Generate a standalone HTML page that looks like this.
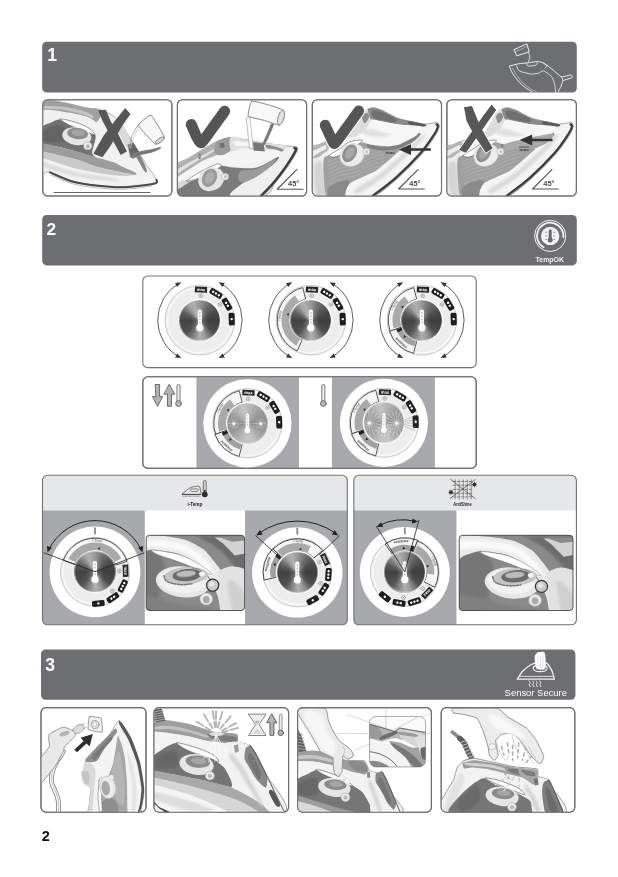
<!DOCTYPE html>
<html lang="en">
<head>
<meta charset="utf-8">
<title>Quick guide 2</title>
<style>
html,body{margin:0;padding:0;background:#fff;}
body{width:618px;height:877px;overflow:hidden;position:relative;font-family:"Liberation Sans",sans-serif;}
svg{position:absolute;left:0;top:0;display:block;filter:blur(0.35px);}
text{font-family:"Liberation Sans",sans-serif;}
.knob{width:100%;height:100%;border-radius:50%;}
</style>
</head>
<body>
<svg width="618" height="877" viewBox="0 0 618 877">
<!-- p_00_defs -->
<defs>
<linearGradient id="gBody" x1="0" y1="0" x2="0" y2="1"><stop offset="0" stop-color="#f4f4f4"/><stop offset="1" stop-color="#d0d0d0"/></linearGradient>
<radialGradient id="gKnobSh" cx="0.5" cy="0.5" r="0.5"><stop offset="0.85" stop-color="#000" stop-opacity="0"/><stop offset="1" stop-color="#000" stop-opacity="0.25"/></radialGradient>
<filter id="b1" x="-20%" y="-20%" width="140%" height="140%"><feGaussianBlur stdDeviation="1"/></filter>
<filter id="b2" x="-20%" y="-20%" width="140%" height="140%"><feGaussianBlur stdDeviation="2"/></filter>
<filter id="b4" x="-30%" y="-30%" width="160%" height="160%"><feGaussianBlur stdDeviation="4"/></filter>
<filter id="b8" x="-30%" y="-30%" width="160%" height="160%"><feGaussianBlur stdDeviation="8"/></filter>
<marker id="ah" viewBox="0 0 10 10" refX="8" refY="5" markerWidth="5" markerHeight="5" orient="auto-start-reverse"><path d="M0,0L10,5L0,10Z" fill="#333"/></marker>
</defs>
<!-- p_10_frame -->
<rect x="42.2" y="41.8" width="534.6" height="50.8" rx="4.5" fill="#6d6e71"/>
<rect x="42.2" y="215" width="534.6" height="50.4" rx="4.5" fill="#6d6e71"/>
<rect x="41" y="649.4" width="534.4" height="50.4" rx="4.5" fill="#6d6e71"/>
<text x="47.2" y="60.7" font-size="17.6" font-weight="bold" fill="#fff">1</text>
<text x="46.6" y="234.8" font-size="17.4" font-weight="bold" fill="#fff">2</text>
<text x="45.2" y="670.5" font-size="17.6" font-weight="bold" fill="#fff">3</text>
<text x="41.8" y="840.9" font-size="14.5" font-weight="bold" fill="#111">2</text>
<!-- p_15_icons -->
<clipPath id="cpH1"><rect x="42.2" y="41.8" width="534.6" height="50.8" rx="4.5"/></clipPath>
<g clip-path="url(#cpH1)"><g transform="translate(490,36) scale(0.16181)" ><path d="M150.0,84.0L228.0,48.0L242.0,98.0L168.0,122.0Z" fill="none" stroke="#f2f2f2" stroke-width="6" stroke-linejoin="round" stroke-linecap="round"/><path d="M160.0,96.0L232.0,64.0" fill="none" stroke="#f2f2f2" stroke-width="4" stroke-linejoin="round" stroke-linecap="round" opacity="0.7"/><path d="M238.0,100.0C239.3,105.0 246.3,119.7 246.0,130.0C245.7,140.3 237.7,156.7 236.0,162.0" fill="none" stroke="#f2f2f2" stroke-width="5" stroke-linejoin="round" stroke-linecap="round"/><path d="M120.0,186.0C125.5,184.6 163.8,174.0 175.0,172.0C186.2,170.0 220.5,167.4 232.0,166.0C243.5,164.6 280.2,158.0 290.0,158.0C299.8,158.0 320.0,160.8 330.0,166.0C340.0,171.2 378.8,201.4 390.0,210.0C401.2,218.6 431.0,249.0 442.0,252.0C453.0,255.0 493.6,239.4 500.0,240.0C506.4,240.6 510.8,254.4 506.0,258.0C501.2,261.6 458.6,270.8 452.0,276.0C445.4,281.2 443.2,303.0 440.0,310.0C436.8,317.0 422.0,342.4 420.0,346.0" fill="none" stroke="#f2f2f2" stroke-width="6" stroke-linejoin="round" stroke-linecap="round"/><path d="M120.0,186.0C123.3,193.7 130.0,215.7 140.0,232.0C150.0,248.3 166.7,269.3 180.0,284.0C193.3,298.7 206.3,309.7 220.0,320.0C233.7,330.3 255.0,341.7 262.0,346.0" fill="none" stroke="#f2f2f2" stroke-width="6" stroke-linejoin="round" stroke-linecap="round"/><path d="M140.0,200.0C145.0,208.3 158.3,234.0 170.0,250.0C181.7,266.0 196.7,283.3 210.0,296.0C223.3,308.7 236.7,317.7 250.0,326.0C263.3,334.3 283.3,342.7 290.0,346.0" fill="none" stroke="#f2f2f2" stroke-width="4" stroke-linejoin="round" stroke-linecap="round" opacity="0.75"/><path d="M165.0,182.0C166.5,185.3 171.5,209.7 180.0,215.0C188.5,220.3 238.0,233.5 250.0,235.0C262.0,236.5 292.0,232.0 300.0,230.0C308.0,228.0 322.0,213.0 330.0,215.0C338.0,217.0 373.0,241.5 380.0,250.0C387.0,258.5 397.5,290.4 400.0,300.0C402.5,309.6 404.5,341.4 405.0,346.0" fill="none" stroke="#f2f2f2" stroke-width="5" stroke-linejoin="round" stroke-linecap="round"/><path d="M225.0,168.0C226.0,169.8 229.0,184.8 235.0,186.0C241.0,187.2 279.3,182.6 285.0,180.0C290.7,177.4 291.3,162.0 292.0,160.0" fill="none" stroke="#f2f2f2" stroke-width="5" stroke-linejoin="round" stroke-linecap="round"/><path d="M330.0,170.0C333.3,172.0 348.3,177.0 350.0,182.0C351.7,187.0 341.7,197.0 340.0,200.0" fill="none" stroke="#f2f2f2" stroke-width="4" stroke-linejoin="round" stroke-linecap="round"/><path d="M442.0,252.0L452.0,276.0" fill="none" stroke="#f2f2f2" stroke-width="5" stroke-linejoin="round" stroke-linecap="round"/></g></g>
<circle cx="550.2" cy="235.9" r="15.6" fill="none" stroke="#f2f2f2" stroke-width="1"/>
<path d="M543.60,247.33A13.20,13.20 0 1 1 563.35,237.05" fill="none" stroke="#f2f2f2" stroke-width="1.8" stroke-linecap="round"/>
<circle cx="550.2" cy="235.9" r="9.2" fill="#f2f2f2"/>
<rect x="548.7" y="229.3" width="3" height="10" rx="1.5" fill="#6a6a6a"/>
<circle cx="550.2" cy="239.9" r="2.5" fill="#6a6a6a"/>
<path d="M545.2,232.3h2M545.2,235.9h2M545.2,239.5h2M553.2,232.3h2M553.2,235.9h2M553.2,239.5h2" stroke="#8a8a8a" stroke-width="0.8" fill="none"/>
<text x="549.8" y="261.5" font-size="6.9" font-weight="bold" fill="#f2f2f2" text-anchor="middle" textLength="28.6" lengthAdjust="spacingAndGlyphs">TempOK</text>
<g transform="translate(490,644) scale(0.16181)" ><path d="M170.0,216.0C173.0,211.4 192.0,178.6 200.0,170.0C208.0,161.4 240.0,135.8 250.0,130.0C260.0,124.2 290.0,113.2 300.0,112.0C310.0,110.8 342.0,113.2 350.0,118.0C358.0,122.8 375.6,151.8 380.0,160.0C384.4,168.2 392.4,194.4 394.0,200.0C395.6,205.6 395.8,214.4 396.0,216.0" fill="none" stroke="#f2f2f2" stroke-width="8" stroke-linejoin="round" stroke-linecap="round"/><path d="M168.0,217.0L398.0,217.0" fill="none" stroke="#f2f2f2" stroke-width="8" stroke-linejoin="round" stroke-linecap="round"/><path d="M182.0,200.0L392.0,200.0" fill="none" stroke="#f2f2f2" stroke-width="5" stroke-linejoin="round" stroke-linecap="round"/><ellipse cx="310" cy="150" rx="44" ry="21" fill="#6d6e71" stroke="#f2f2f2" stroke-width="7" stroke-linejoin="round" stroke-linecap="round"/><path d="M276.0,78.0C276.4,71.2 281.6,64.8 284.0,62.0C286.4,59.2 295.2,51.4 300.0,50.0C304.8,48.6 327.8,46.0 332.0,48.0C336.2,50.0 340.8,60.8 342.0,70.0C343.2,79.2 345.0,131.2 344.0,140.0C343.0,148.8 337.4,156.6 332.0,158.0C326.6,159.4 295.2,156.8 290.0,154.0C284.8,151.2 281.4,137.6 280.0,130.0C278.6,122.4 275.6,84.8 276.0,78.0Z" fill="#fff"/><path d="M296.0,80.0L296.0,140.0" fill="none" stroke="#bbb" stroke-width="3" stroke-linejoin="round" stroke-linecap="round"/><path d="M312.0,80.0L312.0,145.0" fill="none" stroke="#bbb" stroke-width="3" stroke-linejoin="round" stroke-linecap="round"/><path d="M327.0,80.0L327.0,140.0" fill="none" stroke="#bbb" stroke-width="3" stroke-linejoin="round" stroke-linecap="round"/><path d="M240.0,228.0C241.3,230.0 247.7,236.0 248.0,240.0C248.3,244.0 241.7,248.0 242.0,252.0C242.3,256.0 248.7,262.0 250.0,264.0" fill="none" stroke="#f2f2f2" stroke-width="6" stroke-linejoin="round" stroke-linecap="round"/><path d="M262.0,228.0C263.3,230.0 269.7,236.0 270.0,240.0C270.3,244.0 263.7,248.0 264.0,252.0C264.3,256.0 270.7,262.0 272.0,264.0" fill="none" stroke="#f2f2f2" stroke-width="6" stroke-linejoin="round" stroke-linecap="round"/><path d="M284.0,228.0C285.3,230.0 291.7,236.0 292.0,240.0C292.3,244.0 285.7,248.0 286.0,252.0C286.3,256.0 292.7,262.0 294.0,264.0" fill="none" stroke="#f2f2f2" stroke-width="6" stroke-linejoin="round" stroke-linecap="round"/><path d="M306.0,228.0C307.3,230.0 313.7,236.0 314.0,240.0C314.3,244.0 307.7,248.0 308.0,252.0C308.3,256.0 314.7,262.0 316.0,264.0" fill="none" stroke="#f2f2f2" stroke-width="6" stroke-linejoin="round" stroke-linecap="round"/></g>
<!-- p_20_sec1 -->
<clipPath id="cp10"><rect x="42.8" y="99.7" width="129.10000000000002" height="96.3" rx="5"/></clipPath>
<rect x="42.8" y="99.7" width="129.10000000000002" height="96.3" rx="5" fill="#fff" stroke="#707173" stroke-width="1.1"/>
<clipPath id="cp11"><rect x="177.4" y="99.7" width="129.20000000000002" height="96.3" rx="5"/></clipPath>
<rect x="177.4" y="99.7" width="129.20000000000002" height="96.3" rx="5" fill="#fff" stroke="#707173" stroke-width="1.1"/>
<clipPath id="cp12"><rect x="312.3" y="99.7" width="129.2" height="96.3" rx="5"/></clipPath>
<rect x="312.3" y="99.7" width="129.2" height="96.3" rx="5" fill="#fff" stroke="#707173" stroke-width="1.1"/>
<clipPath id="cp13"><rect x="446.9" y="99.7" width="129.5" height="96.3" rx="5"/></clipPath>
<rect x="446.9" y="99.7" width="129.5" height="96.3" rx="5" fill="#fff" stroke="#707173" stroke-width="1.1"/>
<!-- p_21_p11 -->
<g clip-path="url(#cp10)"><g transform="translate(42,98) scale(0.11403)" ><path d="M0.0,60.0C10.0,-38.3 26.7,23.0 60.0,20.0C93.3,17.0 143.3,30.7 200.0,42.0C256.7,53.3 350.0,78.3 400.0,88.0C450.0,97.7 460.0,86.3 500.0,100.0C540.0,113.7 596.7,131.7 640.0,170.0C683.3,208.3 716.7,265.0 760.0,330.0C803.3,395.0 859.3,495.8 900.0,560.0C940.7,624.2 989.0,683.3 1004.0,715.0C1019.0,746.7 1024.0,740.8 990.0,750.0C956.0,759.2 862.7,765.8 800.0,770.0C737.3,774.2 697.3,780.8 614.0,775.0C530.7,769.2 390.7,755.8 300.0,735.0C209.3,714.2 120.0,670.8 70.0,650.0C20.0,629.2 11.7,708.3 0.0,610.0C-11.7,511.7 -10.0,158.3 0.0,60.0Z" fill="#f1f1f1" stroke="#9a9a9a" stroke-width="7" stroke-linejoin="round" stroke-linecap="round"/><path d="M0.0,30.0C10.0,13.7 26.7,18.0 60.0,20.0C93.3,22.0 143.3,30.7 200.0,42.0C256.7,53.3 351.7,78.3 400.0,88.0C448.3,97.7 470.0,91.3 490.0,100.0C510.0,108.7 523.3,120.8 520.0,140.0C516.7,159.2 493.3,210.0 470.0,215.0C446.7,220.0 425.0,184.2 380.0,170.0C335.0,155.8 263.3,138.7 200.0,130.0C136.7,121.3 33.3,134.7 0.0,118.0C-33.3,101.3 -10.0,46.3 0.0,30.0Z" fill="#a0a0a0"/><path d="M30.0,70.0C58.3,67.5 141.7,71.7 200.0,80.0C258.3,88.3 338.3,106.7 380.0,120.0C421.7,133.3 440.0,150.8 450.0,160.0C460.0,169.2 455.0,177.5 440.0,175.0C425.0,172.5 400.0,156.7 360.0,145.0C320.0,133.3 255.0,113.3 200.0,105.0C145.0,96.7 58.3,100.8 30.0,95.0C1.7,89.2 1.7,72.5 30.0,70.0Z" fill="#c4c4c4" filter="url(#b4)"/><path d="M0.0,112.0C33.3,90.7 136.7,114.0 200.0,122.0C263.3,130.0 335.0,145.3 380.0,160.0C425.0,174.7 446.7,186.7 470.0,210.0C493.3,233.3 518.3,278.3 520.0,300.0C521.7,321.7 516.7,350.0 480.0,340.0C443.3,330.0 355.0,265.8 300.0,240.0C245.0,214.2 200.0,183.3 150.0,185.0C100.0,186.7 25.0,262.2 0.0,250.0C-25.0,237.8 -33.3,133.3 0.0,112.0Z" fill="#f0f0f0"/><path d="M0.0,262.0C13.3,231.2 53.3,227.0 80.0,215.0C106.7,203.0 130.0,186.7 160.0,190.0C190.0,193.3 220.0,218.3 260.0,235.0C300.0,251.7 365.0,274.2 400.0,290.0C435.0,305.8 463.3,298.3 470.0,330.0C476.7,361.7 440.0,448.3 440.0,480.0C440.0,511.7 493.3,521.7 470.0,520.0C446.7,518.3 353.3,485.0 300.0,470.0C246.7,455.0 200.0,441.7 150.0,430.0C100.0,418.3 25.0,428.0 0.0,400.0C-25.0,372.0 -13.3,292.8 0.0,262.0Z" fill="#727272"/><path d="M0.0,300.0C20.0,276.7 86.7,246.7 120.0,240.0C153.3,233.3 186.7,236.7 200.0,260.0C213.3,283.3 233.3,360.0 200.0,380.0C166.7,400.0 33.3,393.3 0.0,380.0C-33.3,366.7 -20.0,323.3 0.0,300.0Z" fill="#5f5f5f" opacity="0.7" filter="url(#b8)"/><path d="M160.0,185.0C161.7,179.5 201.7,188.3 230.0,195.0C258.3,201.7 298.3,212.5 330.0,225.0C361.7,237.5 398.0,253.8 420.0,270.0C442.0,286.2 465.3,317.0 462.0,322.0C458.7,327.0 427.0,310.0 400.0,300.0C373.0,290.0 330.0,274.0 300.0,262.0C270.0,250.0 243.3,240.8 220.0,228.0C196.7,215.2 158.3,190.5 160.0,185.0Z" fill="#fdfdfd" stroke="#555" stroke-width="5" stroke-linejoin="round" stroke-linecap="round"/><ellipse cx="305" cy="335" rx="128" ry="78" transform="rotate(8 305 335)" fill="#e6e6e6"/><ellipse cx="312" cy="312" rx="92" ry="50" transform="rotate(6 312 312)" fill="#8c8c8c"/><ellipse cx="318" cy="305" rx="60" ry="30" transform="rotate(6 318 305)" fill="#a2a2a2" filter="url(#b4)"/><ellipse cx="402" cy="420" rx="36" ry="34" fill="#ececec" stroke="#aaa" stroke-width="5" stroke-linejoin="round" stroke-linecap="round"/><ellipse cx="402" cy="424" rx="18" ry="18" fill="#b9b9b9"/><path d="M0.0,400.0C25.0,393.3 100.0,418.3 150.0,430.0C200.0,441.7 246.7,455.0 300.0,470.0C353.3,485.0 417.7,505.0 470.0,520.0C522.3,535.0 575.7,546.7 614.0,560.0C652.3,573.3 665.7,584.2 700.0,600.0C734.3,615.8 803.3,643.0 820.0,655.0C836.7,667.0 830.0,674.5 800.0,672.0C770.0,669.5 695.0,652.0 640.0,640.0C585.0,628.0 526.7,616.7 470.0,600.0C413.3,583.3 378.3,561.7 300.0,540.0C221.7,518.3 50.0,493.3 0.0,470.0C-50.0,446.7 -25.0,406.7 0.0,400.0Z" fill="#9c9c9c"/><path d="M0.0,470.0C50.0,471.7 221.7,518.3 300.0,540.0C378.3,561.7 413.3,583.3 470.0,600.0C526.7,616.7 585.0,628.0 640.0,640.0C695.0,652.0 800.0,665.3 800.0,672.0C800.0,678.7 723.3,688.7 640.0,680.0C556.7,671.3 406.7,645.0 300.0,620.0C193.3,595.0 50.0,555.0 0.0,530.0C-50.0,505.0 -50.0,468.3 0.0,470.0Z" fill="#c9c9c9"/><path d="M0.0,530.0C50.0,531.7 193.3,595.0 300.0,620.0C406.7,645.0 540.0,668.3 640.0,680.0C740.0,691.7 840.0,683.3 900.0,690.0C960.0,696.7 1016.7,708.0 1000.0,720.0C983.3,732.0 864.3,753.7 800.0,762.0C735.7,770.3 697.3,775.7 614.0,770.0C530.7,764.3 390.7,748.8 300.0,728.0C209.3,707.2 120.0,664.7 70.0,645.0C20.0,625.3 11.7,629.2 0.0,610.0C-11.7,590.8 -50.0,528.3 0.0,530.0Z" fill="#f3f3f3"/><path d="M0.0,560.0C50.0,568.3 193.3,625.8 300.0,650.0C406.7,674.2 583.3,691.7 640.0,705.0C696.7,718.3 696.7,732.5 640.0,730.0C583.3,727.5 406.7,711.7 300.0,690.0C193.3,668.3 50.0,621.7 0.0,600.0C-50.0,578.3 -50.0,551.7 0.0,560.0Z" fill="#dcdcdc" filter="url(#b8)"/><path d="M70.0,652.0C108.3,667.0 209.3,720.7 300.0,742.0C390.7,763.3 530.7,774.3 614.0,780.0C697.3,785.7 737.3,781.0 800.0,776.0C862.7,771.0 956.0,759.7 990.0,750.0C1024.0,740.3 1001.7,723.3 1004.0,718.0" fill="none" stroke="#4a4a4a" stroke-width="18" stroke-linejoin="round" stroke-linecap="round"/><path d="M80.0,676.0C116.7,690.0 211.0,739.7 300.0,760.0C389.0,780.3 530.7,792.3 614.0,798.0C697.3,803.7 742.3,798.3 800.0,794.0C857.7,789.7 933.3,775.7 960.0,772.0" fill="none" stroke="#9a9a9a" stroke-width="6" stroke-linejoin="round" stroke-linecap="round"/><path d="M770.0,350.0C783.0,361.7 809.2,413.3 830.0,450.0C850.8,486.7 880.0,538.3 895.0,570.0C910.0,601.7 919.2,627.5 920.0,640.0C920.8,652.5 911.7,658.3 900.0,645.0C888.3,631.7 867.5,590.8 850.0,560.0C832.5,529.2 811.3,490.0 795.0,460.0C778.7,430.0 756.2,398.3 752.0,380.0C747.8,361.7 757.0,338.3 770.0,350.0Z" fill="#868686"/><path d="M640.0,240.0C641.7,221.7 680.0,215.0 700.0,230.0C720.0,245.0 743.3,296.7 760.0,330.0C776.7,363.3 801.7,411.7 800.0,430.0C798.3,448.3 768.3,455.0 750.0,440.0C731.7,425.0 708.3,373.3 690.0,340.0C671.7,306.7 638.3,258.3 640.0,240.0Z" fill="#d9d9d9"/><path d="M750.0,410.0L800.0,390.0L850.0,470.0L800.0,530.0L770.0,500.0Z" fill="#666"/><path d="M770.0,500.0C778.3,490.0 818.3,478.3 850.0,470.0C881.7,461.7 928.3,456.7 960.0,450.0C991.7,443.3 1028.3,430.0 1040.0,430.0C1051.7,430.0 1043.3,441.7 1030.0,450.0C1016.7,458.3 988.3,471.7 960.0,480.0C931.7,488.3 886.7,491.7 860.0,500.0C833.3,508.3 815.0,530.0 800.0,530.0C785.0,530.0 761.7,510.0 770.0,500.0Z" fill="#787878"/><path d="M843.0,240.0C841.0,227.2 943.5,145.0 955.0,150.0C966.5,155.0 1070.0,327.2 1072.0,340.0C1074.0,352.8 1006.5,410.0 995.0,405.0C983.5,400.0 845.0,252.8 843.0,240.0Z" fill="#f7f7f7" stroke="#7c7c7c" stroke-width="8" stroke-linejoin="round" stroke-linecap="round"/><ellipse cx="1034" cy="372" rx="46" ry="18" transform="rotate(-35 1034 372)" fill="#d4d4d4" stroke="#808080" stroke-width="7" stroke-linejoin="round" stroke-linecap="round"/><path d="M835.0,245.0L790.0,330.0L760.0,440.0" fill="none" stroke="#aaa" stroke-width="8" stroke-linejoin="round" stroke-linecap="round"/><path d="M850.0,250.0L810.0,330.0L775.0,440.0" fill="none" stroke="#ccc" stroke-width="7" stroke-linejoin="round" stroke-linecap="round"/><path d="M492.0,108.0L560.0,104.0L600.0,200.0L660.0,300.0L745.0,470.0L690.0,500.0L600.0,330.0L530.0,200.0Z" fill="#575757"/><path d="M730.0,88.0L776.0,140.0L700.0,250.0L600.0,420.0L530.0,520.0L450.0,490.0L540.0,330.0L640.0,200.0Z" fill="#575757"/><path d="M105.0,829.0L948.0,829.0" fill="none" stroke="#666" stroke-width="9" stroke-linejoin="round" stroke-linecap="round"/></g></g><rect x="42.8" y="99.7" width="129.1" height="96.3" rx="5" fill="none" stroke="#707173" stroke-width="1.1"/>
<!-- p_22_p12 -->
<g clip-path="url(#cp11)"><g transform="translate(177,98) scale(0.11403)" ><path d="M-20.0,600.0C-6.0,561.5 72.0,546.9 100.0,530.0C128.0,513.1 190.8,472.3 220.0,455.0C249.2,437.7 320.8,394.8 350.0,382.0C379.2,369.2 439.2,346.6 470.0,345.0C500.8,343.4 575.5,361.6 614.0,368.0C652.5,374.4 759.6,393.9 800.0,400.0C840.4,406.1 932.0,416.7 960.0,420.0C988.0,423.3 1028.8,424.3 1040.0,428.0C1051.2,431.7 1065.3,430.8 1056.0,452.0C1046.7,473.2 982.9,576.4 960.0,610.0C937.1,643.6 885.7,710.8 860.0,740.0C834.3,769.2 842.7,846.0 740.0,860.0C637.3,874.0 68.7,890.3 -20.0,860.0C-108.7,829.7 -34.0,638.5 -20.0,600.0Z" fill="#f0f0f0" stroke="#8c8c8c" stroke-width="7" stroke-linejoin="round" stroke-linecap="round"/><path d="M-20.0,600.0C0.0,569.7 60.0,554.2 100.0,530.0C140.0,505.8 178.3,479.7 220.0,455.0C261.7,430.3 320.0,391.2 350.0,382.0C380.0,372.8 395.0,383.7 400.0,400.0C405.0,416.3 406.7,455.8 380.0,480.0C353.3,504.2 286.7,519.7 240.0,545.0C193.3,570.3 143.3,604.2 100.0,632.0C56.7,659.8 0.0,717.3 -20.0,712.0C-40.0,706.7 -40.0,630.3 -20.0,600.0Z" fill="#b0b0b0"/><path d="M-20.0,645.0C0.0,627.0 56.7,595.0 100.0,570.0C143.3,545.0 200.0,516.7 240.0,495.0C280.0,473.3 325.0,445.5 340.0,440.0C355.0,434.5 346.7,449.0 330.0,462.0C313.3,475.0 278.3,495.0 240.0,518.0C201.7,541.0 143.3,573.3 100.0,600.0C56.7,626.7 0.0,670.5 -20.0,678.0C-40.0,685.5 -40.0,663.0 -20.0,645.0Z" fill="#e2e2e2" filter="url(#b4)"/><path d="M350.0,382.0C373.3,359.5 445.0,348.7 470.0,345.0C495.0,341.3 500.0,340.8 500.0,360.0C500.0,379.2 486.7,436.7 470.0,460.0C453.3,483.3 423.3,496.7 400.0,500.0C376.7,503.3 338.3,499.7 330.0,480.0C321.7,460.3 326.7,404.5 350.0,382.0Z" fill="#9b9b9b"/><path d="M370.0,400.0L410.0,392.0L420.0,430.0L385.0,440.0Z" fill="#6e6e6e" filter="url(#b2)"/><path d="M185.0,490.0L205.0,480.0L210.0,530.0L190.0,540.0Z" fill="#8a8a8a" filter="url(#b2)"/><path d="M470.0,345.0C492.3,328.0 559.0,358.8 614.0,368.0C669.0,377.2 742.3,391.3 800.0,400.0C857.7,408.7 943.3,408.3 960.0,420.0C976.7,431.7 943.3,465.0 900.0,470.0C856.7,475.0 756.7,455.0 700.0,450.0C643.3,445.0 596.7,436.7 560.0,440.0C523.3,443.3 495.0,485.8 480.0,470.0C465.0,454.2 447.7,362.0 470.0,345.0Z" fill="#dedede"/><path d="M500.0,380.0C515.7,375.0 564.0,383.3 614.0,390.0C664.0,396.7 769.0,411.7 800.0,420.0C831.0,428.3 831.0,440.0 800.0,440.0C769.0,440.0 660.7,423.3 614.0,420.0C567.3,416.7 539.0,426.7 520.0,420.0C501.0,413.3 484.3,385.0 500.0,380.0Z" fill="#f6f6f6" filter="url(#b4)"/><path d="M-20.0,712.0C0.0,689.0 56.7,659.8 100.0,632.0C143.3,604.2 190.0,566.2 240.0,545.0C290.0,523.8 360.0,517.5 400.0,505.0C440.0,492.5 430.0,479.2 480.0,470.0C530.0,460.8 630.0,450.0 700.0,450.0C770.0,450.0 871.7,458.3 900.0,470.0C928.3,481.7 903.3,505.0 870.0,520.0C836.7,535.0 761.7,546.7 700.0,560.0C638.3,573.3 558.3,595.8 500.0,600.0C441.7,604.2 400.0,576.7 350.0,585.0C300.0,593.3 261.7,619.2 200.0,650.0C138.3,680.8 16.7,759.7 -20.0,770.0C-56.7,780.3 -40.0,735.0 -20.0,712.0Z" fill="#f4f4f4"/><path d="M-20.0,800.0C-3.3,780.8 43.3,761.7 80.0,745.0C116.7,728.3 155.0,724.2 200.0,700.0C245.0,675.8 300.0,615.0 350.0,600.0C400.0,585.0 441.7,608.3 500.0,610.0C558.3,611.7 636.7,625.0 700.0,610.0C763.3,595.0 851.7,528.3 880.0,520.0C908.3,511.7 900.0,531.7 870.0,560.0C840.0,588.3 751.7,656.7 700.0,690.0C648.3,723.3 598.3,731.7 560.0,760.0C521.7,788.3 566.7,843.3 470.0,860.0C373.3,876.7 61.7,870.0 -20.0,860.0C-101.7,850.0 -36.7,819.2 -20.0,800.0Z" fill="#7b7b7b"/><path d="M560.0,640.0C586.7,623.3 650.0,636.7 700.0,620.0C750.0,603.3 840.0,543.3 860.0,540.0C880.0,536.7 846.7,575.0 820.0,600.0C793.3,625.0 736.7,666.7 700.0,690.0C663.3,713.3 626.7,735.0 600.0,740.0C573.3,745.0 546.7,736.7 540.0,720.0C533.3,703.3 533.3,656.7 560.0,640.0Z" fill="#9a9a9a"/><path d="M470.0,860.0C440.0,843.3 521.7,788.3 560.0,760.0C598.3,731.7 653.3,718.3 700.0,690.0C746.7,661.7 806.7,618.3 840.0,590.0C873.3,561.7 883.3,540.0 900.0,520.0C916.7,500.0 923.3,480.0 940.0,470.0C956.7,460.0 996.7,436.7 1000.0,460.0C1003.3,483.3 983.3,563.3 960.0,610.0C936.7,656.7 896.7,698.3 860.0,740.0C823.3,781.7 805.0,840.0 740.0,860.0C675.0,880.0 500.0,876.7 470.0,860.0Z" fill="#efefef"/><path d="M-20.0,760.0C-6.7,745.0 40.0,723.3 60.0,720.0C80.0,716.7 113.3,725.0 100.0,740.0C86.7,755.0 0.0,806.7 -20.0,810.0C-40.0,813.3 -33.3,775.0 -20.0,760.0Z" fill="#d8d8d8"/><path d="M85.0,728.0C85.0,719.7 155.8,674.7 200.0,650.0C244.2,625.3 319.2,588.7 350.0,580.0C380.8,571.3 393.3,586.3 385.0,598.0C376.7,609.7 330.8,633.0 300.0,650.0C269.2,667.0 235.8,687.0 200.0,700.0C164.2,713.0 85.0,736.3 85.0,728.0Z" fill="#fdfdfd" stroke="#555" stroke-width="5" stroke-linejoin="round" stroke-linecap="round"/><ellipse cx="300" cy="712" rx="118" ry="100" transform="rotate(-30 300 712)" fill="#e4e4e4"/><ellipse cx="285" cy="700" rx="62" ry="84" transform="rotate(28 285 700)" fill="#9a9a9a"/><ellipse cx="285" cy="700" rx="36" ry="56" transform="rotate(28 285 700)" fill="#adadad" filter="url(#b4)"/><ellipse cx="422" cy="690" rx="32" ry="30" fill="#ececec" stroke="#aaa" stroke-width="5" stroke-linejoin="round" stroke-linecap="round"/><ellipse cx="425" cy="690" rx="14" ry="14" fill="#c0c0c0"/><path d="M1040.0,432.0C1042.0,436.7 1065.3,430.0 1052.0,460.0C1038.7,490.0 992.0,565.0 960.0,612.0C928.0,659.0 895.0,700.7 860.0,742.0C825.0,783.3 768.3,840.3 750.0,860.0" fill="none" stroke="#9a9a9a" stroke-width="12" stroke-linejoin="round" stroke-linecap="round"/><path d="M1030.0,440.0C1031.7,443.7 1053.3,434.0 1040.0,462.0C1026.7,490.0 981.7,562.0 950.0,608.0C918.3,654.0 885.8,696.0 850.0,738.0C814.2,780.0 754.2,839.7 735.0,860.0" fill="none" stroke="#3c3c3c" stroke-width="21" stroke-linejoin="round" stroke-linecap="round"/><path d="M665.0,385.0L760.0,400.0L770.0,470.0L670.0,460.0Z" fill="#777"/><path d="M780.0,410.0C791.7,407.5 835.0,418.3 860.0,425.0C885.0,431.7 920.0,442.5 930.0,450.0C940.0,457.5 931.7,470.0 920.0,470.0C908.3,470.0 881.7,455.0 860.0,450.0C838.3,445.0 803.3,446.7 790.0,440.0C776.7,433.3 768.3,412.5 780.0,410.0Z" fill="#8c8c8c" filter="url(#b2)"/><path d="M825.0,225.0C835.0,212.0 852.5,214.5 850.0,232.0C847.5,249.5 823.3,300.3 810.0,330.0C796.7,359.7 779.7,398.3 770.0,410.0C760.3,421.7 748.7,416.7 752.0,400.0C755.3,383.3 777.8,339.2 790.0,310.0C802.2,280.8 815.0,238.0 825.0,225.0Z" fill="#7a7a7a"/><path d="M610.0,170.0L640.0,165.0L668.0,440.0L640.0,445.0Z" fill="#fafafa" stroke="#b4b4b4" stroke-width="7" stroke-linejoin="round" stroke-linecap="round"/><path d="M655.0,28.0C666.7,21.3 781.3,54.5 800.0,60.0C818.7,65.5 928.3,98.1 935.0,110.0C941.7,121.9 911.7,232.3 900.0,238.0C888.3,243.7 778.3,200.2 760.0,195.0C741.7,189.8 632.0,171.1 625.0,160.0C618.0,148.9 643.3,34.7 655.0,28.0Z" fill="#f8f8f8" stroke="#808080" stroke-width="8" stroke-linejoin="round" stroke-linecap="round"/><ellipse cx="912" cy="172" rx="26" ry="66" transform="rotate(16 912 172)" fill="#e0e0e0" stroke="#808080" stroke-width="7" stroke-linejoin="round" stroke-linecap="round"/><path d="M625.0,160.0L760.0,195.0L880.0,232.0" fill="none" stroke="#b0b0b0" stroke-width="7" stroke-linejoin="round" stroke-linecap="round"/><path d="M125.0,232.0C129.5,242.3 161.0,319.0 170.0,335.0C179.0,351.0 201.0,399.0 215.0,392.0C229.0,385.0 289.7,292.6 310.0,265.0C330.3,237.4 407.2,130.9 418.0,116.0" fill="none" stroke="#555" stroke-width="96" stroke-linejoin="round" stroke-linecap="round"/><path d="M1052.0,626.0L879.0,800.0L1105.0,800.0" fill="none" stroke="#555" stroke-width="10" stroke-linejoin="round" stroke-linecap="round"/><text x="1023" y="776" font-size="58" font-weight="bold" fill="#484848" text-anchor="middle" textLength="98" lengthAdjust="spacingAndGlyphs">45°</text></g></g><rect x="177.4" y="99.7" width="129.2" height="96.3" rx="5" fill="none" stroke="#707173" stroke-width="1.1"/>
<!-- p_23_p13 -->
<g clip-path="url(#cp12)"><g transform="translate(312,98) scale(0.11403)" ><path d="M-20.0,450.0C-12.0,404.0 45.0,417.0 60.0,410.0C75.0,403.0 103.0,388.0 130.0,380.0C157.0,372.0 299.0,354.0 330.0,330.0C361.0,306.0 424.0,163.0 440.0,140.0C456.0,117.0 480.0,105.5 490.0,100.0C500.0,94.5 527.6,84.2 540.0,85.0C552.4,85.8 592.0,98.5 614.0,108.0C636.0,117.5 723.4,168.0 760.0,180.0C796.6,192.0 946.2,224.5 980.0,228.0C1013.8,231.5 1084.8,213.3 1098.0,215.0C1111.2,216.7 1113.8,234.5 1112.0,245.0C1110.2,255.5 1095.2,296.0 1080.0,320.0C1064.8,344.0 994.0,446.5 960.0,485.0C926.0,523.5 782.0,668.0 740.0,705.0C698.0,742.0 616.0,838.5 540.0,855.0C464.0,871.5 36.0,910.5 -20.0,870.0C-76.0,829.5 -28.0,496.0 -20.0,450.0Z" fill="#f2f2f2" stroke="#909090" stroke-width="7" stroke-linejoin="round" stroke-linecap="round"/><path d="M-20.0,450.0C-6.7,423.3 35.0,421.7 60.0,410.0C85.0,398.3 115.0,376.7 130.0,380.0C145.0,383.3 151.7,413.3 150.0,430.0C148.3,446.7 135.0,465.0 120.0,480.0C105.0,495.0 83.3,505.0 60.0,520.0C36.7,535.0 -6.7,581.7 -20.0,570.0C-33.3,558.3 -33.3,476.7 -20.0,450.0Z" fill="#b4b4b4"/><path d="M-20.0,480.0C-6.7,465.0 36.7,450.8 60.0,440.0C83.3,429.2 110.0,413.3 120.0,415.0C130.0,416.7 130.0,439.2 120.0,450.0C110.0,460.8 83.3,466.7 60.0,480.0C36.7,493.3 -6.7,530.0 -20.0,530.0C-33.3,530.0 -33.3,495.0 -20.0,480.0Z" fill="#ededed" filter="url(#b4)"/><path d="M-20.0,570.0C-6.7,513.3 36.7,535.3 60.0,520.0C83.3,504.7 111.7,464.7 120.0,478.0C128.3,491.3 108.3,536.3 110.0,600.0C111.7,663.7 151.7,816.7 130.0,860.0C108.3,903.3 5.0,908.3 -20.0,860.0C-45.0,811.7 -33.3,626.7 -20.0,570.0Z" fill="#ececec"/><path d="M20.0,600.0C26.7,551.7 66.7,543.3 80.0,560.0C93.3,576.7 93.3,651.7 100.0,700.0C106.7,748.3 130.0,825.0 120.0,850.0C110.0,875.0 56.7,891.7 40.0,850.0C23.3,808.3 13.3,648.3 20.0,600.0Z" fill="#d4d4d4" filter="url(#b8)"/><path d="M110.0,520.0C125.0,502.8 218.0,490.8 250.0,478.0C282.0,465.2 399.0,399.8 430.0,392.0C461.0,384.2 533.0,395.2 560.0,400.0C587.0,404.8 678.0,435.0 700.0,440.0C722.0,445.0 780.0,438.0 780.0,450.0C780.0,462.0 722.0,541.0 700.0,560.0C678.0,579.0 597.0,620.8 560.0,640.0C523.0,659.2 356.0,729.0 330.0,752.0C304.0,775.0 320.0,858.2 300.0,870.0C280.0,881.8 150.0,892.0 130.0,870.0C110.0,848.0 102.0,685.0 100.0,650.0C98.0,615.0 95.0,537.2 110.0,520.0Z" fill="#a0a0a0"/><path d="M150.0,780.0C173.3,755.0 270.0,724.7 300.0,720.0C330.0,715.3 330.0,727.0 330.0,752.0C330.0,777.0 328.3,850.3 300.0,870.0C271.7,889.7 185.0,885.0 160.0,870.0C135.0,855.0 126.7,805.0 150.0,780.0Z" fill="#8a8a8a" filter="url(#b4)"/><path d="M140.0,560.0C158.3,553.3 210.0,531.7 250.0,520.0C290.0,508.3 335.0,505.0 380.0,490.0C425.0,475.0 476.7,446.7 520.0,430.0C563.3,413.3 620.0,396.7 640.0,390.0" fill="none" stroke="#bcbcbc" stroke-width="5" stroke-linejoin="round" stroke-linecap="round" opacity="0.8"/><path d="M144.0,592.0C161.7,585.3 210.7,563.7 250.0,552.0C289.3,540.3 335.0,537.0 380.0,522.0C425.0,507.0 476.7,478.7 520.0,462.0C563.3,445.3 620.0,428.7 640.0,422.0" fill="none" stroke="#bcbcbc" stroke-width="5" stroke-linejoin="round" stroke-linecap="round" opacity="0.8"/><path d="M148.0,624.0C165.0,617.3 211.3,595.7 250.0,584.0C288.7,572.3 335.0,569.0 380.0,554.0C425.0,539.0 476.7,510.7 520.0,494.0C563.3,477.3 620.0,460.7 640.0,454.0" fill="none" stroke="#bcbcbc" stroke-width="5" stroke-linejoin="round" stroke-linecap="round" opacity="0.8"/><path d="M152.0,656.0C168.3,649.3 212.0,627.7 250.0,616.0C288.0,604.3 335.0,601.0 380.0,586.0C425.0,571.0 476.7,542.7 520.0,526.0C563.3,509.3 620.0,492.7 640.0,486.0" fill="none" stroke="#bcbcbc" stroke-width="5" stroke-linejoin="round" stroke-linecap="round" opacity="0.8"/><path d="M156.0,688.0C171.7,681.3 212.7,659.7 250.0,648.0C287.3,636.3 335.0,633.0 380.0,618.0C425.0,603.0 476.7,574.7 520.0,558.0C563.3,541.3 620.0,524.7 640.0,518.0" fill="none" stroke="#bcbcbc" stroke-width="5" stroke-linejoin="round" stroke-linecap="round" opacity="0.8"/><path d="M160.0,720.0C175.0,713.3 213.3,691.7 250.0,680.0C286.7,668.3 335.0,665.0 380.0,650.0C425.0,635.0 476.7,606.7 520.0,590.0C563.3,573.3 620.0,556.7 640.0,550.0" fill="none" stroke="#bcbcbc" stroke-width="5" stroke-linejoin="round" stroke-linecap="round" opacity="0.8"/><path d="M164.0,752.0C178.3,745.3 214.0,723.7 250.0,712.0C286.0,700.3 335.0,697.0 380.0,682.0C425.0,667.0 476.7,638.7 520.0,622.0C563.3,605.3 620.0,588.7 640.0,582.0" fill="none" stroke="#bcbcbc" stroke-width="5" stroke-linejoin="round" stroke-linecap="round" opacity="0.8"/><path d="M300.0,870.0C279.0,859.7 304.0,775.0 330.0,752.0C356.0,729.0 517.0,668.2 560.0,640.0C603.0,611.8 720.0,504.5 760.0,470.0C800.0,435.5 928.0,318.8 960.0,295.0C992.0,271.2 1066.0,236.5 1080.0,232.0C1094.0,227.5 1112.0,225.2 1100.0,250.0C1088.0,274.8 996.0,435.0 960.0,480.0C924.0,525.0 782.0,662.5 740.0,700.0C698.0,737.5 584.0,838.0 540.0,855.0C496.0,872.0 321.0,880.3 300.0,870.0Z" fill="#f4f4f4"/><path d="M380.0,800.0C410.0,771.7 530.0,713.3 600.0,660.0C670.0,606.7 740.0,535.0 800.0,480.0C860.0,425.0 930.0,351.7 960.0,330.0C990.0,308.3 1003.3,318.3 980.0,350.0C956.7,381.7 880.0,461.7 820.0,520.0C760.0,578.3 686.7,648.3 620.0,700.0C553.3,751.7 460.0,813.3 420.0,830.0C380.0,846.7 350.0,828.3 380.0,800.0Z" fill="#dadada" filter="url(#b8)"/><path d="M330.0,330.0C336.7,298.3 413.3,178.3 440.0,140.0C466.7,101.7 473.3,103.3 490.0,100.0C506.7,96.7 535.0,103.3 540.0,120.0C545.0,136.7 531.7,171.7 520.0,200.0C508.3,228.3 490.0,268.3 470.0,290.0C450.0,311.7 423.3,323.3 400.0,330.0C376.7,336.7 323.3,361.7 330.0,330.0Z" fill="#dcdcdc"/><path d="M440.0,160.0C443.3,145.0 470.0,128.3 480.0,130.0C490.0,131.7 503.3,155.0 500.0,170.0C496.7,185.0 470.0,221.7 460.0,220.0C450.0,218.3 436.7,175.0 440.0,160.0Z" fill="#8e8e8e" filter="url(#b4)"/><path d="M490.0,100.0C492.0,89.5 527.6,84.2 540.0,85.0C552.4,85.8 592.0,98.5 614.0,108.0C636.0,117.5 723.4,168.0 760.0,180.0C796.6,192.0 960.0,221.0 980.0,228.0C1000.0,235.0 982.0,249.6 960.0,250.0C938.0,250.4 794.6,236.5 760.0,232.0C725.4,227.5 638.0,209.2 614.0,205.0C590.0,200.8 532.4,200.5 520.0,190.0C507.6,179.5 488.0,110.5 490.0,100.0Z" fill="#8a8a8a"/><path d="M530.0,110.0C542.3,102.5 579.0,112.5 614.0,125.0C649.0,137.5 722.3,170.0 740.0,185.0C757.7,200.0 741.0,213.3 720.0,215.0C699.0,216.7 644.0,202.5 614.0,195.0C584.0,187.5 554.0,184.2 540.0,170.0C526.0,155.8 517.7,117.5 530.0,110.0Z" fill="#6f6f6f" filter="url(#b4)"/><path d="M850.0,205.0C866.7,203.8 935.0,220.5 960.0,225.0C985.0,229.5 996.7,227.8 1000.0,232.0C1003.3,236.2 1003.3,250.0 980.0,250.0C956.7,250.0 881.7,239.5 860.0,232.0C838.3,224.5 833.3,206.2 850.0,205.0Z" fill="#5a5a5a" filter="url(#b2)"/><path d="M400.0,330.0C399.0,319.0 458.0,304.0 470.0,290.0C482.0,276.0 505.6,198.5 520.0,190.0C534.4,181.5 590.0,200.8 614.0,205.0C638.0,209.2 725.4,227.5 760.0,232.0C794.6,236.5 946.0,240.2 960.0,250.0C974.0,259.8 920.0,315.0 900.0,330.0C880.0,345.0 788.6,391.0 760.0,400.0C731.4,409.0 642.0,420.0 614.0,420.0C586.0,420.0 501.4,409.0 480.0,400.0C458.6,391.0 401.0,341.0 400.0,330.0Z" fill="#f6f6f6"/><path d="M430.0,300.0C433.3,290.0 489.3,270.0 520.0,270.0C550.7,270.0 584.0,291.7 614.0,300.0C644.0,308.3 700.0,313.3 700.0,320.0C700.0,326.7 647.3,338.3 614.0,340.0C580.7,341.7 530.7,336.7 500.0,330.0C469.3,323.3 426.7,310.0 430.0,300.0Z" fill="#e0e0e0" filter="url(#b8)"/><path d="M480.0,405.0C491.4,404.2 586.0,427.5 614.0,428.0C642.0,428.5 731.4,418.8 760.0,410.0C788.6,401.2 882.0,350.5 900.0,340.0C918.0,329.5 935.0,306.5 940.0,305.0C945.0,303.5 956.0,316.5 950.0,325.0C944.0,333.5 899.0,378.0 880.0,390.0C861.0,402.0 786.6,437.8 760.0,445.0C733.4,452.2 640.0,462.9 614.0,462.0C588.0,461.1 513.4,441.7 500.0,436.0C486.6,430.3 468.6,405.8 480.0,405.0Z" fill="#808080"/><path d="M150.0,505.0C156.7,492.5 220.0,460.0 250.0,440.0C280.0,420.0 298.3,396.7 330.0,385.0C361.7,373.3 428.3,365.8 440.0,370.0C451.7,374.2 423.3,393.3 400.0,410.0C376.7,426.7 331.7,452.5 300.0,470.0C268.3,487.5 235.0,509.2 210.0,515.0C185.0,520.8 143.3,517.5 150.0,505.0Z" fill="#fdfdfd" stroke="#555" stroke-width="5" stroke-linejoin="round" stroke-linecap="round"/><ellipse cx="352" cy="500" rx="112" ry="96" transform="rotate(-30 352 500)" fill="#ececec" stroke="#c8c8c8" stroke-width="5" stroke-linejoin="round" stroke-linecap="round"/><ellipse cx="330" cy="485" rx="58" ry="84" transform="rotate(32 330 485)" fill="#8f8f8f"/><ellipse cx="332" cy="482" rx="34" ry="58" transform="rotate(32 332 482)" fill="#a8a8a8" filter="url(#b4)"/><ellipse cx="478" cy="470" rx="32" ry="30" fill="#efefef" stroke="#aaa" stroke-width="5" stroke-linejoin="round" stroke-linecap="round"/><ellipse cx="480" cy="472" rx="14" ry="13" fill="#c4c4c4"/><path d="M1100.0,225.0C1102.7,229.2 1118.7,233.8 1116.0,250.0C1113.3,266.2 1109.3,282.3 1084.0,322.0C1058.7,361.7 1020.7,423.7 964.0,488.0C907.3,552.3 813.3,646.0 744.0,708.0C674.7,770.0 580.7,834.7 548.0,860.0" fill="none" stroke="#9a9a9a" stroke-width="10" stroke-linejoin="round" stroke-linecap="round"/><path d="M1092.0,232.0C1094.0,235.3 1107.3,237.7 1104.0,252.0C1100.7,266.3 1097.0,280.0 1072.0,318.0C1047.0,356.0 1010.3,416.3 954.0,480.0C897.7,543.7 804.7,636.7 734.0,700.0C663.3,763.3 564.0,833.3 530.0,860.0" fill="none" stroke="#3c3c3c" stroke-width="19" stroke-linejoin="round" stroke-linecap="round"/><path d="M115.0,238.0C119.5,247.7 151.5,319.0 160.0,335.0C168.5,351.0 186.0,405.0 200.0,398.0C214.0,391.0 279.0,293.6 300.0,265.0C321.0,236.4 399.0,127.3 410.0,112.0" fill="none" stroke="#fff" stroke-width="112" stroke-linejoin="round" stroke-linecap="round"/><path d="M115.0,238.0C119.5,247.7 151.5,319.0 160.0,335.0C168.5,351.0 186.0,405.0 200.0,398.0C214.0,391.0 279.0,293.6 300.0,265.0C321.0,236.4 399.0,127.3 410.0,112.0" fill="none" stroke="#555" stroke-width="94" stroke-linejoin="round" stroke-linecap="round"/><path d="M760.0,452.0L868.0,405.0L868.0,441.0L1042.0,441.0L1042.0,463.0L868.0,463.0L868.0,500.0Z" fill="#333"/><text x="686" y="491" font-size="38" font-weight="bold" fill="#3c3c3c" text-anchor="middle" textLength="84" lengthAdjust="spacingAndGlyphs">max</text><path d="M929.0,628.0L759.0,798.0L985.0,798.0" fill="none" stroke="#555" stroke-width="10" stroke-linejoin="round" stroke-linecap="round"/><text x="903" y="776" font-size="58" font-weight="bold" fill="#484848" text-anchor="middle" textLength="98" lengthAdjust="spacingAndGlyphs">45°</text></g></g><rect x="312.3" y="99.7" width="129.2" height="96.3" rx="5" fill="none" stroke="#707173" stroke-width="1.1"/>
<g clip-path="url(#cp13)"><g transform="translate(446,98) scale(0.11403)" ><path d="M-20.0,450.0C-12.0,404.0 45.0,417.0 60.0,410.0C75.0,403.0 103.0,388.0 130.0,380.0C157.0,372.0 299.0,354.0 330.0,330.0C361.0,306.0 424.0,163.0 440.0,140.0C456.0,117.0 480.0,105.5 490.0,100.0C500.0,94.5 527.6,84.2 540.0,85.0C552.4,85.8 592.0,98.5 614.0,108.0C636.0,117.5 723.4,168.0 760.0,180.0C796.6,192.0 946.2,224.5 980.0,228.0C1013.8,231.5 1084.8,213.3 1098.0,215.0C1111.2,216.7 1113.8,234.5 1112.0,245.0C1110.2,255.5 1095.2,296.0 1080.0,320.0C1064.8,344.0 994.0,446.5 960.0,485.0C926.0,523.5 782.0,668.0 740.0,705.0C698.0,742.0 616.0,838.5 540.0,855.0C464.0,871.5 36.0,910.5 -20.0,870.0C-76.0,829.5 -28.0,496.0 -20.0,450.0Z" fill="#f2f2f2" stroke="#909090" stroke-width="7" stroke-linejoin="round" stroke-linecap="round"/><path d="M-20.0,450.0C-6.7,423.3 35.0,421.7 60.0,410.0C85.0,398.3 115.0,376.7 130.0,380.0C145.0,383.3 151.7,413.3 150.0,430.0C148.3,446.7 135.0,465.0 120.0,480.0C105.0,495.0 83.3,505.0 60.0,520.0C36.7,535.0 -6.7,581.7 -20.0,570.0C-33.3,558.3 -33.3,476.7 -20.0,450.0Z" fill="#b4b4b4"/><path d="M-20.0,480.0C-6.7,465.0 36.7,450.8 60.0,440.0C83.3,429.2 110.0,413.3 120.0,415.0C130.0,416.7 130.0,439.2 120.0,450.0C110.0,460.8 83.3,466.7 60.0,480.0C36.7,493.3 -6.7,530.0 -20.0,530.0C-33.3,530.0 -33.3,495.0 -20.0,480.0Z" fill="#ededed" filter="url(#b4)"/><path d="M-20.0,570.0C-6.7,513.3 36.7,535.3 60.0,520.0C83.3,504.7 111.7,464.7 120.0,478.0C128.3,491.3 108.3,536.3 110.0,600.0C111.7,663.7 151.7,816.7 130.0,860.0C108.3,903.3 5.0,908.3 -20.0,860.0C-45.0,811.7 -33.3,626.7 -20.0,570.0Z" fill="#ececec"/><path d="M20.0,600.0C26.7,551.7 66.7,543.3 80.0,560.0C93.3,576.7 93.3,651.7 100.0,700.0C106.7,748.3 130.0,825.0 120.0,850.0C110.0,875.0 56.7,891.7 40.0,850.0C23.3,808.3 13.3,648.3 20.0,600.0Z" fill="#d4d4d4" filter="url(#b8)"/><path d="M110.0,520.0C125.0,502.8 218.0,490.8 250.0,478.0C282.0,465.2 399.0,399.8 430.0,392.0C461.0,384.2 533.0,395.2 560.0,400.0C587.0,404.8 678.0,435.0 700.0,440.0C722.0,445.0 780.0,438.0 780.0,450.0C780.0,462.0 722.0,541.0 700.0,560.0C678.0,579.0 597.0,620.8 560.0,640.0C523.0,659.2 356.0,729.0 330.0,752.0C304.0,775.0 320.0,858.2 300.0,870.0C280.0,881.8 150.0,892.0 130.0,870.0C110.0,848.0 102.0,685.0 100.0,650.0C98.0,615.0 95.0,537.2 110.0,520.0Z" fill="#a0a0a0"/><path d="M150.0,780.0C173.3,755.0 270.0,724.7 300.0,720.0C330.0,715.3 330.0,727.0 330.0,752.0C330.0,777.0 328.3,850.3 300.0,870.0C271.7,889.7 185.0,885.0 160.0,870.0C135.0,855.0 126.7,805.0 150.0,780.0Z" fill="#8a8a8a" filter="url(#b4)"/><path d="M140.0,560.0C158.3,553.3 210.0,531.7 250.0,520.0C290.0,508.3 335.0,505.0 380.0,490.0C425.0,475.0 476.7,446.7 520.0,430.0C563.3,413.3 620.0,396.7 640.0,390.0" fill="none" stroke="#bcbcbc" stroke-width="5" stroke-linejoin="round" stroke-linecap="round" opacity="0.8"/><path d="M144.0,592.0C161.7,585.3 210.7,563.7 250.0,552.0C289.3,540.3 335.0,537.0 380.0,522.0C425.0,507.0 476.7,478.7 520.0,462.0C563.3,445.3 620.0,428.7 640.0,422.0" fill="none" stroke="#bcbcbc" stroke-width="5" stroke-linejoin="round" stroke-linecap="round" opacity="0.8"/><path d="M148.0,624.0C165.0,617.3 211.3,595.7 250.0,584.0C288.7,572.3 335.0,569.0 380.0,554.0C425.0,539.0 476.7,510.7 520.0,494.0C563.3,477.3 620.0,460.7 640.0,454.0" fill="none" stroke="#bcbcbc" stroke-width="5" stroke-linejoin="round" stroke-linecap="round" opacity="0.8"/><path d="M152.0,656.0C168.3,649.3 212.0,627.7 250.0,616.0C288.0,604.3 335.0,601.0 380.0,586.0C425.0,571.0 476.7,542.7 520.0,526.0C563.3,509.3 620.0,492.7 640.0,486.0" fill="none" stroke="#bcbcbc" stroke-width="5" stroke-linejoin="round" stroke-linecap="round" opacity="0.8"/><path d="M156.0,688.0C171.7,681.3 212.7,659.7 250.0,648.0C287.3,636.3 335.0,633.0 380.0,618.0C425.0,603.0 476.7,574.7 520.0,558.0C563.3,541.3 620.0,524.7 640.0,518.0" fill="none" stroke="#bcbcbc" stroke-width="5" stroke-linejoin="round" stroke-linecap="round" opacity="0.8"/><path d="M160.0,720.0C175.0,713.3 213.3,691.7 250.0,680.0C286.7,668.3 335.0,665.0 380.0,650.0C425.0,635.0 476.7,606.7 520.0,590.0C563.3,573.3 620.0,556.7 640.0,550.0" fill="none" stroke="#bcbcbc" stroke-width="5" stroke-linejoin="round" stroke-linecap="round" opacity="0.8"/><path d="M164.0,752.0C178.3,745.3 214.0,723.7 250.0,712.0C286.0,700.3 335.0,697.0 380.0,682.0C425.0,667.0 476.7,638.7 520.0,622.0C563.3,605.3 620.0,588.7 640.0,582.0" fill="none" stroke="#bcbcbc" stroke-width="5" stroke-linejoin="round" stroke-linecap="round" opacity="0.8"/><path d="M300.0,870.0C279.0,859.7 304.0,775.0 330.0,752.0C356.0,729.0 517.0,668.2 560.0,640.0C603.0,611.8 720.0,504.5 760.0,470.0C800.0,435.5 928.0,318.8 960.0,295.0C992.0,271.2 1066.0,236.5 1080.0,232.0C1094.0,227.5 1112.0,225.2 1100.0,250.0C1088.0,274.8 996.0,435.0 960.0,480.0C924.0,525.0 782.0,662.5 740.0,700.0C698.0,737.5 584.0,838.0 540.0,855.0C496.0,872.0 321.0,880.3 300.0,870.0Z" fill="#f4f4f4"/><path d="M380.0,800.0C410.0,771.7 530.0,713.3 600.0,660.0C670.0,606.7 740.0,535.0 800.0,480.0C860.0,425.0 930.0,351.7 960.0,330.0C990.0,308.3 1003.3,318.3 980.0,350.0C956.7,381.7 880.0,461.7 820.0,520.0C760.0,578.3 686.7,648.3 620.0,700.0C553.3,751.7 460.0,813.3 420.0,830.0C380.0,846.7 350.0,828.3 380.0,800.0Z" fill="#dadada" filter="url(#b8)"/><path d="M330.0,330.0C336.7,298.3 413.3,178.3 440.0,140.0C466.7,101.7 473.3,103.3 490.0,100.0C506.7,96.7 535.0,103.3 540.0,120.0C545.0,136.7 531.7,171.7 520.0,200.0C508.3,228.3 490.0,268.3 470.0,290.0C450.0,311.7 423.3,323.3 400.0,330.0C376.7,336.7 323.3,361.7 330.0,330.0Z" fill="#dcdcdc"/><path d="M440.0,160.0C443.3,145.0 470.0,128.3 480.0,130.0C490.0,131.7 503.3,155.0 500.0,170.0C496.7,185.0 470.0,221.7 460.0,220.0C450.0,218.3 436.7,175.0 440.0,160.0Z" fill="#8e8e8e" filter="url(#b4)"/><path d="M490.0,100.0C492.0,89.5 527.6,84.2 540.0,85.0C552.4,85.8 592.0,98.5 614.0,108.0C636.0,117.5 723.4,168.0 760.0,180.0C796.6,192.0 960.0,221.0 980.0,228.0C1000.0,235.0 982.0,249.6 960.0,250.0C938.0,250.4 794.6,236.5 760.0,232.0C725.4,227.5 638.0,209.2 614.0,205.0C590.0,200.8 532.4,200.5 520.0,190.0C507.6,179.5 488.0,110.5 490.0,100.0Z" fill="#8a8a8a"/><path d="M530.0,110.0C542.3,102.5 579.0,112.5 614.0,125.0C649.0,137.5 722.3,170.0 740.0,185.0C757.7,200.0 741.0,213.3 720.0,215.0C699.0,216.7 644.0,202.5 614.0,195.0C584.0,187.5 554.0,184.2 540.0,170.0C526.0,155.8 517.7,117.5 530.0,110.0Z" fill="#6f6f6f" filter="url(#b4)"/><path d="M850.0,205.0C866.7,203.8 935.0,220.5 960.0,225.0C985.0,229.5 996.7,227.8 1000.0,232.0C1003.3,236.2 1003.3,250.0 980.0,250.0C956.7,250.0 881.7,239.5 860.0,232.0C838.3,224.5 833.3,206.2 850.0,205.0Z" fill="#5a5a5a" filter="url(#b2)"/><path d="M400.0,330.0C399.0,319.0 458.0,304.0 470.0,290.0C482.0,276.0 505.6,198.5 520.0,190.0C534.4,181.5 590.0,200.8 614.0,205.0C638.0,209.2 725.4,227.5 760.0,232.0C794.6,236.5 946.0,240.2 960.0,250.0C974.0,259.8 920.0,315.0 900.0,330.0C880.0,345.0 788.6,391.0 760.0,400.0C731.4,409.0 642.0,420.0 614.0,420.0C586.0,420.0 501.4,409.0 480.0,400.0C458.6,391.0 401.0,341.0 400.0,330.0Z" fill="#f6f6f6"/><path d="M430.0,300.0C433.3,290.0 489.3,270.0 520.0,270.0C550.7,270.0 584.0,291.7 614.0,300.0C644.0,308.3 700.0,313.3 700.0,320.0C700.0,326.7 647.3,338.3 614.0,340.0C580.7,341.7 530.7,336.7 500.0,330.0C469.3,323.3 426.7,310.0 430.0,300.0Z" fill="#e0e0e0" filter="url(#b8)"/><path d="M480.0,405.0C491.4,404.2 586.0,427.5 614.0,428.0C642.0,428.5 731.4,418.8 760.0,410.0C788.6,401.2 882.0,350.5 900.0,340.0C918.0,329.5 935.0,306.5 940.0,305.0C945.0,303.5 956.0,316.5 950.0,325.0C944.0,333.5 899.0,378.0 880.0,390.0C861.0,402.0 786.6,437.8 760.0,445.0C733.4,452.2 640.0,462.9 614.0,462.0C588.0,461.1 513.4,441.7 500.0,436.0C486.6,430.3 468.6,405.8 480.0,405.0Z" fill="#808080"/><path d="M150.0,505.0C156.7,492.5 220.0,460.0 250.0,440.0C280.0,420.0 298.3,396.7 330.0,385.0C361.7,373.3 428.3,365.8 440.0,370.0C451.7,374.2 423.3,393.3 400.0,410.0C376.7,426.7 331.7,452.5 300.0,470.0C268.3,487.5 235.0,509.2 210.0,515.0C185.0,520.8 143.3,517.5 150.0,505.0Z" fill="#fdfdfd" stroke="#555" stroke-width="5" stroke-linejoin="round" stroke-linecap="round"/><ellipse cx="352" cy="500" rx="112" ry="96" transform="rotate(-30 352 500)" fill="#ececec" stroke="#c8c8c8" stroke-width="5" stroke-linejoin="round" stroke-linecap="round"/><ellipse cx="330" cy="485" rx="58" ry="84" transform="rotate(32 330 485)" fill="#8f8f8f"/><ellipse cx="332" cy="482" rx="34" ry="58" transform="rotate(32 332 482)" fill="#a8a8a8" filter="url(#b4)"/><ellipse cx="478" cy="470" rx="32" ry="30" fill="#efefef" stroke="#aaa" stroke-width="5" stroke-linejoin="round" stroke-linecap="round"/><ellipse cx="480" cy="472" rx="14" ry="13" fill="#c4c4c4"/><path d="M1100.0,225.0C1102.7,229.2 1118.7,233.8 1116.0,250.0C1113.3,266.2 1109.3,282.3 1084.0,322.0C1058.7,361.7 1020.7,423.7 964.0,488.0C907.3,552.3 813.3,646.0 744.0,708.0C674.7,770.0 580.7,834.7 548.0,860.0" fill="none" stroke="#9a9a9a" stroke-width="10" stroke-linejoin="round" stroke-linecap="round"/><path d="M1092.0,232.0C1094.0,235.3 1107.3,237.7 1104.0,252.0C1100.7,266.3 1097.0,280.0 1072.0,318.0C1047.0,356.0 1010.3,416.3 954.0,480.0C897.7,543.7 804.7,636.7 734.0,700.0C663.3,763.3 564.0,833.3 530.0,860.0" fill="none" stroke="#3c3c3c" stroke-width="19" stroke-linejoin="round" stroke-linecap="round"/><path d="M505.0,410.0C514.0,403.5 578.5,386.0 600.0,380.0C621.5,374.0 694.0,355.5 720.0,350.0C746.0,344.5 838.5,328.8 860.0,325.0C881.5,321.2 926.5,311.5 935.0,312.0C943.5,312.5 950.5,321.7 945.0,330.0C939.5,338.3 898.5,383.0 880.0,395.0C861.5,407.0 786.6,443.0 760.0,450.0C733.4,457.0 639.0,465.5 614.0,465.0C589.0,464.5 520.9,450.5 510.0,445.0C499.1,439.5 496.0,416.5 505.0,410.0Z" fill="#a4a4a4"/><path d="M520.0,400.0C540.0,395.3 596.7,380.3 640.0,372.0C683.3,363.7 736.7,357.8 780.0,350.0C823.3,342.2 880.0,329.2 900.0,325.0" fill="none" stroke="#c0c0c0" stroke-width="5" stroke-linejoin="round" stroke-linecap="round" opacity="0.8"/><path d="M520.0,418.0C540.0,413.3 596.7,398.3 640.0,390.0C683.3,381.7 736.7,375.8 780.0,368.0C823.3,360.2 880.0,347.2 900.0,343.0" fill="none" stroke="#c0c0c0" stroke-width="5" stroke-linejoin="round" stroke-linecap="round" opacity="0.8"/><path d="M520.0,436.0C540.0,431.3 596.7,416.3 640.0,408.0C683.3,399.7 736.7,393.8 780.0,386.0C823.3,378.2 880.0,365.2 900.0,361.0" fill="none" stroke="#c0c0c0" stroke-width="5" stroke-linejoin="round" stroke-linecap="round" opacity="0.8"/><path d="M520.0,454.0C540.0,449.3 596.7,434.3 640.0,426.0C683.3,417.7 736.7,411.8 780.0,404.0C823.3,396.2 880.0,383.2 900.0,379.0" fill="none" stroke="#c0c0c0" stroke-width="5" stroke-linejoin="round" stroke-linecap="round" opacity="0.8"/><path d="M158.0,82.0L228.0,70.0L300.0,250.0L410.0,440.0L350.0,480.0L250.0,330.0L180.0,200.0Z" fill="#fff" stroke="#fff" stroke-width="14" stroke-linejoin="round" stroke-linecap="round"/><path d="M400.0,58.0L440.0,105.0L330.0,260.0L175.0,480.0L115.0,455.0L250.0,260.0Z" fill="#fff" stroke="#fff" stroke-width="14" stroke-linejoin="round" stroke-linecap="round"/><path d="M158.0,82.0L228.0,70.0L300.0,250.0L410.0,440.0L350.0,480.0L250.0,330.0L180.0,200.0Z" fill="#575757"/><path d="M400.0,58.0L440.0,105.0L330.0,260.0L175.0,480.0L115.0,455.0L250.0,260.0Z" fill="#575757"/><path d="M646.0,368.0L756.0,320.0L756.0,357.0L934.0,357.0L934.0,379.0L756.0,379.0L756.0,416.0Z" fill="#333"/><path d="M640.0,425.0L730.0,425.0L730.0,435.0L640.0,435.0Z" fill="#555"/><text x="686" y="463" font-size="38" font-weight="bold" fill="#3c3c3c" text-anchor="middle" textLength="84" lengthAdjust="spacingAndGlyphs">max</text><path d="M929.0,628.0L759.0,798.0L985.0,798.0" fill="none" stroke="#555" stroke-width="10" stroke-linejoin="round" stroke-linecap="round"/><text x="903" y="776" font-size="58" font-weight="bold" fill="#484848" text-anchor="middle" textLength="98" lengthAdjust="spacingAndGlyphs">45°</text></g></g><rect x="446.9" y="99.7" width="129.5" height="96.3" rx="5" fill="none" stroke="#707173" stroke-width="1.1"/>
<!-- p_30_sec2 -->
<rect x="142.8" y="276" width="333.4" height="91.60000000000002" rx="5" fill="#fff" stroke="#707173" stroke-width="1.1"/>
<g><circle cx="199.9" cy="320.2" r="34.8" fill="#ededed" stroke="#c4c4c4" stroke-width="0.9"/><circle cx="199.9" cy="320.2" r="32.599999999999994" fill="none" stroke="#f8f8f8" stroke-width="1.6"/><g transform="rotate(0 199.9 320.2)"><g transform="translate(200.97,289.62) rotate(2.0)"><rect x="-6.1" y="-2.8" width="12.2" height="5.6" fill="#262626"/><text x="0" y="1.5" font-size="4.4" font-weight="bold" fill="#fff" text-anchor="middle" textLength="8.4" lengthAdjust="spacingAndGlyphs">max</text></g><g transform="translate(215.97,293.46) rotate(31.0)"><rect x="-6.6" y="-3" width="13.2" height="6" rx="1.6" fill="#1e1e1e"/><circle cx="-3.30" cy="0" r="1.2" fill="#fff"/><circle cx="0.00" cy="0" r="1.2" fill="#fff"/><circle cx="3.30" cy="0" r="1.2" fill="#fff"/></g><g transform="translate(226.96,304.26) rotate(59.5)"><rect x="-6.5" y="-3" width="13.0" height="6" rx="1.6" fill="#1e1e1e"/><circle cx="-1.65" cy="0" r="1.2" fill="#fff"/><circle cx="1.65" cy="0" r="1.2" fill="#fff"/></g><g transform="translate(231.68,319.09) rotate(88.0)"><rect x="-6.3" y="-3" width="12.6" height="6" rx="1.6" fill="#1e1e1e"/><circle cx="0.00" cy="0" r="1.2" fill="#fff"/></g><circle cx="200.75" cy="295.81" r="1.9" fill="#f4f4f4" stroke="#777" stroke-width="0.5"/><path d="M199.55,295.81h2.4M200.75,294.61v2.4" stroke="#777" stroke-width="0.4"/><circle cx="220.07" cy="304.44" r="1.9" fill="#f4f4f4" stroke="#777" stroke-width="0.5"/><path d="M218.87,304.44h2.4M220.07,303.24v2.4" stroke="#777" stroke-width="0.4"/></g><circle cx="199.9" cy="320.2" r="21.700000000000003" fill="#f7f7f7"/><foreignObject x="179.30" y="299.60" width="41.20" height="41.20"><div class="knob" style="background:conic-gradient(from 0deg, #989898 0deg, #6c6c6c 28deg, #4c4c4c 60deg, #3e3e3e 90deg, #4e4e4e 130deg, #989898 160deg,#b0b0b0 178deg, #848484 200deg, #525252 225deg, #424242 268deg, #5c5c5c 295deg, #a4a4a4 325deg, #b0b0b0 340deg, #989898 360deg)"></div></foreignObject><circle cx="199.9" cy="320.2" r="20.40" fill="none" stroke="#fff" stroke-opacity="0.45" stroke-width="0.9"/><ellipse cx="199.9" cy="321.2" rx="5.5" ry="11" fill="#fff" opacity="0.2" filter="url(#b2)"/></g>
<g transform="translate(199.9,320.2) scale(1.0)"><rect x="-2" y="-10.8" width="4" height="18" rx="2" fill="#fff"/><circle cx="0" cy="7.6" r="3.6" fill="#fff"/><path d="M0,-8v12" stroke="#999" stroke-width="1" stroke-dasharray="1.6 1.6" fill="none"/></g>
<path d="M178.80,356.75A42.20,42.20 0 0 1 178.80,283.65" fill="none" stroke="#333" stroke-width="0.8"/>
<g transform="translate(180.74,357.80) rotate(-333.0)"><path d="M0.6,0L-5.2,-2.3L-5.2,2.3Z" fill="#333"/></g>
<g transform="translate(180.74,282.60) rotate(-27.0)"><path d="M0.6,0L-5.2,-2.3L-5.2,2.3Z" fill="#333"/></g>
<path d="M221.00,283.65A42.20,42.20 0 0 1 221.00,356.75" fill="none" stroke="#333" stroke-width="0.8"/>
<g transform="translate(219.06,282.60) rotate(-153.0)"><path d="M0.6,0L-5.2,-2.3L-5.2,2.3Z" fill="#333"/></g>
<g transform="translate(219.06,357.80) rotate(153.0)"><path d="M0.6,0L-5.2,-2.3L-5.2,2.3Z" fill="#333"/></g>
<g><circle cx="310.9" cy="320.2" r="34.8" fill="#ededed" stroke="#c4c4c4" stroke-width="0.9"/><circle cx="310.9" cy="320.2" r="32.599999999999994" fill="none" stroke="#f8f8f8" stroke-width="1.6"/><g transform="rotate(0 310.9 320.2)"><path d="M297.23,350.90A33.60,33.60 0 0 1 302.77,287.60L305.63,299.05A21.80,21.80 0 0 0 302.03,340.12Z" fill="#f6f6f6" stroke="#3a3a3a" stroke-width="0.85" stroke-linejoin="round"/><path d="M296.20,345.66A29.40,29.40 0 0 1 294.89,295.54L299.14,302.08A21.60,21.60 0 0 0 300.10,338.91Z" fill="#a9a9a9"/><g transform="translate(280.00,315.86) rotate(-82.0)"><text x="0" y="1" font-size="3.4" fill="#444" text-anchor="middle">i-Temp</text></g><g transform="translate(287.81,314.44) rotate(-76.0)"><path d="M-1.5,1L0,-1.4L1.5,1Z" fill="#333"/></g><g transform="translate(311.97,289.62) rotate(2.0)"><rect x="-6.1" y="-2.8" width="12.2" height="5.6" fill="#262626"/><text x="0" y="1.5" font-size="4.4" font-weight="bold" fill="#fff" text-anchor="middle" textLength="8.4" lengthAdjust="spacingAndGlyphs">max</text></g><g transform="translate(326.97,293.46) rotate(31.0)"><rect x="-6.6" y="-3" width="13.2" height="6" rx="1.6" fill="#1e1e1e"/><circle cx="-3.30" cy="0" r="1.2" fill="#fff"/><circle cx="0.00" cy="0" r="1.2" fill="#fff"/><circle cx="3.30" cy="0" r="1.2" fill="#fff"/></g><g transform="translate(337.96,304.26) rotate(59.5)"><rect x="-6.5" y="-3" width="13.0" height="6" rx="1.6" fill="#1e1e1e"/><circle cx="-1.65" cy="0" r="1.2" fill="#fff"/><circle cx="1.65" cy="0" r="1.2" fill="#fff"/></g><g transform="translate(342.68,319.09) rotate(88.0)"><rect x="-6.3" y="-3" width="12.6" height="6" rx="1.6" fill="#1e1e1e"/><circle cx="0.00" cy="0" r="1.2" fill="#fff"/></g><circle cx="311.75" cy="295.81" r="1.9" fill="#f4f4f4" stroke="#777" stroke-width="0.5"/><path d="M310.55,295.81h2.4M311.75,294.61v2.4" stroke="#777" stroke-width="0.4"/><circle cx="331.07" cy="304.44" r="1.9" fill="#f4f4f4" stroke="#777" stroke-width="0.5"/><path d="M329.87,304.44h2.4M331.07,303.24v2.4" stroke="#777" stroke-width="0.4"/></g><circle cx="310.9" cy="320.2" r="21.700000000000003" fill="#f7f7f7"/><foreignObject x="290.30" y="299.60" width="41.20" height="41.20"><div class="knob" style="background:conic-gradient(from 0deg, #989898 0deg, #6c6c6c 28deg, #4c4c4c 60deg, #3e3e3e 90deg, #4e4e4e 130deg, #989898 160deg,#b0b0b0 178deg, #848484 200deg, #525252 225deg, #424242 268deg, #5c5c5c 295deg, #a4a4a4 325deg, #b0b0b0 340deg, #989898 360deg)"></div></foreignObject><circle cx="310.9" cy="320.2" r="20.40" fill="none" stroke="#fff" stroke-opacity="0.45" stroke-width="0.9"/><ellipse cx="310.9" cy="321.2" rx="5.5" ry="11" fill="#fff" opacity="0.2" filter="url(#b2)"/></g>
<g transform="translate(310.9,320.2) scale(1.0)"><rect x="-2" y="-10.8" width="4" height="18" rx="2" fill="#fff"/><circle cx="0" cy="7.6" r="3.6" fill="#fff"/><path d="M0,-8v12" stroke="#999" stroke-width="1" stroke-dasharray="1.6 1.6" fill="none"/></g>
<path d="M289.80,356.75A42.20,42.20 0 0 1 289.80,283.65" fill="none" stroke="#333" stroke-width="0.8"/>
<g transform="translate(291.74,357.80) rotate(-333.0)"><path d="M0.6,0L-5.2,-2.3L-5.2,2.3Z" fill="#333"/></g>
<g transform="translate(291.74,282.60) rotate(-27.0)"><path d="M0.6,0L-5.2,-2.3L-5.2,2.3Z" fill="#333"/></g>
<path d="M332.00,283.65A42.20,42.20 0 0 1 332.00,356.75" fill="none" stroke="#333" stroke-width="0.8"/>
<g transform="translate(330.06,282.60) rotate(-153.0)"><path d="M0.6,0L-5.2,-2.3L-5.2,2.3Z" fill="#333"/></g>
<g transform="translate(330.06,357.80) rotate(153.0)"><path d="M0.6,0L-5.2,-2.3L-5.2,2.3Z" fill="#333"/></g>
<g><circle cx="421.9" cy="320.2" r="34.8" fill="#ededed" stroke="#c4c4c4" stroke-width="0.9"/><circle cx="421.9" cy="320.2" r="32.599999999999994" fill="none" stroke="#f8f8f8" stroke-width="1.6"/><g transform="rotate(0 421.9 320.2)"><path d="M390.13,331.14A33.60,33.60 0 0 1 413.77,287.60L416.63,299.05A21.80,21.80 0 0 0 401.29,327.30Z" fill="#f6f6f6" stroke="#3a3a3a" stroke-width="0.85" stroke-linejoin="round"/><path d="M393.64,328.30A29.40,29.40 0 0 1 404.62,296.41L409.20,302.73A21.60,21.60 0 0 0 401.14,326.15Z" fill="#a9a9a9"/><g transform="translate(394.48,305.31) rotate(-61.5)"><text x="0" y="1" font-size="3.4" fill="#444" text-anchor="middle">i-Temp</text></g><g transform="translate(402.29,306.72) rotate(-55.5)"><path d="M-1.5,1L0,-1.4L1.5,1Z" fill="#333"/></g><path d="M413.63,353.38A34.20,34.20 0 0 1 389.56,331.33L401.29,327.30A21.80,21.80 0 0 0 416.63,341.35Z" fill="#f4f4f4" stroke="#333" stroke-width="0.8" stroke-linejoin="round"/><path d="M414.40,346.35A27.20,27.20 0 0 1 396.51,329.95L401.73,327.94A21.60,21.60 0 0 0 415.95,340.96Z" fill="#a0a0a0"/><path d="M397.66,332.55A27.20,27.20 0 0 1 396.34,329.50L401.60,327.59A21.60,21.60 0 0 0 402.65,330.01Z" fill="#222"/><g transform="translate(401.23,342.76) rotate(42.5)"><text x="0" y="1.1" font-size="3.2" font-weight="bold" fill="#333" text-anchor="middle">AntiShine</text></g><g transform="translate(404.49,336.72) rotate(-133.5)"><path d="M-1.5,1L0,-1.4L1.5,1Z" fill="#222"/></g><g transform="translate(422.97,289.62) rotate(2.0)"><rect x="-6.1" y="-2.8" width="12.2" height="5.6" fill="#262626"/><text x="0" y="1.5" font-size="4.4" font-weight="bold" fill="#fff" text-anchor="middle" textLength="8.4" lengthAdjust="spacingAndGlyphs">max</text></g><g transform="translate(437.97,293.46) rotate(31.0)"><rect x="-6.6" y="-3" width="13.2" height="6" rx="1.6" fill="#1e1e1e"/><circle cx="-3.30" cy="0" r="1.2" fill="#fff"/><circle cx="0.00" cy="0" r="1.2" fill="#fff"/><circle cx="3.30" cy="0" r="1.2" fill="#fff"/></g><g transform="translate(448.96,304.26) rotate(59.5)"><rect x="-6.5" y="-3" width="13.0" height="6" rx="1.6" fill="#1e1e1e"/><circle cx="-1.65" cy="0" r="1.2" fill="#fff"/><circle cx="1.65" cy="0" r="1.2" fill="#fff"/></g><g transform="translate(453.68,319.09) rotate(88.0)"><rect x="-6.3" y="-3" width="12.6" height="6" rx="1.6" fill="#1e1e1e"/><circle cx="0.00" cy="0" r="1.2" fill="#fff"/></g><circle cx="422.75" cy="295.81" r="1.9" fill="#f4f4f4" stroke="#777" stroke-width="0.5"/><path d="M421.55,295.81h2.4M422.75,294.61v2.4" stroke="#777" stroke-width="0.4"/><circle cx="442.07" cy="304.44" r="1.9" fill="#f4f4f4" stroke="#777" stroke-width="0.5"/><path d="M440.87,304.44h2.4M442.07,303.24v2.4" stroke="#777" stroke-width="0.4"/></g><circle cx="421.9" cy="320.2" r="21.700000000000003" fill="#f7f7f7"/><foreignObject x="401.30" y="299.60" width="41.20" height="41.20"><div class="knob" style="background:conic-gradient(from 0deg, #989898 0deg, #6c6c6c 28deg, #4c4c4c 60deg, #3e3e3e 90deg, #4e4e4e 130deg, #989898 160deg,#b0b0b0 178deg, #848484 200deg, #525252 225deg, #424242 268deg, #5c5c5c 295deg, #a4a4a4 325deg, #b0b0b0 340deg, #989898 360deg)"></div></foreignObject><circle cx="421.9" cy="320.2" r="20.40" fill="none" stroke="#fff" stroke-opacity="0.45" stroke-width="0.9"/><ellipse cx="421.9" cy="321.2" rx="5.5" ry="11" fill="#fff" opacity="0.2" filter="url(#b2)"/></g>
<g transform="translate(421.9,320.2) scale(1.0)"><rect x="-2" y="-10.8" width="4" height="18" rx="2" fill="#fff"/><circle cx="0" cy="7.6" r="3.6" fill="#fff"/><path d="M0,-8v12" stroke="#999" stroke-width="1" stroke-dasharray="1.6 1.6" fill="none"/></g>
<path d="M400.80,356.75A42.20,42.20 0 0 1 400.80,283.65" fill="none" stroke="#333" stroke-width="0.8"/>
<g transform="translate(402.74,357.80) rotate(-333.0)"><path d="M0.6,0L-5.2,-2.3L-5.2,2.3Z" fill="#333"/></g>
<g transform="translate(402.74,282.60) rotate(-27.0)"><path d="M0.6,0L-5.2,-2.3L-5.2,2.3Z" fill="#333"/></g>
<path d="M443.00,283.65A42.20,42.20 0 0 1 443.00,356.75" fill="none" stroke="#333" stroke-width="0.8"/>
<g transform="translate(441.06,282.60) rotate(-153.0)"><path d="M0.6,0L-5.2,-2.3L-5.2,2.3Z" fill="#333"/></g>
<g transform="translate(441.06,357.80) rotate(153.0)"><path d="M0.6,0L-5.2,-2.3L-5.2,2.3Z" fill="#333"/></g>
<clipPath id="cpR2"><rect x="142.8" y="376.8" width="333.4" height="91.6" rx="5"/></clipPath>
<rect x="142.8" y="376.8" width="333.4" height="91.59999999999997" rx="5" fill="#fff" stroke="#707173" stroke-width="1.1"/>
<g clip-path="url(#cpR2)"><rect x="196.4" y="376.8" width="102.6" height="91.6" fill="#a7a9ac"/><rect x="332" y="376.8" width="102.9" height="91.6" fill="#a7a9ac"/></g>
<rect x="142.8" y="376.8" width="333.4" height="91.6" rx="5" fill="none" stroke="#707173" stroke-width="1.1"/>
<circle cx="247.4" cy="423.3" r="44.1" fill="#fff"/>
<g><circle cx="247.4" cy="423.3" r="34.6" fill="#ededed" stroke="#c4c4c4" stroke-width="0.9"/><circle cx="247.4" cy="423.3" r="32.4" fill="none" stroke="#f8f8f8" stroke-width="1.6"/><g transform="rotate(0 247.4 423.3)"><path d="M215.63,434.24A33.60,33.60 0 0 1 239.27,390.70L242.17,402.34A21.60,21.60 0 0 0 226.98,430.33Z" fill="#f6f6f6" stroke="#3a3a3a" stroke-width="0.85" stroke-linejoin="round"/><path d="M219.14,431.40A29.40,29.40 0 0 1 230.12,399.51L234.82,405.99A21.40,21.40 0 0 0 226.83,429.20Z" fill="#a9a9a9"/><g transform="translate(219.98,408.41) rotate(-61.5)"><text x="0" y="1" font-size="3.4" fill="#444" text-anchor="middle">i-Temp</text></g><g transform="translate(227.95,409.93) rotate(-55.5)"><path d="M-1.5,1L0,-1.4L1.5,1Z" fill="#333"/></g><path d="M239.13,456.48A34.20,34.20 0 0 1 215.06,434.43L226.98,430.33A21.60,21.60 0 0 0 242.17,444.26Z" fill="#f4f4f4" stroke="#333" stroke-width="0.8" stroke-linejoin="round"/><path d="M239.90,449.45A27.20,27.20 0 0 1 222.01,433.05L227.42,430.97A21.40,21.40 0 0 0 241.50,443.87Z" fill="#a0a0a0"/><path d="M223.16,435.65A27.20,27.20 0 0 1 221.84,432.60L227.29,430.62A21.40,21.40 0 0 0 228.33,433.02Z" fill="#222"/><g transform="translate(226.73,445.86) rotate(42.5)"><text x="0" y="1.1" font-size="3.2" font-weight="bold" fill="#333" text-anchor="middle">AntiShine</text></g><g transform="translate(230.14,439.68) rotate(-133.5)"><path d="M-1.5,1L0,-1.4L1.5,1Z" fill="#222"/></g><g transform="translate(248.47,392.72) rotate(2.0)"><rect x="-6.1" y="-2.8" width="12.2" height="5.6" fill="#262626"/><text x="0" y="1.5" font-size="4.4" font-weight="bold" fill="#fff" text-anchor="middle" textLength="8.4" lengthAdjust="spacingAndGlyphs">max</text></g><g transform="translate(263.47,396.56) rotate(31.0)"><rect x="-6.6" y="-3" width="13.2" height="6" rx="1.6" fill="#1e1e1e"/><circle cx="-3.30" cy="0" r="1.2" fill="#fff"/><circle cx="0.00" cy="0" r="1.2" fill="#fff"/><circle cx="3.30" cy="0" r="1.2" fill="#fff"/></g><g transform="translate(274.46,407.36) rotate(59.5)"><rect x="-6.5" y="-3" width="13.0" height="6" rx="1.6" fill="#1e1e1e"/><circle cx="-1.65" cy="0" r="1.2" fill="#fff"/><circle cx="1.65" cy="0" r="1.2" fill="#fff"/></g><g transform="translate(279.18,422.19) rotate(88.0)"><rect x="-6.3" y="-3" width="12.6" height="6" rx="1.6" fill="#1e1e1e"/><circle cx="0.00" cy="0" r="1.2" fill="#fff"/></g><circle cx="248.25" cy="398.91" r="1.9" fill="#f4f4f4" stroke="#777" stroke-width="0.5"/><path d="M247.05,398.91h2.4M248.25,397.71v2.4" stroke="#777" stroke-width="0.4"/><circle cx="267.57" cy="407.54" r="1.9" fill="#f4f4f4" stroke="#777" stroke-width="0.5"/><path d="M266.37,407.54h2.4M267.57,406.34v2.4" stroke="#777" stroke-width="0.4"/></g><circle cx="247.4" cy="423.3" r="21.5" fill="#f7f7f7"/><foreignObject x="227.00" y="402.90" width="40.80" height="40.80"><div class="knob" style="background:conic-gradient(from 0deg, #bcbcbc 0deg, #a0a0a0 40deg, #8e8e8e 80deg, #a0a0a0 125deg, #c4c4c4 165deg,#c0c0c0 195deg, #9a9a9a 240deg, #8e8e8e 280deg, #b6b6b6 325deg, #c6c6c6 345deg, #bcbcbc 360deg)"></div></foreignObject><circle cx="247.4" cy="423.3" r="20.20" fill="none" stroke="#fff" stroke-opacity="0.45" stroke-width="0.9"/></g>
<clipPath id="cpK0"><circle cx="247.4" cy="423.3" r="20.4"/></clipPath>
<g clip-path="url(#cpK0)"><path d="M228.4,423.6h38" stroke="#fff" stroke-width="0.6" stroke-dasharray="1.5 1.5" opacity="0.8"/><line x1="234.99" y1="423.76" x2="239.25" y2="424.31" stroke="#fff" stroke-width="0.45" opacity="0.6"/><line x1="234.75" y1="424.33" x2="238.17" y2="426.94" stroke="#fff" stroke-width="0.45" opacity="0.6"/><line x1="234.26" y1="424.71" x2="235.91" y2="428.68" stroke="#fff" stroke-width="0.45" opacity="0.6"/><line x1="233.64" y1="424.79" x2="233.09" y2="429.05" stroke="#fff" stroke-width="0.45" opacity="0.6"/><line x1="233.07" y1="424.55" x2="230.46" y2="427.97" stroke="#fff" stroke-width="0.45" opacity="0.6"/><line x1="232.69" y1="424.06" x2="228.72" y2="425.71" stroke="#fff" stroke-width="0.45" opacity="0.6"/><line x1="232.61" y1="423.44" x2="228.35" y2="422.89" stroke="#fff" stroke-width="0.45" opacity="0.6"/><line x1="232.85" y1="422.87" x2="229.43" y2="420.26" stroke="#fff" stroke-width="0.45" opacity="0.6"/><line x1="233.34" y1="422.49" x2="231.69" y2="418.52" stroke="#fff" stroke-width="0.45" opacity="0.6"/><line x1="233.96" y1="422.41" x2="234.51" y2="418.15" stroke="#fff" stroke-width="0.45" opacity="0.6"/><line x1="234.53" y1="422.65" x2="237.14" y2="419.23" stroke="#fff" stroke-width="0.45" opacity="0.6"/><line x1="234.91" y1="423.14" x2="238.88" y2="421.49" stroke="#fff" stroke-width="0.45" opacity="0.6"/><circle cx="233.8" cy="423.6" r="1.6" fill="#fff" opacity="0.9"/><line x1="261.79" y1="423.76" x2="266.05" y2="424.31" stroke="#fff" stroke-width="0.45" opacity="0.6"/><line x1="261.55" y1="424.33" x2="264.97" y2="426.94" stroke="#fff" stroke-width="0.45" opacity="0.6"/><line x1="261.06" y1="424.71" x2="262.71" y2="428.68" stroke="#fff" stroke-width="0.45" opacity="0.6"/><line x1="260.44" y1="424.79" x2="259.89" y2="429.05" stroke="#fff" stroke-width="0.45" opacity="0.6"/><line x1="259.87" y1="424.55" x2="257.26" y2="427.97" stroke="#fff" stroke-width="0.45" opacity="0.6"/><line x1="259.49" y1="424.06" x2="255.52" y2="425.71" stroke="#fff" stroke-width="0.45" opacity="0.6"/><line x1="259.41" y1="423.44" x2="255.15" y2="422.89" stroke="#fff" stroke-width="0.45" opacity="0.6"/><line x1="259.65" y1="422.87" x2="256.23" y2="420.26" stroke="#fff" stroke-width="0.45" opacity="0.6"/><line x1="260.14" y1="422.49" x2="258.49" y2="418.52" stroke="#fff" stroke-width="0.45" opacity="0.6"/><line x1="260.76" y1="422.41" x2="261.31" y2="418.15" stroke="#fff" stroke-width="0.45" opacity="0.6"/><line x1="261.33" y1="422.65" x2="263.94" y2="419.23" stroke="#fff" stroke-width="0.45" opacity="0.6"/><line x1="261.71" y1="423.14" x2="265.68" y2="421.49" stroke="#fff" stroke-width="0.45" opacity="0.6"/><circle cx="260.6" cy="423.6" r="1.6" fill="#fff" opacity="0.9"/></g>
<rect x="245.3" y="412.7" width="4.2" height="17.6" rx="2.1" fill="#fbfbfb" stroke="#9a9a9a" stroke-width="0.6"/><circle cx="247.4" cy="430.7" r="3.4" fill="#fbfbfb" stroke="#9a9a9a" stroke-width="0.6"/><rect x="245.9" y="426.3" width="3" height="3" fill="#fbfbfb"/><path d="M247.4,415.3v11" stroke="#bdbdbd" stroke-width="0.9" stroke-dasharray="1.4 1.6" fill="none"/>
<circle cx="383.9" cy="422.8" r="44.1" fill="#fff"/>
<g><circle cx="383.9" cy="422.8" r="34.6" fill="#ededed" stroke="#c4c4c4" stroke-width="0.9"/><circle cx="383.9" cy="422.8" r="32.4" fill="none" stroke="#f8f8f8" stroke-width="1.6"/><g transform="rotate(0 383.9 422.8)"><path d="M352.13,433.74A33.60,33.60 0 0 1 375.77,390.20L378.67,401.84A21.60,21.60 0 0 0 363.48,429.83Z" fill="#f6f6f6" stroke="#3a3a3a" stroke-width="0.85" stroke-linejoin="round"/><path d="M355.64,430.90A29.40,29.40 0 0 1 366.62,399.01L371.32,405.49A21.40,21.40 0 0 0 363.33,428.70Z" fill="#a9a9a9"/><g transform="translate(356.48,407.91) rotate(-61.5)"><text x="0" y="1" font-size="3.4" fill="#444" text-anchor="middle">i-Temp</text></g><g transform="translate(364.45,409.43) rotate(-55.5)"><path d="M-1.5,1L0,-1.4L1.5,1Z" fill="#333"/></g><path d="M375.63,455.98A34.20,34.20 0 0 1 351.56,433.93L363.48,429.83A21.60,21.60 0 0 0 378.67,443.76Z" fill="#f4f4f4" stroke="#333" stroke-width="0.8" stroke-linejoin="round"/><path d="M376.40,448.95A27.20,27.20 0 0 1 358.51,432.55L363.92,430.47A21.40,21.40 0 0 0 378.00,443.37Z" fill="#a0a0a0"/><path d="M359.66,435.15A27.20,27.20 0 0 1 358.34,432.10L363.79,430.12A21.40,21.40 0 0 0 364.83,432.52Z" fill="#222"/><g transform="translate(363.23,445.36) rotate(42.5)"><text x="0" y="1.1" font-size="3.2" font-weight="bold" fill="#333" text-anchor="middle">AntiShine</text></g><g transform="translate(366.64,439.18) rotate(-133.5)"><path d="M-1.5,1L0,-1.4L1.5,1Z" fill="#222"/></g><g transform="translate(384.97,392.22) rotate(2.0)"><rect x="-6.1" y="-2.8" width="12.2" height="5.6" fill="#262626"/><text x="0" y="1.5" font-size="4.4" font-weight="bold" fill="#fff" text-anchor="middle" textLength="8.4" lengthAdjust="spacingAndGlyphs">max</text></g><g transform="translate(399.97,396.06) rotate(31.0)"><rect x="-6.6" y="-3" width="13.2" height="6" rx="1.6" fill="#1e1e1e"/><circle cx="-3.30" cy="0" r="1.2" fill="#fff"/><circle cx="0.00" cy="0" r="1.2" fill="#fff"/><circle cx="3.30" cy="0" r="1.2" fill="#fff"/></g><g transform="translate(410.96,406.86) rotate(59.5)"><rect x="-6.5" y="-3" width="13.0" height="6" rx="1.6" fill="#1e1e1e"/><circle cx="-1.65" cy="0" r="1.2" fill="#fff"/><circle cx="1.65" cy="0" r="1.2" fill="#fff"/></g><g transform="translate(415.68,421.69) rotate(88.0)"><rect x="-6.3" y="-3" width="12.6" height="6" rx="1.6" fill="#1e1e1e"/><circle cx="0.00" cy="0" r="1.2" fill="#fff"/></g><circle cx="384.75" cy="398.41" r="1.9" fill="#f4f4f4" stroke="#777" stroke-width="0.5"/><path d="M383.55,398.41h2.4M384.75,397.21v2.4" stroke="#777" stroke-width="0.4"/><circle cx="404.07" cy="407.04" r="1.9" fill="#f4f4f4" stroke="#777" stroke-width="0.5"/><path d="M402.87,407.04h2.4M404.07,405.84v2.4" stroke="#777" stroke-width="0.4"/></g><circle cx="383.9" cy="422.8" r="21.5" fill="#f7f7f7"/><foreignObject x="363.50" y="402.40" width="40.80" height="40.80"><div class="knob" style="background:conic-gradient(from 0deg, #bcbcbc 0deg, #a0a0a0 40deg, #8e8e8e 80deg, #a0a0a0 125deg, #c4c4c4 165deg,#c0c0c0 195deg, #9a9a9a 240deg, #8e8e8e 280deg, #b6b6b6 325deg, #c6c6c6 345deg, #bcbcbc 360deg)"></div></foreignObject><circle cx="383.9" cy="422.8" r="20.20" fill="none" stroke="#fff" stroke-opacity="0.45" stroke-width="0.9"/></g>
<clipPath id="cpK1"><circle cx="383.9" cy="422.8" r="20.4"/></clipPath>
<g clip-path="url(#cpK1)"><line x1="370.49" y1="423.36" x2="382.19" y2="424.89" stroke="#fff" stroke-width="0.5" opacity="0.75"/><line x1="370.36" y1="423.75" x2="380.84" y2="429.19" stroke="#fff" stroke-width="0.5" opacity="0.75"/><line x1="370.11" y1="424.08" x2="378.09" y2="432.78" stroke="#fff" stroke-width="0.5" opacity="0.75"/><line x1="369.76" y1="424.31" x2="374.29" y2="435.21" stroke="#fff" stroke-width="0.5" opacity="0.75"/><line x1="369.35" y1="424.40" x2="369.88" y2="436.19" stroke="#fff" stroke-width="0.5" opacity="0.75"/><line x1="368.94" y1="424.34" x2="365.40" y2="435.60" stroke="#fff" stroke-width="0.5" opacity="0.75"/><line x1="368.57" y1="424.15" x2="361.40" y2="433.52" stroke="#fff" stroke-width="0.5" opacity="0.75"/><line x1="368.29" y1="423.85" x2="358.34" y2="430.19" stroke="#fff" stroke-width="0.5" opacity="0.75"/><line x1="368.13" y1="423.46" x2="356.61" y2="426.03" stroke="#fff" stroke-width="0.5" opacity="0.75"/><line x1="368.11" y1="423.04" x2="356.41" y2="421.51" stroke="#fff" stroke-width="0.5" opacity="0.75"/><line x1="368.24" y1="422.65" x2="357.76" y2="417.21" stroke="#fff" stroke-width="0.5" opacity="0.75"/><line x1="368.49" y1="422.32" x2="360.51" y2="413.62" stroke="#fff" stroke-width="0.5" opacity="0.75"/><line x1="368.84" y1="422.09" x2="364.31" y2="411.19" stroke="#fff" stroke-width="0.5" opacity="0.75"/><line x1="369.25" y1="422.00" x2="368.72" y2="410.21" stroke="#fff" stroke-width="0.5" opacity="0.75"/><line x1="369.66" y1="422.06" x2="373.20" y2="410.80" stroke="#fff" stroke-width="0.5" opacity="0.75"/><line x1="370.03" y1="422.25" x2="377.20" y2="412.88" stroke="#fff" stroke-width="0.5" opacity="0.75"/><line x1="370.31" y1="422.55" x2="380.26" y2="416.21" stroke="#fff" stroke-width="0.5" opacity="0.75"/><line x1="370.47" y1="422.94" x2="381.99" y2="420.37" stroke="#fff" stroke-width="0.5" opacity="0.75"/><circle cx="369.29999999999995" cy="423.2" r="1.6" fill="#fff" opacity="0.9"/><line x1="397.89" y1="423.36" x2="409.59" y2="424.89" stroke="#fff" stroke-width="0.5" opacity="0.75"/><line x1="397.76" y1="423.75" x2="408.24" y2="429.19" stroke="#fff" stroke-width="0.5" opacity="0.75"/><line x1="397.51" y1="424.08" x2="405.49" y2="432.78" stroke="#fff" stroke-width="0.5" opacity="0.75"/><line x1="397.16" y1="424.31" x2="401.69" y2="435.21" stroke="#fff" stroke-width="0.5" opacity="0.75"/><line x1="396.75" y1="424.40" x2="397.28" y2="436.19" stroke="#fff" stroke-width="0.5" opacity="0.75"/><line x1="396.34" y1="424.34" x2="392.80" y2="435.60" stroke="#fff" stroke-width="0.5" opacity="0.75"/><line x1="395.97" y1="424.15" x2="388.80" y2="433.52" stroke="#fff" stroke-width="0.5" opacity="0.75"/><line x1="395.69" y1="423.85" x2="385.74" y2="430.19" stroke="#fff" stroke-width="0.5" opacity="0.75"/><line x1="395.53" y1="423.46" x2="384.01" y2="426.03" stroke="#fff" stroke-width="0.5" opacity="0.75"/><line x1="395.51" y1="423.04" x2="383.81" y2="421.51" stroke="#fff" stroke-width="0.5" opacity="0.75"/><line x1="395.64" y1="422.65" x2="385.16" y2="417.21" stroke="#fff" stroke-width="0.5" opacity="0.75"/><line x1="395.89" y1="422.32" x2="387.91" y2="413.62" stroke="#fff" stroke-width="0.5" opacity="0.75"/><line x1="396.24" y1="422.09" x2="391.71" y2="411.19" stroke="#fff" stroke-width="0.5" opacity="0.75"/><line x1="396.65" y1="422.00" x2="396.12" y2="410.21" stroke="#fff" stroke-width="0.5" opacity="0.75"/><line x1="397.06" y1="422.06" x2="400.60" y2="410.80" stroke="#fff" stroke-width="0.5" opacity="0.75"/><line x1="397.43" y1="422.25" x2="404.60" y2="412.88" stroke="#fff" stroke-width="0.5" opacity="0.75"/><line x1="397.71" y1="422.55" x2="407.66" y2="416.21" stroke="#fff" stroke-width="0.5" opacity="0.75"/><line x1="397.87" y1="422.94" x2="409.39" y2="420.37" stroke="#fff" stroke-width="0.5" opacity="0.75"/><circle cx="396.7" cy="423.2" r="1.6" fill="#fff" opacity="0.9"/><line x1="385.09" y1="427.96" x2="392.82" y2="428.97" stroke="#fff" stroke-width="0.5" opacity="0.6"/><line x1="384.90" y1="428.46" x2="391.43" y2="432.72" stroke="#fff" stroke-width="0.5" opacity="0.6"/><line x1="384.52" y1="428.83" x2="388.55" y2="435.50" stroke="#fff" stroke-width="0.5" opacity="0.6"/><line x1="384.01" y1="428.99" x2="384.75" y2="436.76" stroke="#fff" stroke-width="0.5" opacity="0.6"/><line x1="383.48" y1="428.93" x2="380.78" y2="436.24" stroke="#fff" stroke-width="0.5" opacity="0.6"/><line x1="383.04" y1="428.63" x2="377.42" y2="434.05" stroke="#fff" stroke-width="0.5" opacity="0.6"/><line x1="382.76" y1="428.18" x2="375.35" y2="430.62" stroke="#fff" stroke-width="0.5" opacity="0.6"/><line x1="382.71" y1="427.64" x2="374.98" y2="426.63" stroke="#fff" stroke-width="0.5" opacity="0.6"/><line x1="382.90" y1="427.14" x2="376.37" y2="422.88" stroke="#fff" stroke-width="0.5" opacity="0.6"/><line x1="383.28" y1="426.77" x2="379.25" y2="420.10" stroke="#fff" stroke-width="0.5" opacity="0.6"/><line x1="383.79" y1="426.61" x2="383.05" y2="418.84" stroke="#fff" stroke-width="0.5" opacity="0.6"/><line x1="384.32" y1="426.67" x2="387.02" y2="419.36" stroke="#fff" stroke-width="0.5" opacity="0.6"/><line x1="384.76" y1="426.97" x2="390.38" y2="421.55" stroke="#fff" stroke-width="0.5" opacity="0.6"/><line x1="385.04" y1="427.42" x2="392.45" y2="424.98" stroke="#fff" stroke-width="0.5" opacity="0.6"/><circle cx="383.9" cy="427.8" r="1.6" fill="#fff" opacity="0.9"/></g>
<line x1="403.38" y1="420.76" x2="415.26" y2="415.47" stroke="#8a8a8a" stroke-width="0.45" opacity="0.8"/>
<line x1="403.77" y1="421.95" x2="416.48" y2="419.25" stroke="#8a8a8a" stroke-width="0.45" opacity="0.8"/>
<line x1="403.90" y1="423.20" x2="416.90" y2="423.20" stroke="#8a8a8a" stroke-width="0.45" opacity="0.8"/>
<line x1="403.77" y1="424.45" x2="416.48" y2="427.15" stroke="#8a8a8a" stroke-width="0.45" opacity="0.8"/>
<line x1="403.38" y1="425.64" x2="415.26" y2="430.93" stroke="#8a8a8a" stroke-width="0.45" opacity="0.8"/>
<rect x="381.79999999999995" y="412.2" width="4.2" height="17.6" rx="2.1" fill="#fbfbfb" stroke="#9a9a9a" stroke-width="0.6"/><circle cx="383.9" cy="430.2" r="3.4" fill="#fbfbfb" stroke="#9a9a9a" stroke-width="0.6"/><rect x="382.4" y="425.8" width="3" height="3" fill="#fbfbfb"/><path d="M383.9,414.8v11" stroke="#bdbdbd" stroke-width="0.9" stroke-dasharray="1.4 1.6" fill="none"/>
<!-- p_40_sec2b -->
<clipPath id="cpA"><rect x="42.5" y="475.3" width="304.8" height="149.49999999999994" rx="5"/></clipPath><g clip-path="url(#cpA)"><rect x="42.5" y="475.3" width="304.8" height="149.49999999999994" fill="#fff"/><rect x="42.5" y="475.3" width="304.8" height="35.099999999999966" fill="#e6e7e8"/><rect x="42.5" y="510.4" width="102.30000000000001" height="114.39999999999998" fill="#a7a9ac"/><rect x="245.0" y="510.4" width="102.30000000000001" height="114.39999999999998" fill="#a7a9ac"/></g>
<clipPath id="cpB"><rect x="353.8" y="475.3" width="222.59999999999997" height="149.49999999999994" rx="5"/></clipPath><g clip-path="url(#cpB)"><rect x="353.8" y="475.3" width="222.59999999999997" height="149.49999999999994" fill="#fff"/><rect x="353.8" y="475.3" width="222.59999999999997" height="35.099999999999966" fill="#e6e7e8"/><rect x="353.8" y="510.4" width="102.59999999999997" height="114.39999999999998" fill="#a7a9ac"/></g>
<circle cx="95.0" cy="571.8" r="45.4" fill="#fff"/>
<rect x="94.1" y="527.1999999999999" width="1.8" height="7.4" rx="0.9" fill="#8a8a8a"/>
<g><circle cx="95.0" cy="571.8" r="34.4" fill="#ededed" stroke="#c4c4c4" stroke-width="0.9"/><circle cx="95.0" cy="571.8" r="32.199999999999996" fill="none" stroke="#f8f8f8" stroke-width="1.6"/><g transform="rotate(86 95.0 571.8)"><path d="M81.33,602.50A33.60,33.60 0 0 1 86.87,539.20L89.73,550.65A21.80,21.80 0 0 0 86.13,591.72Z" fill="#f6f6f6" stroke="#3a3a3a" stroke-width="0.85" stroke-linejoin="round"/><path d="M80.30,597.26A29.40,29.40 0 0 1 83.51,544.74L86.56,551.92A21.60,21.60 0 0 0 84.20,590.51Z" fill="#a9a9a9"/><g transform="translate(64.10,567.46) rotate(-82.0)"><text x="0" y="1" font-size="3.4" fill="#444" text-anchor="middle">i-Temp</text></g><g transform="translate(71.91,566.04) rotate(-76.0)"><path d="M-1.5,1L0,-1.4L1.5,1Z" fill="#333"/></g><g transform="translate(96.07,541.22) rotate(2.0)"><rect x="-6.1" y="-2.8" width="12.2" height="5.6" fill="#262626"/><text x="0" y="1.5" font-size="4.4" font-weight="bold" fill="#fff" text-anchor="middle" textLength="8.4" lengthAdjust="spacingAndGlyphs">max</text></g><g transform="translate(111.07,545.06) rotate(31.0)"><rect x="-6.6" y="-3" width="13.2" height="6" rx="1.6" fill="#1e1e1e"/><circle cx="-3.30" cy="0" r="1.2" fill="#fff"/><circle cx="0.00" cy="0" r="1.2" fill="#fff"/><circle cx="3.30" cy="0" r="1.2" fill="#fff"/></g><g transform="translate(122.06,555.86) rotate(59.5)"><rect x="-6.5" y="-3" width="13.0" height="6" rx="1.6" fill="#1e1e1e"/><circle cx="-1.65" cy="0" r="1.2" fill="#fff"/><circle cx="1.65" cy="0" r="1.2" fill="#fff"/></g><g transform="translate(126.78,570.69) rotate(88.0)"><rect x="-6.3" y="-3" width="12.6" height="6" rx="1.6" fill="#1e1e1e"/><circle cx="0.00" cy="0" r="1.2" fill="#fff"/></g><circle cx="95.85" cy="547.41" r="1.9" fill="#f4f4f4" stroke="#777" stroke-width="0.5"/><path d="M94.65,547.41h2.4M95.85,546.21v2.4" stroke="#777" stroke-width="0.4"/><circle cx="115.17" cy="556.04" r="1.9" fill="#f4f4f4" stroke="#777" stroke-width="0.5"/><path d="M113.97,556.04h2.4M115.17,554.84v2.4" stroke="#777" stroke-width="0.4"/></g><circle cx="95.0" cy="571.8" r="21.700000000000003" fill="#f7f7f7"/><foreignObject x="74.40" y="551.20" width="41.20" height="41.20"><div class="knob" style="background:conic-gradient(from 0deg, #989898 0deg, #6c6c6c 28deg, #4c4c4c 60deg, #3e3e3e 90deg, #4e4e4e 130deg, #989898 160deg,#b0b0b0 178deg, #848484 200deg, #525252 225deg, #424242 268deg, #5c5c5c 295deg, #a4a4a4 325deg, #b0b0b0 340deg, #989898 360deg)"></div></foreignObject><circle cx="95.0" cy="571.8" r="20.40" fill="none" stroke="#fff" stroke-opacity="0.45" stroke-width="0.9"/><ellipse cx="95.0" cy="572.8" rx="5.5" ry="11" fill="#fff" opacity="0.2" filter="url(#b2)"/></g>
<g transform="translate(95.0,571.8) scale(1.0)"><rect x="-2" y="-10.8" width="4" height="18" rx="2" fill="#fff"/><circle cx="0" cy="7.6" r="3.6" fill="#fff"/><path d="M0,-8v12" stroke="#999" stroke-width="1" stroke-dasharray="1.6 1.6" fill="none"/></g>
<g clip-path="url(#cpA)">
<path d="M48.98,549.36A51.20,51.20 0 0 1 141.02,549.36" fill="none" stroke="#222" stroke-width="1"/>
<g transform="translate(47.53,552.62) rotate(-252.0)"><path d="M0,0L-6,-2.6L-6,2.6Z" fill="#222"/></g>
<g transform="translate(142.47,552.62) rotate(72.0)"><path d="M0,0L-6,-2.6L-6,2.6Z" fill="#222"/></g>
<path d="M43.64,552.70L95.0,571.8L144.26,552.79" fill="none" stroke="#222" stroke-width="0.8"/>
</g>
<circle cx="297.3" cy="572.4" r="45.2" fill="#fff"/>
<rect x="296.40000000000003" y="527.4" width="1.8" height="7.4" rx="0.9" fill="#8a8a8a"/>
<g><circle cx="297.3" cy="572.4" r="34.4" fill="#ededed" stroke="#c4c4c4" stroke-width="0.9"/><circle cx="297.3" cy="572.4" r="32.199999999999996" fill="none" stroke="#f8f8f8" stroke-width="1.6"/><g transform="rotate(63 297.3 572.4)"><path d="M265.53,583.34A33.60,33.60 0 0 1 289.17,539.80L292.03,551.25A21.80,21.80 0 0 0 276.69,579.50Z" fill="#f6f6f6" stroke="#3a3a3a" stroke-width="0.85" stroke-linejoin="round"/><path d="M269.04,580.50A29.40,29.40 0 0 1 280.02,548.61L284.60,554.93A21.60,21.60 0 0 0 276.54,578.35Z" fill="#a9a9a9"/><g transform="translate(269.88,557.51) rotate(-61.5)"><text x="0" y="1" font-size="3.4" fill="#444" text-anchor="middle">i-Temp</text></g><g transform="translate(277.69,558.92) rotate(-55.5)"><path d="M-1.5,1L0,-1.4L1.5,1Z" fill="#333"/></g><path d="M289.03,605.58A34.20,34.20 0 0 1 264.96,583.53L276.69,579.50A21.80,21.80 0 0 0 292.03,593.55Z" fill="#f4f4f4" stroke="#333" stroke-width="0.8" stroke-linejoin="round"/><path d="M289.80,598.55A27.20,27.20 0 0 1 271.91,582.15L277.13,580.14A21.60,21.60 0 0 0 291.35,593.16Z" fill="#a0a0a0"/><path d="M273.06,584.75A27.20,27.20 0 0 1 271.74,581.70L277.00,579.79A21.60,21.60 0 0 0 278.05,582.21Z" fill="#222"/><g transform="translate(276.63,594.96) rotate(42.5)"><text x="0" y="1.1" font-size="3.2" font-weight="bold" fill="#333" text-anchor="middle">AntiShine</text></g><g transform="translate(279.89,588.92) rotate(-133.5)"><path d="M-1.5,1L0,-1.4L1.5,1Z" fill="#222"/></g><g transform="translate(298.37,541.82) rotate(2.0)"><rect x="-6.1" y="-2.8" width="12.2" height="5.6" fill="#262626"/><text x="0" y="1.5" font-size="4.4" font-weight="bold" fill="#fff" text-anchor="middle" textLength="8.4" lengthAdjust="spacingAndGlyphs">max</text></g><g transform="translate(313.37,545.66) rotate(31.0)"><rect x="-6.6" y="-3" width="13.2" height="6" rx="1.6" fill="#1e1e1e"/><circle cx="-3.30" cy="0" r="1.2" fill="#fff"/><circle cx="0.00" cy="0" r="1.2" fill="#fff"/><circle cx="3.30" cy="0" r="1.2" fill="#fff"/></g><g transform="translate(324.36,556.46) rotate(59.5)"><rect x="-6.5" y="-3" width="13.0" height="6" rx="1.6" fill="#1e1e1e"/><circle cx="-1.65" cy="0" r="1.2" fill="#fff"/><circle cx="1.65" cy="0" r="1.2" fill="#fff"/></g><g transform="translate(329.08,571.29) rotate(88.0)"><rect x="-6.3" y="-3" width="12.6" height="6" rx="1.6" fill="#1e1e1e"/><circle cx="0.00" cy="0" r="1.2" fill="#fff"/></g><circle cx="298.15" cy="548.01" r="1.9" fill="#f4f4f4" stroke="#777" stroke-width="0.5"/><path d="M296.95,548.01h2.4M298.15,546.81v2.4" stroke="#777" stroke-width="0.4"/><circle cx="317.47" cy="556.64" r="1.9" fill="#f4f4f4" stroke="#777" stroke-width="0.5"/><path d="M316.27,556.64h2.4M317.47,555.44v2.4" stroke="#777" stroke-width="0.4"/></g><circle cx="297.3" cy="572.4" r="21.700000000000003" fill="#f7f7f7"/><foreignObject x="276.70" y="551.80" width="41.20" height="41.20"><div class="knob" style="background:conic-gradient(from 0deg, #989898 0deg, #6c6c6c 28deg, #4c4c4c 60deg, #3e3e3e 90deg, #4e4e4e 130deg, #989898 160deg,#b0b0b0 178deg, #848484 200deg, #525252 225deg, #424242 268deg, #5c5c5c 295deg, #a4a4a4 325deg, #b0b0b0 340deg, #989898 360deg)"></div></foreignObject><circle cx="297.3" cy="572.4" r="20.40" fill="none" stroke="#fff" stroke-opacity="0.45" stroke-width="0.9"/><ellipse cx="297.3" cy="573.4" rx="5.5" ry="11" fill="#fff" opacity="0.2" filter="url(#b2)"/></g>
<g transform="translate(297.3,572.4) scale(1.0)"><rect x="-2" y="-10.8" width="4" height="18" rx="2" fill="#fff"/><circle cx="0" cy="7.6" r="3.6" fill="#fff"/><path d="M0,-8v12" stroke="#999" stroke-width="1" stroke-dasharray="1.6 1.6" fill="none"/></g>
<path d="M258.6,533.6A66,66 0 0 1 336,533.6" fill="none" stroke="#222" stroke-width="1"/>
<g transform="translate(256.2,535.4) rotate(148)"><path d="M0,0L-6,-2.6L-6,2.6Z" fill="#222"/></g>
<g transform="translate(338.4,535.4) rotate(32)"><path d="M0,0L-6,-2.6L-6,2.6Z" fill="#222"/></g>
<path d="M255.5,535.6L277.5,555.4M339.6,535.6L318.8,555" fill="none" stroke="#222" stroke-width="0.8"/>
<circle cx="404.8" cy="572.0" r="45" fill="#fff"/>
<rect x="403.90000000000003" y="527.2" width="1.8" height="7.4" rx="0.9" fill="#8a8a8a"/>
<g><circle cx="404.8" cy="572.0" r="34.4" fill="#ededed" stroke="#c4c4c4" stroke-width="0.9"/><circle cx="404.8" cy="572.0" r="32.199999999999996" fill="none" stroke="#f8f8f8" stroke-width="1.6"/><g transform="rotate(131 404.8 572.0)"><path d="M373.03,582.94A33.60,33.60 0 0 1 396.67,539.40L399.53,550.85A21.80,21.80 0 0 0 384.19,579.10Z" fill="#f6f6f6" stroke="#3a3a3a" stroke-width="0.85" stroke-linejoin="round"/><path d="M376.54,580.10A29.40,29.40 0 0 1 387.52,548.21L392.10,554.53A21.60,21.60 0 0 0 384.04,577.95Z" fill="#a9a9a9"/><g transform="translate(377.38,557.11) rotate(-61.5)"><text x="0" y="1" font-size="3.4" fill="#444" text-anchor="middle">i-Temp</text></g><g transform="translate(385.19,558.52) rotate(-55.5)"><path d="M-1.5,1L0,-1.4L1.5,1Z" fill="#333"/></g><path d="M396.53,605.18A34.20,34.20 0 0 1 372.46,583.13L384.19,579.10A21.80,21.80 0 0 0 399.53,593.15Z" fill="#f4f4f4" stroke="#333" stroke-width="0.8" stroke-linejoin="round"/><path d="M397.30,598.15A27.20,27.20 0 0 1 379.41,581.75L384.63,579.74A21.60,21.60 0 0 0 398.85,592.76Z" fill="#a0a0a0"/><path d="M380.56,584.35A27.20,27.20 0 0 1 379.24,581.30L384.50,579.39A21.60,21.60 0 0 0 385.55,581.81Z" fill="#222"/><g transform="translate(384.13,594.56) rotate(42.5)"><text x="0" y="1.1" font-size="3.2" font-weight="bold" fill="#333" text-anchor="middle">AntiShine</text></g><g transform="translate(387.39,588.52) rotate(-133.5)"><path d="M-1.5,1L0,-1.4L1.5,1Z" fill="#222"/></g><g transform="translate(405.87,541.42) rotate(2.0)"><rect x="-6.1" y="-2.8" width="12.2" height="5.6" fill="#262626"/><text x="0" y="1.5" font-size="4.4" font-weight="bold" fill="#fff" text-anchor="middle" textLength="8.4" lengthAdjust="spacingAndGlyphs">max</text></g><g transform="translate(420.87,545.26) rotate(31.0)"><rect x="-6.6" y="-3" width="13.2" height="6" rx="1.6" fill="#1e1e1e"/><circle cx="-3.30" cy="0" r="1.2" fill="#fff"/><circle cx="0.00" cy="0" r="1.2" fill="#fff"/><circle cx="3.30" cy="0" r="1.2" fill="#fff"/></g><g transform="translate(431.86,556.06) rotate(59.5)"><rect x="-6.5" y="-3" width="13.0" height="6" rx="1.6" fill="#1e1e1e"/><circle cx="-1.65" cy="0" r="1.2" fill="#fff"/><circle cx="1.65" cy="0" r="1.2" fill="#fff"/></g><g transform="translate(436.58,570.89) rotate(88.0)"><rect x="-6.3" y="-3" width="12.6" height="6" rx="1.6" fill="#1e1e1e"/><circle cx="0.00" cy="0" r="1.2" fill="#fff"/></g><circle cx="405.65" cy="547.61" r="1.9" fill="#f4f4f4" stroke="#777" stroke-width="0.5"/><path d="M404.45,547.61h2.4M405.65,546.41v2.4" stroke="#777" stroke-width="0.4"/><circle cx="424.97" cy="556.24" r="1.9" fill="#f4f4f4" stroke="#777" stroke-width="0.5"/><path d="M423.77,556.24h2.4M424.97,555.04v2.4" stroke="#777" stroke-width="0.4"/></g><circle cx="404.8" cy="572.0" r="21.700000000000003" fill="#f7f7f7"/><foreignObject x="384.20" y="551.40" width="41.20" height="41.20"><div class="knob" style="background:conic-gradient(from 0deg, #989898 0deg, #6c6c6c 28deg, #4c4c4c 60deg, #3e3e3e 90deg, #4e4e4e 130deg, #989898 160deg,#b0b0b0 178deg, #848484 200deg, #525252 225deg, #424242 268deg, #5c5c5c 295deg, #a4a4a4 325deg, #b0b0b0 340deg, #989898 360deg)"></div></foreignObject><circle cx="404.8" cy="572.0" r="20.40" fill="none" stroke="#fff" stroke-opacity="0.45" stroke-width="0.9"/><ellipse cx="404.8" cy="573.0" rx="5.5" ry="11" fill="#fff" opacity="0.2" filter="url(#b2)"/></g>
<g transform="translate(404.8,572.0) scale(1.0)"><rect x="-2" y="-10.8" width="4" height="18" rx="2" fill="#fff"/><circle cx="0" cy="7.6" r="3.6" fill="#fff"/><path d="M0,-8v12" stroke="#999" stroke-width="1" stroke-dasharray="1.6 1.6" fill="none"/></g>
<path d="M376.2,526L404.8,572.0L419,520" fill="none" stroke="#222" stroke-width="0.8"/>
<path d="M379,525.6A52,52 0 0 1 415.4,521.4" fill="none" stroke="#222" stroke-width="1"/>
<g transform="translate(376.6,526.8) rotate(158)"><path d="M0,0L-6,-2.6L-6,2.6Z" fill="#222"/></g>
<g transform="translate(418.2,521.6) rotate(4)"><path d="M0,0L-6,-2.6L-6,2.6Z" fill="#222"/></g>
<rect x="42.5" y="475.3" width="304.8" height="149.49999999999994" rx="5" fill="none" stroke="#707173" stroke-width="1.1"/>
<rect x="353.8" y="475.3" width="222.59999999999997" height="149.49999999999994" rx="5" fill="none" stroke="#707173" stroke-width="1.1"/>
<text x="194.9" y="505.9" font-size="5.4" font-weight="bold" fill="#222" text-anchor="middle" textLength="15" lengthAdjust="spacingAndGlyphs">i-Temp</text>
<text x="462.5" y="505.5" font-size="4.5" font-weight="bold" fill="#222" text-anchor="middle" textLength="18.4" lengthAdjust="spacingAndGlyphs">AntiShine</text>
<!-- p_42_smallicons -->
<g transform="translate(146,378) scale(0.08091)" ><path d="M118.0,80.0L168.0,80.0L168.0,230.0L205.0,230.0L143.0,350.0L80.0,230.0L118.0,230.0Z" fill="#b4b4b4" stroke="#5c5c5c" stroke-width="11" stroke-linejoin="round" stroke-linecap="round"/><path d="M290.0,80.0L355.0,200.0L315.0,200.0L315.0,350.0L265.0,350.0L265.0,200.0L225.0,200.0Z" fill="#b4b4b4" stroke="#5c5c5c" stroke-width="11" stroke-linejoin="round" stroke-linecap="round"/><rect x="383" y="80" width="38" height="230" rx="19" fill="#efefef" stroke="#5c5c5c" stroke-width="10"/><ellipse cx="402" cy="316" rx="36" ry="36" fill="#b4b4b4" stroke="#5c5c5c" stroke-width="10" stroke-linejoin="round" stroke-linecap="round"/><rect x="2172.728" y="80" width="38" height="230" rx="19" fill="#efefef" stroke="#5c5c5c" stroke-width="10"/><ellipse cx="2191.728" cy="316" rx="36" ry="36" fill="#b4b4b4" stroke="#5c5c5c" stroke-width="10" stroke-linejoin="round" stroke-linecap="round"/></g>
<g transform="translate(170,474) scale(0.08091)" ><path d="M155.0,250.0C137.0,246.2 186.5,219.4 195.0,212.0C203.5,204.6 230.5,181.4 240.0,176.0C249.5,170.6 280.0,160.6 290.0,158.0C300.0,155.4 332.2,149.8 340.0,150.0C347.8,150.2 364.5,155.0 368.0,160.0C371.5,165.0 374.3,191.0 375.0,200.0C375.7,209.0 397.0,245.0 375.0,250.0C353.0,255.0 173.0,253.8 155.0,250.0Z" fill="#e8e8e8" stroke="#4a4a4a" stroke-width="10" stroke-linejoin="round" stroke-linecap="round"/><path d="M150.0,252.0L380.0,252.0" fill="none" stroke="#4a4a4a" stroke-width="10" stroke-linejoin="round" stroke-linecap="round"/><path d="M155.0,274.0L378.0,274.0" fill="none" stroke="#777" stroke-width="7" stroke-linejoin="round" stroke-linecap="round" stroke-dasharray="10 6"/><rect x="255" y="184" width="92" height="32" rx="12" fill="#e8e8e8" stroke="#4a4a4a" stroke-width="8"/><rect x="412" y="80" width="36" height="170" rx="18" fill="#e8e8e8" stroke="#4a4a4a" stroke-width="9"/><rect x="420" y="195" width="20" height="50" fill="#333"/><ellipse cx="430" cy="252" rx="36" ry="34" fill="#2e2e2e"/><path d="M430.0,100.0L430.0,190.0" fill="none" stroke="#888" stroke-width="6" stroke-linejoin="round" stroke-linecap="round" stroke-dasharray="8 10"/></g>
<g transform="translate(438,474) scale(0.08091)" ><path d="M185.0,92.0L425.0,92.0" fill="none" stroke="#555" stroke-width="8" stroke-linejoin="round" stroke-linecap="round" stroke-dasharray="34 16"/><path d="M185.0,140.0L425.0,140.0" fill="none" stroke="#555" stroke-width="8" stroke-linejoin="round" stroke-linecap="round" stroke-dasharray="34 16"/><path d="M185.0,190.0L425.0,190.0" fill="none" stroke="#555" stroke-width="8" stroke-linejoin="round" stroke-linecap="round" stroke-dasharray="34 16"/><path d="M185.0,240.0L425.0,240.0" fill="none" stroke="#555" stroke-width="8" stroke-linejoin="round" stroke-linecap="round" stroke-dasharray="34 16"/><path d="M185.0,284.0L425.0,284.0" fill="none" stroke="#555" stroke-width="8" stroke-linejoin="round" stroke-linecap="round" stroke-dasharray="34 16"/><path d="M212.0,72.0L212.0,310.0" fill="none" stroke="#555" stroke-width="8" stroke-linejoin="round" stroke-linecap="round" stroke-dasharray="30 18" stroke-dashoffset="12"/><path d="M262.0,72.0L262.0,310.0" fill="none" stroke="#555" stroke-width="8" stroke-linejoin="round" stroke-linecap="round" stroke-dasharray="30 18" stroke-dashoffset="12"/><path d="M312.0,72.0L312.0,310.0" fill="none" stroke="#555" stroke-width="8" stroke-linejoin="round" stroke-linecap="round" stroke-dasharray="30 18" stroke-dashoffset="12"/><path d="M362.0,72.0L362.0,310.0" fill="none" stroke="#555" stroke-width="8" stroke-linejoin="round" stroke-linecap="round" stroke-dasharray="30 18" stroke-dashoffset="12"/><path d="M410.0,72.0L410.0,310.0" fill="none" stroke="#555" stroke-width="8" stroke-linejoin="round" stroke-linecap="round" stroke-dasharray="30 18" stroke-dashoffset="12"/><path d="M155.0,65.0L460.0,305.0" fill="none" stroke="#3c3c3c" stroke-width="8" stroke-linejoin="round" stroke-linecap="round"/><path d="M462.0,68.0L150.0,302.0" fill="none" stroke="#3c3c3c" stroke-width="8" stroke-linejoin="round" stroke-linecap="round"/><path d="M200.0,226.0L176.0,233.0L188.0,254.0L167.0,242.0L160.0,266.0L153.0,242.0L132.0,254.0L144.0,233.0L120.0,226.0L144.0,219.0L132.0,198.0L153.0,210.0L160.0,186.0L167.0,210.0L188.0,198.0L176.0,219.0Z" fill="#2a2a2a"/><path d="M490.0,130.0L466.0,137.0L478.0,158.0L457.0,146.0L450.0,170.0L443.0,146.0L422.0,158.0L434.0,137.0L410.0,130.0L434.0,123.0L422.0,102.0L443.0,114.0L450.0,90.0L457.0,114.0L478.0,102.0L466.0,123.0Z" fill="#2a2a2a"/></g>
<!-- p_45_photos -->
<clipPath id="cpPh1"><rect x="146.2" y="535.3" width="98.4" height="75.2" rx="3.5"/></clipPath>
<clipPath id="cpPh2"><rect x="459.2" y="535.3" width="113.8" height="75.2" rx="3.5"/></clipPath>
<g clip-path="url(#cpPh1)"><g transform="translate(144,530) scale(0.16829)" ><rect x="-120" y="0" width="760" height="520" fill="#8a8a8a"/><path d="M-120.0,100.0C-93.3,40.0 0.0,103.3 40.0,120.0C80.0,136.7 110.0,165.0 120.0,200.0C130.0,235.0 110.0,283.3 100.0,330.0C90.0,376.7 96.7,455.0 60.0,480.0C23.3,505.0 -90.0,543.3 -120.0,480.0C-150.0,416.7 -146.7,160.0 -120.0,100.0Z" fill="#767676" filter="url(#b8)"/><path d="M-120.0,380.0C-90.0,360.0 6.7,390.0 60.0,400.0C113.3,410.0 143.3,428.3 200.0,440.0C256.7,451.7 366.7,456.7 400.0,470.0C433.3,483.3 486.7,511.7 400.0,520.0C313.3,528.3 -33.3,543.3 -120.0,520.0C-206.7,496.7 -150.0,400.0 -120.0,380.0Z" fill="#808080" filter="url(#b8)"/><path d="M300.0,20.0C336.7,10.0 566.7,-20.0 620.0,20.0C673.3,60.0 633.3,226.7 620.0,260.0C606.7,293.3 565.0,240.0 540.0,220.0C515.0,200.0 493.3,163.3 470.0,140.0C446.7,116.7 428.3,100.0 400.0,80.0C371.7,60.0 263.3,30.0 300.0,20.0Z" fill="#7e7e7e"/><path d="M330.0,40.0C333.3,32.7 396.7,32.7 420.0,36.0C443.3,39.3 450.0,47.7 470.0,60.0C490.0,72.3 518.3,95.0 540.0,110.0C561.7,125.0 586.7,125.0 600.0,150.0C613.3,175.0 626.7,246.7 620.0,260.0C613.3,273.3 583.3,250.0 560.0,230.0C536.7,210.0 506.7,165.0 480.0,140.0C453.3,115.0 425.0,96.7 400.0,80.0C375.0,63.3 326.7,47.3 330.0,40.0Z" fill="#6c6c6c" filter="url(#b8)"/><path d="M420.0,44.0L600.0,44.0L600.0,140.0L540.0,152.0L470.0,80.0Z" fill="#d2d2d2" filter="url(#b2)"/><path d="M440.0,40.0L600.0,40.0L600.0,62.0L520.0,70.0Z" fill="#8a8a8a" filter="url(#b4)"/><path d="M-120.0,30.0C-100.0,16.3 89.2,33.5 120.0,36.0C150.8,38.5 230.0,53.0 250.0,60.0C270.0,67.0 343.3,105.8 360.0,120.0C376.7,134.2 436.7,210.0 450.0,230.0C463.3,250.0 507.5,342.5 520.0,360.0C532.5,377.5 591.7,426.7 600.0,440.0C608.3,453.3 630.8,513.3 620.0,520.0C609.2,526.7 485.0,530.0 470.0,520.0C455.0,510.0 445.8,418.3 440.0,400.0C434.2,381.7 409.2,315.8 400.0,300.0C390.8,284.2 346.7,223.3 330.0,210.0C313.3,196.7 223.8,147.7 200.0,140.0C176.2,132.3 66.7,117.2 45.0,118.0C23.3,118.8 -46.2,143.2 -60.0,150.0C-73.8,156.8 -115.0,210.0 -120.0,200.0C-125.0,190.0 -140.0,43.7 -120.0,30.0Z" fill="#e9e9e9"/><path d="M-100.0,60.0C-63.3,52.0 61.7,57.0 120.0,62.0C178.3,67.0 213.3,75.3 250.0,90.0C286.7,104.7 311.7,123.3 340.0,150.0C368.3,176.7 413.3,233.3 420.0,250.0C426.7,266.7 400.0,263.3 380.0,250.0C360.0,236.7 330.0,191.7 300.0,170.0C270.0,148.3 243.3,131.7 200.0,120.0C156.7,108.3 90.0,101.7 40.0,100.0C-10.0,98.3 -76.7,116.7 -100.0,110.0C-123.3,103.3 -136.7,68.0 -100.0,60.0Z" fill="#fafafa" filter="url(#b8)"/><path d="M440.0,250.0C445.8,234.6 505.0,215.0 520.0,215.0C535.0,215.0 611.7,224.6 620.0,250.0C628.3,275.4 632.5,497.5 620.0,520.0C607.5,542.5 484.2,530.0 470.0,520.0C455.8,510.0 452.5,422.5 450.0,400.0C447.5,377.5 434.2,265.4 440.0,250.0Z" fill="#e2e2e2"/><path d="M500.0,300.0C508.3,288.3 540.0,310.0 560.0,330.0C580.0,350.0 610.0,388.3 620.0,420.0C630.0,451.7 633.3,503.3 620.0,520.0C606.7,536.7 558.3,540.0 540.0,520.0C521.7,500.0 516.7,436.7 510.0,400.0C503.3,363.3 491.7,311.7 500.0,300.0Z" fill="#cfcfcf" filter="url(#b8)"/><path d="M45.0,120.0C51.7,117.2 90.8,123.0 120.0,128.0C149.2,133.0 185.0,137.2 220.0,150.0C255.0,162.8 299.2,186.3 330.0,205.0C360.8,223.7 405.0,256.2 405.0,262.0C405.0,267.8 355.8,249.5 330.0,240.0C304.2,230.5 280.0,216.7 250.0,205.0C220.0,193.3 178.3,180.0 150.0,170.0C121.7,160.0 97.5,153.3 80.0,145.0C62.5,136.7 38.3,122.8 45.0,120.0Z" fill="#fdfdfd" stroke="#666" stroke-width="2.5" stroke-linejoin="round" stroke-linecap="round"/><ellipse cx="232" cy="308" rx="162" ry="92" transform="rotate(6 232 308)" fill="#e6e6e6"/><ellipse cx="225" cy="300" rx="140" ry="74" transform="rotate(6 225 300)" fill="#f1f1f1" filter="url(#b4)"/><ellipse cx="250" cy="272" rx="130" ry="52" transform="rotate(-4 250 272)" fill="#c4c4c4"/><path d="M118.0,270.0C120.0,275.0 121.3,292.0 130.0,300.0C138.7,308.0 153.3,313.8 170.0,318.0C186.7,322.2 210.8,324.7 230.0,325.0C249.2,325.3 275.8,320.8 285.0,320.0" fill="none" stroke="#555" stroke-width="9" stroke-linejoin="round" stroke-linecap="round" opacity="0.75" stroke-dasharray="12 9"/><path d="M285.0,225.0C290.8,226.2 310.0,227.8 320.0,232.0C330.0,236.2 340.8,247.0 345.0,250.0" fill="none" stroke="#666" stroke-width="7" stroke-linejoin="round" stroke-linecap="round" opacity="0.7" stroke-dasharray="10 8"/><ellipse cx="255" cy="268" rx="86" ry="36" transform="rotate(-5 255 268)" fill="#6a6a6a"/><ellipse cx="250" cy="260" rx="58" ry="18" transform="rotate(-5 250 260)" fill="#bdbdbd" filter="url(#b4)"/><ellipse cx="345" cy="262" rx="18" ry="14" fill="#f2f2f2"/><ellipse cx="370" cy="410" rx="38" ry="36" fill="#e9e9e9" stroke="#b4b4b4" stroke-width="3" stroke-linejoin="round" stroke-linecap="round"/><ellipse cx="370" cy="414" rx="20" ry="22" fill="#aaaaaa" filter="url(#b2)"/><ellipse cx="408" cy="328" rx="36" ry="36" fill="#c9c9c9" stroke="#333" stroke-width="7" stroke-linejoin="round" stroke-linecap="round"/><ellipse cx="402" cy="322" rx="16" ry="14" fill="#e6e6e6" filter="url(#b4)"/></g></g>
<rect x="146.2" y="535.3" width="98.4" height="75.2" rx="3.5" fill="none" stroke="#4a4a4a" stroke-width="0.9"/>
<g clip-path="url(#cpPh2)"><g transform="translate(472.8,531.2) scale(0.16829)" ><rect x="-120" y="0" width="760" height="520" fill="#8a8a8a"/><path d="M-120.0,100.0C-93.3,40.0 0.0,103.3 40.0,120.0C80.0,136.7 110.0,165.0 120.0,200.0C130.0,235.0 110.0,283.3 100.0,330.0C90.0,376.7 96.7,455.0 60.0,480.0C23.3,505.0 -90.0,543.3 -120.0,480.0C-150.0,416.7 -146.7,160.0 -120.0,100.0Z" fill="#767676" filter="url(#b8)"/><path d="M-120.0,380.0C-90.0,360.0 6.7,390.0 60.0,400.0C113.3,410.0 143.3,428.3 200.0,440.0C256.7,451.7 366.7,456.7 400.0,470.0C433.3,483.3 486.7,511.7 400.0,520.0C313.3,528.3 -33.3,543.3 -120.0,520.0C-206.7,496.7 -150.0,400.0 -120.0,380.0Z" fill="#808080" filter="url(#b8)"/><path d="M300.0,20.0C336.7,10.0 566.7,-20.0 620.0,20.0C673.3,60.0 633.3,226.7 620.0,260.0C606.7,293.3 565.0,240.0 540.0,220.0C515.0,200.0 493.3,163.3 470.0,140.0C446.7,116.7 428.3,100.0 400.0,80.0C371.7,60.0 263.3,30.0 300.0,20.0Z" fill="#7e7e7e"/><path d="M330.0,40.0C333.3,32.7 396.7,32.7 420.0,36.0C443.3,39.3 450.0,47.7 470.0,60.0C490.0,72.3 518.3,95.0 540.0,110.0C561.7,125.0 586.7,125.0 600.0,150.0C613.3,175.0 626.7,246.7 620.0,260.0C613.3,273.3 583.3,250.0 560.0,230.0C536.7,210.0 506.7,165.0 480.0,140.0C453.3,115.0 425.0,96.7 400.0,80.0C375.0,63.3 326.7,47.3 330.0,40.0Z" fill="#6c6c6c" filter="url(#b8)"/><path d="M420.0,44.0L600.0,44.0L600.0,140.0L540.0,152.0L470.0,80.0Z" fill="#d2d2d2" filter="url(#b2)"/><path d="M440.0,40.0L600.0,40.0L600.0,62.0L520.0,70.0Z" fill="#8a8a8a" filter="url(#b4)"/><path d="M-120.0,30.0C-100.0,16.3 89.2,33.5 120.0,36.0C150.8,38.5 230.0,53.0 250.0,60.0C270.0,67.0 343.3,105.8 360.0,120.0C376.7,134.2 436.7,210.0 450.0,230.0C463.3,250.0 507.5,342.5 520.0,360.0C532.5,377.5 591.7,426.7 600.0,440.0C608.3,453.3 630.8,513.3 620.0,520.0C609.2,526.7 485.0,530.0 470.0,520.0C455.0,510.0 445.8,418.3 440.0,400.0C434.2,381.7 409.2,315.8 400.0,300.0C390.8,284.2 346.7,223.3 330.0,210.0C313.3,196.7 223.8,147.7 200.0,140.0C176.2,132.3 66.7,117.2 45.0,118.0C23.3,118.8 -46.2,143.2 -60.0,150.0C-73.8,156.8 -115.0,210.0 -120.0,200.0C-125.0,190.0 -140.0,43.7 -120.0,30.0Z" fill="#e9e9e9"/><path d="M-100.0,60.0C-63.3,52.0 61.7,57.0 120.0,62.0C178.3,67.0 213.3,75.3 250.0,90.0C286.7,104.7 311.7,123.3 340.0,150.0C368.3,176.7 413.3,233.3 420.0,250.0C426.7,266.7 400.0,263.3 380.0,250.0C360.0,236.7 330.0,191.7 300.0,170.0C270.0,148.3 243.3,131.7 200.0,120.0C156.7,108.3 90.0,101.7 40.0,100.0C-10.0,98.3 -76.7,116.7 -100.0,110.0C-123.3,103.3 -136.7,68.0 -100.0,60.0Z" fill="#fafafa" filter="url(#b8)"/><path d="M440.0,250.0C445.8,234.6 505.0,215.0 520.0,215.0C535.0,215.0 611.7,224.6 620.0,250.0C628.3,275.4 632.5,497.5 620.0,520.0C607.5,542.5 484.2,530.0 470.0,520.0C455.8,510.0 452.5,422.5 450.0,400.0C447.5,377.5 434.2,265.4 440.0,250.0Z" fill="#e2e2e2"/><path d="M500.0,300.0C508.3,288.3 540.0,310.0 560.0,330.0C580.0,350.0 610.0,388.3 620.0,420.0C630.0,451.7 633.3,503.3 620.0,520.0C606.7,536.7 558.3,540.0 540.0,520.0C521.7,500.0 516.7,436.7 510.0,400.0C503.3,363.3 491.7,311.7 500.0,300.0Z" fill="#cfcfcf" filter="url(#b8)"/><path d="M45.0,120.0C51.7,117.2 90.8,123.0 120.0,128.0C149.2,133.0 185.0,137.2 220.0,150.0C255.0,162.8 299.2,186.3 330.0,205.0C360.8,223.7 405.0,256.2 405.0,262.0C405.0,267.8 355.8,249.5 330.0,240.0C304.2,230.5 280.0,216.7 250.0,205.0C220.0,193.3 178.3,180.0 150.0,170.0C121.7,160.0 97.5,153.3 80.0,145.0C62.5,136.7 38.3,122.8 45.0,120.0Z" fill="#fdfdfd" stroke="#666" stroke-width="2.5" stroke-linejoin="round" stroke-linecap="round"/><ellipse cx="232" cy="308" rx="162" ry="92" transform="rotate(6 232 308)" fill="#e6e6e6"/><ellipse cx="225" cy="300" rx="140" ry="74" transform="rotate(6 225 300)" fill="#f1f1f1" filter="url(#b4)"/><ellipse cx="250" cy="272" rx="130" ry="52" transform="rotate(-4 250 272)" fill="#c4c4c4"/><path d="M118.0,270.0C120.0,275.0 121.3,292.0 130.0,300.0C138.7,308.0 153.3,313.8 170.0,318.0C186.7,322.2 210.8,324.7 230.0,325.0C249.2,325.3 275.8,320.8 285.0,320.0" fill="none" stroke="#555" stroke-width="9" stroke-linejoin="round" stroke-linecap="round" opacity="0.75" stroke-dasharray="12 9"/><path d="M285.0,225.0C290.8,226.2 310.0,227.8 320.0,232.0C330.0,236.2 340.8,247.0 345.0,250.0" fill="none" stroke="#666" stroke-width="7" stroke-linejoin="round" stroke-linecap="round" opacity="0.7" stroke-dasharray="10 8"/><ellipse cx="255" cy="268" rx="86" ry="36" transform="rotate(-5 255 268)" fill="#6a6a6a"/><ellipse cx="250" cy="260" rx="58" ry="18" transform="rotate(-5 250 260)" fill="#bdbdbd" filter="url(#b4)"/><ellipse cx="345" cy="262" rx="18" ry="14" fill="#f2f2f2"/><ellipse cx="370" cy="410" rx="38" ry="36" fill="#e9e9e9" stroke="#b4b4b4" stroke-width="3" stroke-linejoin="round" stroke-linecap="round"/><ellipse cx="370" cy="414" rx="20" ry="22" fill="#aaaaaa" filter="url(#b2)"/><ellipse cx="408" cy="328" rx="36" ry="36" fill="#c9c9c9" stroke="#333" stroke-width="7" stroke-linejoin="round" stroke-linecap="round"/><ellipse cx="402" cy="322" rx="16" ry="14" fill="#e6e6e6" filter="url(#b4)"/></g></g>
<rect x="459.2" y="535.3" width="113.8" height="75.2" rx="3.5" fill="none" stroke="#4a4a4a" stroke-width="0.9"/>
<!-- p_50_sec3 -->
<clipPath id="cp30"><rect x="41.0" y="707.6" width="105.0" height="104.60000000000002" rx="5"/></clipPath>
<rect x="41.0" y="707.6" width="105.0" height="104.60000000000002" rx="5" fill="#fff" stroke="#707173" stroke-width="1.1"/>
<clipPath id="cp31"><rect x="154.0" y="707.6" width="134.60000000000002" height="104.60000000000002" rx="5"/></clipPath>
<rect x="154.0" y="707.6" width="134.60000000000002" height="104.60000000000002" rx="5" fill="#fff" stroke="#707173" stroke-width="1.1"/>
<clipPath id="cp32"><rect x="297.6" y="707.6" width="133.79999999999995" height="104.60000000000002" rx="5"/></clipPath>
<rect x="297.6" y="707.6" width="133.79999999999995" height="104.60000000000002" rx="5" fill="#fff" stroke="#707173" stroke-width="1.1"/>
<clipPath id="cp33"><rect x="441.2" y="707.6" width="133.59999999999997" height="104.60000000000002" rx="5"/></clipPath>
<rect x="441.2" y="707.6" width="133.59999999999997" height="104.60000000000002" rx="5" fill="#fff" stroke="#707173" stroke-width="1.1"/>
<text x="535.8" y="695.8" font-size="8.7" fill="#fff" text-anchor="middle" textLength="62.4" lengthAdjust="spacingAndGlyphs">Sensor Secure</text>
<!-- p_51_p31 -->
<g clip-path="url(#cp30)"><g transform="translate(40,706) scale(0.17476)" ><path d="M452.0,84.0C462.5,85.0 495.2,150.4 505.0,170.0C514.8,189.6 542.3,257.0 550.0,280.0C557.7,303.0 577.6,378.0 582.0,400.0C586.4,422.0 594.2,482.0 594.0,500.0C593.8,518.0 582.8,567.5 580.0,580.0C577.2,592.5 595.0,620.5 566.0,625.0C537.0,629.5 318.4,631.5 290.0,625.0C261.6,618.5 282.0,575.5 282.0,560.0C282.0,544.5 293.2,482.0 290.0,470.0C286.8,458.0 255.0,449.0 250.0,440.0C245.0,431.0 238.8,388.0 240.0,380.0C241.2,372.0 260.2,365.8 262.0,360.0C263.8,354.2 255.7,329.5 258.0,322.0C260.3,314.5 277.8,294.0 285.0,285.0C292.2,276.0 318.5,244.5 330.0,232.0C341.5,219.5 387.8,174.8 400.0,160.0C412.2,145.2 441.5,83.0 452.0,84.0Z" fill="#f3f3f3" stroke="#999" stroke-width="4.5" stroke-linejoin="round" stroke-linecap="round"/><path d="M259.0,308.0C260.7,303.0 283.3,279.4 290.0,272.0C296.7,264.6 314.4,245.8 326.0,234.0C337.6,222.2 395.3,164.6 406.0,154.0C416.7,143.4 429.6,128.4 433.0,128.0C436.4,127.6 442.3,143.8 440.0,150.0C437.7,156.2 416.7,181.4 410.0,190.0C403.3,198.6 381.4,223.6 373.0,236.0C364.6,248.4 336.0,305.4 326.0,314.0C316.0,322.6 279.7,322.6 273.0,322.0C266.3,321.4 257.3,313.0 259.0,308.0Z" fill="#8e8e8e"/><path d="M300.0,290.0C305.3,277.8 333.3,250.3 350.0,232.0C366.7,213.7 389.7,186.7 400.0,180.0C410.3,173.3 418.3,180.3 412.0,192.0C405.7,203.7 377.7,231.2 362.0,250.0C346.3,268.8 328.3,298.3 318.0,305.0C307.7,311.7 294.7,302.2 300.0,290.0Z" fill="#7a7a7a" filter="url(#b2)"/><path d="M258.0,325.0C264.0,320.5 294.0,329.5 300.0,335.0C306.0,340.5 317.0,366.5 318.0,380.0C319.0,393.5 311.8,445.5 310.0,470.0C308.2,494.5 302.5,609.5 300.0,625.0C297.5,640.5 286.8,631.5 285.0,625.0C283.2,618.5 281.5,575.5 282.0,560.0C282.5,544.5 293.2,482.0 290.0,470.0C286.8,458.0 255.0,449.0 250.0,440.0C245.0,431.0 239.2,391.5 240.0,380.0C240.8,368.5 252.0,329.5 258.0,325.0Z" fill="#dadada"/><path d="M238.0,378.0L270.0,370.0L285.0,400.0L280.0,450.0L255.0,440.0Z" fill="#c4c4c4"/><path d="M446.0,172.0C449.6,171.0 466.0,217.1 470.0,230.0C474.0,242.9 483.3,280.6 486.0,301.0C488.7,321.4 495.6,404.7 497.0,434.0C498.4,463.3 500.2,574.9 500.0,594.0C499.8,613.1 509.5,621.9 495.0,625.0C480.5,628.1 369.5,635.5 355.0,625.0C340.5,614.5 347.0,540.5 350.0,520.0C353.0,499.5 378.2,439.0 385.0,420.0C391.8,401.0 413.1,348.0 418.0,330.0C422.9,312.0 431.2,255.8 434.0,240.0C436.8,224.2 442.4,173.0 446.0,172.0Z" fill="#a6a6a6"/><path d="M420.0,340.0C426.7,313.3 441.7,261.7 450.0,260.0C458.3,258.3 464.3,300.0 470.0,330.0C475.7,360.0 482.3,401.7 484.0,440.0C485.7,478.3 487.3,543.3 480.0,560.0C472.7,576.7 451.7,563.3 440.0,540.0C428.3,516.7 413.3,453.3 410.0,420.0C406.7,386.7 413.3,366.7 420.0,340.0Z" fill="#b4b4b4" filter="url(#b4)"/><path d="M350.0,560.0C358.3,542.5 385.0,520.0 400.0,520.0C415.0,520.0 433.3,542.5 440.0,560.0C446.7,577.5 455.0,614.2 440.0,625.0C425.0,635.8 365.0,635.8 350.0,625.0C335.0,614.2 341.7,577.5 350.0,560.0Z" fill="#8e8e8e" filter="url(#b4)"/><path d="M500.0,260.0C503.8,260.0 526.3,325.0 535.0,360.0C543.7,395.0 550.3,430.0 552.0,470.0C553.7,510.0 549.5,578.3 545.0,600.0C540.5,621.7 527.8,621.7 525.0,600.0C522.2,578.3 530.2,510.0 528.0,470.0C525.8,430.0 516.7,395.0 512.0,360.0C507.3,325.0 496.2,260.0 500.0,260.0Z" fill="#e4e4e4" filter="url(#b4)"/><path d="M338.0,425.0C339.8,413.8 347.6,407.5 350.0,408.0C352.4,408.5 361.8,418.8 362.0,430.0C362.2,441.2 352.6,503.0 352.0,520.0C351.4,537.0 357.2,592.0 356.0,600.0C354.8,608.0 342.4,608.0 340.0,600.0C337.6,592.0 332.2,537.5 332.0,520.0C331.8,502.5 336.2,436.2 338.0,425.0Z" fill="#fdfdfd" stroke="#888" stroke-width="4" stroke-linejoin="round" stroke-linecap="round"/><ellipse cx="388" cy="466" rx="46" ry="64" transform="rotate(-8 388 466)" fill="#ececec" stroke="#bbb" stroke-width="4" stroke-linejoin="round" stroke-linecap="round"/><ellipse cx="376" cy="470" rx="24" ry="42" transform="rotate(-8 376 470)" fill="#a8a8a8"/><ellipse cx="408" cy="408" rx="16" ry="15" fill="#eee" stroke="#aaa" stroke-width="2" stroke-linejoin="round" stroke-linecap="round"/><path d="M452.0,84.0C453.5,83.0 463.0,88.2 470.0,98.0C477.0,107.8 511.8,159.8 522.0,182.0C532.2,204.2 564.6,291.4 572.0,320.0C579.4,348.6 594.6,444.0 596.0,468.0C597.4,492.0 589.0,544.3 586.0,560.0C583.0,575.7 569.0,618.5 566.0,625.0C563.0,631.5 555.4,631.5 556.0,625.0C556.6,618.5 569.6,575.7 572.0,560.0C574.4,544.3 581.6,491.0 580.0,468.0C578.4,445.0 563.4,357.3 556.0,330.0C548.6,302.7 516.1,217.2 506.0,195.0C495.9,172.8 460.4,119.1 455.0,108.0C449.6,96.9 450.5,85.0 452.0,84.0Z" fill="#585858"/><path d="M133.0,262.0C126.7,271.7 105.2,301.7 95.0,320.0C84.8,338.3 76.8,353.2 72.0,372.0C67.2,390.8 63.7,413.8 66.0,433.0C68.3,452.2 79.7,469.2 86.0,487.0C92.3,504.8 100.7,517.0 104.0,540.0C107.3,563.0 105.7,610.8 106.0,625.0" fill="none" stroke="#7c7c7c" stroke-width="28" stroke-linejoin="round" stroke-linecap="round"/><path d="M133.0,262.0C126.7,271.7 105.2,301.7 95.0,320.0C84.8,338.3 76.8,353.2 72.0,372.0C67.2,390.8 63.7,413.8 66.0,433.0C68.3,452.2 79.7,469.2 86.0,487.0C92.3,504.8 100.7,517.0 104.0,540.0C107.3,563.0 105.7,610.8 106.0,625.0" fill="none" stroke="#fafafa" stroke-width="19" stroke-linejoin="round" stroke-linecap="round"/><path d="M126.0,270.0C119.7,279.3 97.3,307.7 88.0,326.0C78.7,344.3 73.3,362.2 70.0,380.0C66.7,397.8 65.0,415.2 68.0,433.0C71.0,450.8 82.0,469.2 88.0,487.0C94.0,504.8 101.0,517.0 104.0,540.0C107.0,563.0 105.7,610.8 106.0,625.0" fill="none" stroke="#9a9a9a" stroke-width="3.5" stroke-linejoin="round" stroke-linecap="round"/><path d="M-10.0,310.0C-8.3,296.0 4.8,293.3 10.0,287.0C15.2,280.7 49.7,242.1 53.0,234.0C56.3,225.9 49.8,196.2 50.0,190.0C50.2,183.8 49.1,165.8 56.0,160.0C62.9,154.2 121.6,122.3 133.0,121.0C144.4,119.7 187.2,140.1 193.0,144.0C198.8,147.9 203.5,163.3 202.0,168.0C200.5,172.7 180.2,194.5 175.0,200.0C169.8,205.5 143.5,228.8 140.0,234.0C136.5,239.2 138.0,252.0 133.0,262.0C128.0,272.0 91.9,337.9 80.0,354.0C68.1,370.1 -2.5,458.7 -10.0,455.0C-17.5,451.3 -11.7,324.0 -10.0,310.0Z" fill="#e8e8e8" stroke="#8a8a8a" stroke-width="5" stroke-linejoin="round" stroke-linecap="round"/><ellipse cx="140" cy="158" rx="30" ry="13" transform="rotate(-18 140 158)" fill="#b4b4b4"/><path d="M188.0,138.0C189.3,130.7 203.3,117.3 212.0,112.0C220.7,106.7 233.3,103.3 240.0,106.0C246.7,108.7 253.3,120.7 252.0,128.0C250.7,135.3 240.0,145.3 232.0,150.0C224.0,154.7 211.3,158.0 204.0,156.0C196.7,154.0 186.7,145.3 188.0,138.0Z" fill="#dcdcdc" stroke="#8e8e8e" stroke-width="4.5" stroke-linejoin="round" stroke-linecap="round"/><path d="M240.0,110.0L254.0,98.0" fill="none" stroke="#999" stroke-width="4.5" stroke-linejoin="round" stroke-linecap="round"/><path d="M250.0,130.0L264.0,122.0" fill="none" stroke="#999" stroke-width="4.5" stroke-linejoin="round" stroke-linecap="round"/><path d="M282.0,60.0C285.0,57.4 347.0,66.4 350.0,70.0C353.0,73.6 359.0,147.4 356.0,150.0C353.0,152.6 279.0,137.6 276.0,134.0C273.0,130.4 279.0,62.6 282.0,60.0Z" fill="#f1f1f1" stroke="#8c8c8c" stroke-width="5" stroke-linejoin="round" stroke-linecap="round"/><ellipse cx="315" cy="106" rx="23" ry="23" fill="#dedede" stroke="#8c8c8c" stroke-width="4" stroke-linejoin="round" stroke-linecap="round"/><ellipse cx="315" cy="105" rx="10" ry="10" fill="#f8f8f8" stroke="#aaa" stroke-width="2" stroke-linejoin="round" stroke-linecap="round"/><path d="M196.0,250.0L250.0,200.0L232.0,182.0L302.0,160.0L284.0,232.0L266.0,214.0L212.0,264.0Z" fill="#2e2e2e"/></g></g><rect x="41" y="707.6" width="105" height="104.6" rx="5" fill="none" stroke="#707173" stroke-width="1.1"/>
<!-- p_52_p32 -->
<g clip-path="url(#cp31)"><g transform="translate(152,706) scale(0.12308)" ><path d="M-20.0,150.0C-8.3,87.5 93.3,120.0 120.0,120.0C146.7,120.0 268.3,142.3 300.0,150.0C331.7,157.7 476.2,206.3 500.0,212.0C523.8,217.7 569.2,216.3 585.0,218.0C600.8,219.7 680.9,226.0 690.0,232.0C699.1,238.0 684.8,282.5 694.0,290.0C703.2,297.5 787.0,312.8 800.0,322.0C813.0,331.2 838.8,379.2 850.0,400.0C861.2,420.8 916.2,533.7 935.0,572.0C953.8,610.3 1154.6,835.2 1075.0,860.0C995.4,884.8 71.2,929.2 -20.0,870.0C-111.2,810.8 -31.7,212.5 -20.0,150.0Z" fill="#f2f2f2" stroke="#8c8c8c" stroke-width="7" stroke-linejoin="round" stroke-linecap="round"/><path d="M22.0,30.0L78.0,20.0L110.0,122.0L30.0,150.0Z" fill="#5c5c5c"/><path d="M26.0,48.0L84.0,34.0" fill="none" stroke="#b8b8b8" stroke-width="7" stroke-linejoin="round" stroke-linecap="round"/><path d="M28.0,66.0L89.0,52.0" fill="none" stroke="#b8b8b8" stroke-width="7" stroke-linejoin="round" stroke-linecap="round"/><path d="M30.0,84.0L94.0,70.0" fill="none" stroke="#b8b8b8" stroke-width="7" stroke-linejoin="round" stroke-linecap="round"/><path d="M32.0,102.0L99.0,88.0" fill="none" stroke="#b8b8b8" stroke-width="7" stroke-linejoin="round" stroke-linecap="round"/><path d="M34.0,120.0L104.0,106.0" fill="none" stroke="#b8b8b8" stroke-width="7" stroke-linejoin="round" stroke-linecap="round"/><path d="M-20.0,150.0C-8.3,142.1 93.3,120.0 120.0,120.0C146.7,120.0 268.3,142.3 300.0,150.0C331.7,157.7 476.2,206.3 500.0,212.0C523.8,217.7 569.2,216.3 585.0,218.0C600.8,219.7 680.9,226.0 690.0,232.0C699.1,238.0 701.5,283.9 694.0,290.0C686.5,296.1 620.3,305.4 600.0,305.0C579.7,304.6 475.0,289.8 450.0,285.0C425.0,280.2 327.5,253.6 300.0,248.0C272.5,242.4 146.7,220.8 120.0,218.0C93.3,215.2 -8.3,220.7 -20.0,215.0C-31.7,209.3 -31.7,157.9 -20.0,150.0Z" fill="#9e9e9e"/><path d="M20.0,170.0C41.7,165.0 103.3,158.3 150.0,162.0C196.7,165.7 250.0,179.0 300.0,192.0C350.0,205.0 426.7,229.5 450.0,240.0C473.3,250.5 465.0,259.2 440.0,255.0C415.0,250.8 348.3,226.2 300.0,215.0C251.7,203.8 196.7,191.8 150.0,188.0C103.3,184.2 41.7,195.0 20.0,192.0C-1.7,189.0 -1.7,175.0 20.0,170.0Z" fill="#c2c2c2" filter="url(#b4)"/><path d="M450.0,230.0C460.0,224.2 521.7,231.7 560.0,235.0C598.3,238.3 660.0,241.7 680.0,250.0C700.0,258.3 693.3,278.3 680.0,285.0C666.7,291.7 630.0,292.5 600.0,290.0C570.0,287.5 525.0,280.0 500.0,270.0C475.0,260.0 440.0,235.8 450.0,230.0Z" fill="#7c7c7c" filter="url(#b4)"/><path d="M-20.0,215.0C-8.3,197.3 93.3,215.2 120.0,218.0C146.7,220.8 272.5,242.4 300.0,248.0C327.5,253.6 425.0,280.2 450.0,285.0C475.0,289.8 584.2,298.8 600.0,305.0C615.8,311.2 640.0,350.4 640.0,360.0C640.0,369.6 613.3,417.5 600.0,420.0C586.7,422.5 502.5,396.7 480.0,390.0C457.5,383.3 353.3,347.5 330.0,340.0C306.7,332.5 217.5,300.8 200.0,300.0C182.5,299.2 138.3,319.2 120.0,330.0C101.7,340.8 -8.3,439.6 -20.0,430.0C-31.7,420.4 -31.7,232.7 -20.0,215.0Z" fill="#f3f3f3"/><path d="M-20.0,430.0C-8.3,414.2 101.7,340.8 120.0,330.0C138.3,319.2 182.5,296.8 200.0,300.0C217.5,303.2 306.7,358.0 330.0,368.0C353.3,378.0 458.8,409.0 480.0,420.0C501.2,431.0 571.7,485.0 585.0,500.0C598.3,515.0 635.4,586.7 640.0,600.0C644.6,613.3 660.0,660.0 640.0,660.0C620.0,660.0 436.7,608.3 400.0,600.0C363.3,591.7 235.0,566.7 200.0,560.0C165.0,553.3 -1.7,530.8 -20.0,520.0C-38.3,509.2 -31.7,445.8 -20.0,430.0Z" fill="#747474"/><path d="M20.0,440.0C36.7,418.3 90.0,380.0 120.0,370.0C150.0,360.0 186.7,358.3 200.0,380.0C213.3,401.7 230.0,480.0 200.0,500.0C170.0,520.0 50.0,510.0 20.0,500.0C-10.0,490.0 3.3,461.7 20.0,440.0Z" fill="#626262" opacity="0.7" filter="url(#b8)"/><path d="M200.0,300.0C201.7,294.5 236.7,303.3 270.0,312.0C303.3,320.7 361.7,337.3 400.0,352.0C438.3,366.7 476.3,383.3 500.0,400.0C523.7,416.7 547.0,447.8 542.0,452.0C537.0,456.2 502.0,436.2 470.0,425.0C438.0,413.8 385.0,398.3 350.0,385.0C315.0,371.7 285.0,359.2 260.0,345.0C235.0,330.8 198.3,305.5 200.0,300.0Z" fill="#fdfdfd" stroke="#555" stroke-width="5" stroke-linejoin="round" stroke-linecap="round"/><ellipse cx="362" cy="475" rx="140" ry="84" transform="rotate(8 362 475)" fill="#e6e6e6"/><ellipse cx="372" cy="452" rx="100" ry="50" transform="rotate(5 372 452)" fill="#8a8a8a"/><ellipse cx="378" cy="446" rx="62" ry="28" transform="rotate(5 378 446)" fill="#a6a6a6" filter="url(#b4)"/><ellipse cx="470" cy="566" rx="37" ry="35" fill="#ececec" stroke="#aaa" stroke-width="5" stroke-linejoin="round" stroke-linecap="round"/><ellipse cx="470" cy="568" rx="18" ry="18" fill="#b9b9b9"/><path d="M-20.0,520.0C-1.7,517.5 165.0,553.3 200.0,560.0C235.0,566.7 363.3,591.7 400.0,600.0C436.7,608.3 610.0,650.0 640.0,660.0C670.0,670.0 738.3,708.3 760.0,720.0C781.7,731.7 883.3,788.3 900.0,800.0C916.7,811.7 963.3,855.0 960.0,860.0C956.7,865.0 881.7,867.5 860.0,860.0C838.3,852.5 730.0,782.5 700.0,770.0C670.0,757.5 533.3,719.2 500.0,710.0C466.7,700.8 343.3,670.0 300.0,660.0C256.7,650.0 6.7,601.7 -20.0,590.0C-46.7,578.3 -38.3,522.5 -20.0,520.0Z" fill="#a8a8a8"/><path d="M-20.0,575.0C6.7,575.4 256.7,634.6 300.0,645.0C343.3,655.4 466.7,690.0 500.0,700.0C533.3,710.0 670.0,751.7 700.0,765.0C730.0,778.3 868.3,852.1 860.0,860.0C851.7,867.9 646.7,871.7 600.0,860.0C553.3,848.3 351.7,738.3 300.0,720.0C248.3,701.7 6.7,652.1 -20.0,640.0C-46.7,627.9 -46.7,574.6 -20.0,575.0Z" fill="#d6d6d6"/><path d="M-20.0,640.0C6.7,627.5 248.3,701.7 300.0,720.0C351.7,738.3 626.7,847.5 600.0,860.0C573.3,872.5 31.7,888.3 -20.0,870.0C-71.7,851.7 -46.7,652.5 -20.0,640.0Z" fill="#f4f4f4"/><path d="M20.0,700.0C66.7,701.7 220.0,745.0 300.0,770.0C380.0,795.0 500.0,836.7 500.0,850.0C500.0,863.3 380.0,865.0 300.0,850.0C220.0,835.0 66.7,785.0 20.0,760.0C-26.7,735.0 -26.7,698.3 20.0,700.0Z" fill="#dddddd" filter="url(#b8)"/><path d="M10.0,775.0C16.7,766.7 38.3,805.5 60.0,820.0C81.7,834.5 146.7,853.7 140.0,862.0C133.3,870.3 41.7,884.5 20.0,870.0C-1.7,855.5 3.3,783.3 10.0,775.0Z" fill="#444"/><path d="M22.0,800.0C28.0,795.0 47.0,822.3 60.0,832.0C73.0,841.7 106.0,853.0 100.0,858.0C94.0,863.0 37.0,871.7 24.0,862.0C11.0,852.3 16.0,805.0 22.0,800.0Z" fill="#f0f0f0"/><path d="M600.0,300.0C604.5,294.2 677.3,288.2 694.0,290.0C710.7,291.8 787.0,312.8 800.0,322.0C813.0,331.2 838.8,379.2 850.0,400.0C861.2,420.8 916.2,533.7 935.0,572.0C953.8,610.3 1072.9,836.0 1075.0,860.0C1077.1,884.0 974.6,865.0 960.0,860.0C945.4,855.0 913.3,818.3 900.0,800.0C886.7,781.7 816.7,666.7 800.0,640.0C783.3,613.3 713.3,503.3 700.0,480.0C686.7,456.7 648.3,375.0 640.0,360.0C631.7,345.0 595.5,305.8 600.0,300.0Z" fill="#f1f1f1"/><path d="M640.0,380.0C655.0,388.3 690.0,426.7 720.0,470.0C750.0,513.3 790.0,586.7 820.0,640.0C850.0,693.3 890.0,763.3 900.0,790.0C910.0,816.7 900.0,823.3 880.0,800.0C860.0,776.7 811.7,700.0 780.0,650.0C748.3,600.0 715.0,538.3 690.0,500.0C665.0,461.7 638.3,440.0 630.0,420.0C621.7,400.0 625.0,371.7 640.0,380.0Z" fill="#d6d6d6" filter="url(#b8)"/><path d="M760.0,345.0C764.0,336.0 792.9,318.7 800.0,322.0C807.1,325.3 833.8,364.2 845.0,385.0C856.2,405.8 928.3,548.7 935.0,572.0C941.7,595.3 932.1,662.7 925.0,665.0C917.9,667.3 861.2,613.8 850.0,600.0C838.8,586.2 798.2,514.2 790.0,500.0C781.8,485.8 754.5,442.9 752.0,430.0C749.5,417.1 756.0,354.0 760.0,345.0Z" fill="#878787"/><path d="M790.0,380.0C797.5,376.7 815.0,393.3 830.0,420.0C845.0,446.7 873.3,510.0 880.0,540.0C886.7,570.0 880.0,603.3 870.0,600.0C860.0,596.7 834.2,546.7 820.0,520.0C805.8,493.3 790.0,463.3 785.0,440.0C780.0,416.7 782.5,383.3 790.0,380.0Z" fill="#747474" filter="url(#b4)"/><path d="M665.0,320.0L700.0,310.0L705.0,370.0L675.0,380.0Z" fill="#9a9a9a" filter="url(#b2)"/><path d="M950.0,700.0C945.8,680.0 970.0,673.3 985.0,690.0C1000.0,706.7 1035.8,780.0 1040.0,800.0C1044.2,820.0 1025.0,826.7 1010.0,810.0C995.0,793.3 954.2,720.0 950.0,700.0Z" fill="#555" filter="url(#b2)"/><path d="M800.0,322.0C804.2,328.5 838.8,379.2 850.0,400.0C861.2,420.8 916.2,533.7 935.0,572.0C953.8,610.3 1063.3,836.0 1075.0,860.0" fill="none" stroke="#555" stroke-width="8" stroke-linejoin="round" stroke-linecap="round"/><path d="M473.0,197.0L435.0,173.0" fill="none" stroke="#b4b4b4" stroke-width="15" stroke-linejoin="round" stroke-linecap="round"/><path d="M417.0,161.0L363.0,128.0" fill="none" stroke="#b4b4b4" stroke-width="15" stroke-linejoin="round" stroke-linecap="round"/><path d="M491.0,179.0L467.0,141.0" fill="none" stroke="#b4b4b4" stroke-width="15" stroke-linejoin="round" stroke-linecap="round"/><path d="M455.0,123.0L422.0,69.0" fill="none" stroke="#b4b4b4" stroke-width="15" stroke-linejoin="round" stroke-linecap="round"/><path d="M512.0,172.0L506.0,127.0" fill="none" stroke="#b4b4b4" stroke-width="15" stroke-linejoin="round" stroke-linecap="round"/><path d="M503.0,105.0L494.0,43.0" fill="none" stroke="#b4b4b4" stroke-width="15" stroke-linejoin="round" stroke-linecap="round"/><path d="M520.0,171.0L520.0,126.0" fill="none" stroke="#b4b4b4" stroke-width="15" stroke-linejoin="round" stroke-linecap="round"/><path d="M520.0,104.0L520.0,41.0" fill="none" stroke="#b4b4b4" stroke-width="15" stroke-linejoin="round" stroke-linecap="round"/><path d="M535.0,173.0L548.0,130.0" fill="none" stroke="#b4b4b4" stroke-width="15" stroke-linejoin="round" stroke-linecap="round"/><path d="M554.0,109.0L571.0,48.0" fill="none" stroke="#b4b4b4" stroke-width="15" stroke-linejoin="round" stroke-linecap="round"/><path d="M555.0,184.0L584.0,149.0" fill="none" stroke="#b4b4b4" stroke-width="15" stroke-linejoin="round" stroke-linecap="round"/><path d="M598.0,133.0L639.0,84.0" fill="none" stroke="#b4b4b4" stroke-width="15" stroke-linejoin="round" stroke-linecap="round"/><path d="M569.0,200.0L608.0,179.0" fill="none" stroke="#b4b4b4" stroke-width="15" stroke-linejoin="round" stroke-linecap="round"/><path d="M628.0,169.0L683.0,139.0" fill="none" stroke="#b4b4b4" stroke-width="15" stroke-linejoin="round" stroke-linecap="round"/><path d="M573.0,212.0L617.0,200.0" fill="none" stroke="#b4b4b4" stroke-width="15" stroke-linejoin="round" stroke-linecap="round"/><path d="M638.0,194.0L699.0,178.0" fill="none" stroke="#b4b4b4" stroke-width="15" stroke-linejoin="round" stroke-linecap="round"/><path d="M522.0,236.0L420.0,430.0" fill="none" stroke="#fff" stroke-width="7" stroke-linejoin="round" stroke-linecap="round" opacity="0.8"/><path d="M522.0,236.0L460.0,455.0" fill="none" stroke="#fff" stroke-width="7" stroke-linejoin="round" stroke-linecap="round" opacity="0.8"/><path d="M522.0,236.0L510.0,450.0" fill="none" stroke="#fff" stroke-width="7" stroke-linejoin="round" stroke-linecap="round" opacity="0.8"/><path d="M522.0,236.0L560.0,410.0" fill="none" stroke="#fff" stroke-width="7" stroke-linejoin="round" stroke-linecap="round" opacity="0.8"/><path d="M522.0,236.0L600.0,370.0" fill="none" stroke="#fff" stroke-width="7" stroke-linejoin="round" stroke-linecap="round" opacity="0.8"/><ellipse cx="524" cy="228" rx="60" ry="16" fill="#fff" opacity="0.7" filter="url(#b4)"/><path d="M784.5,66.0L926.5,66.0L870.5,152.0L926.5,240.0L784.5,240.0L840.5,152.0Z" fill="#efefef" stroke="#5c5c5c" stroke-width="6" stroke-linejoin="round" stroke-linecap="round"/><path d="M834.5,120.0L876.5,120.0L855.5,150.0Z" fill="#b5b5b5"/><path d="M814.5,225.0L896.5,225.0L855.5,185.0Z" fill="#d8d8d8"/><path d="M974.5,66.0L1014.5,136.0L990.5,136.0L990.5,238.0L958.5,238.0L958.5,136.0L934.5,136.0Z" fill="#b4b4b4" stroke="#5c5c5c" stroke-width="8" stroke-linejoin="round" stroke-linecap="round"/><rect x="1034.5" y="66" width="22" height="150" rx="11" fill="#ededed" stroke="#5c5c5c" stroke-width="5"/><ellipse cx="1045.5" cy="218" rx="22" ry="22" fill="#b4b4b4" stroke="#5c5c5c" stroke-width="8" stroke-linejoin="round" stroke-linecap="round"/></g></g><rect x="154" y="707.6" width="134.6" height="104.6" rx="5" fill="none" stroke="#707173" stroke-width="1.1"/>
<!-- p_53_p33 -->
<g clip-path="url(#cp32)"><g transform="translate(296,706) scale(0.12308)" ><path d="M-20.0,385.0C-10.0,343.2 81.7,369.1 100.0,368.0C118.3,366.9 175.0,366.0 200.0,372.0C225.0,378.0 370.7,433.9 400.0,440.0C429.3,446.1 535.8,438.3 552.0,445.0C568.2,451.7 586.8,511.7 595.0,520.0C603.2,528.3 641.2,543.8 650.0,545.0C658.8,546.2 692.9,530.4 700.0,535.0C707.1,539.6 727.5,583.8 735.0,600.0C742.5,616.2 780.4,707.5 790.0,730.0C799.6,752.5 917.5,858.3 850.0,870.0C782.5,881.7 52.5,910.4 -20.0,870.0C-92.5,829.6 -30.0,426.8 -20.0,385.0Z" fill="#f2f2f2" stroke="#8c8c8c" stroke-width="7" stroke-linejoin="round" stroke-linecap="round"/><path d="M10.0,180.0L40.0,230.0L85.0,365.0L20.0,385.0Z" fill="#5c5c5c"/><path d="M14.0,215.0L58.0,235.0" fill="none" stroke="#b0b0b0" stroke-width="7" stroke-linejoin="round" stroke-linecap="round"/><path d="M14.0,241.0L62.0,259.0" fill="none" stroke="#b0b0b0" stroke-width="7" stroke-linejoin="round" stroke-linecap="round"/><path d="M14.0,267.0L66.0,283.0" fill="none" stroke="#b0b0b0" stroke-width="7" stroke-linejoin="round" stroke-linecap="round"/><path d="M14.0,293.0L70.0,307.0" fill="none" stroke="#b0b0b0" stroke-width="7" stroke-linejoin="round" stroke-linecap="round"/><path d="M14.0,319.0L74.0,331.0" fill="none" stroke="#b0b0b0" stroke-width="7" stroke-linejoin="round" stroke-linecap="round"/><path d="M14.0,345.0L78.0,355.0" fill="none" stroke="#b0b0b0" stroke-width="7" stroke-linejoin="round" stroke-linecap="round"/><path d="M-20.0,380.0C-10.0,372.5 81.7,365.8 100.0,365.0C118.3,364.2 175.0,363.9 200.0,370.0C225.0,376.1 370.7,431.8 400.0,438.0C429.3,444.2 536.2,438.2 552.0,445.0C567.8,451.8 589.3,510.4 590.0,520.0C590.7,529.6 571.7,558.8 560.0,560.0C548.3,561.2 471.7,541.5 450.0,535.0C428.3,528.5 325.0,488.9 300.0,482.0C275.0,475.1 176.7,454.2 150.0,452.0C123.3,449.8 -5.8,461.0 -20.0,455.0C-34.2,449.0 -30.0,387.5 -20.0,380.0Z" fill="#9e9e9e"/><path d="M20.0,405.0C41.7,400.0 103.3,394.8 150.0,400.0C196.7,405.2 275.0,426.3 300.0,436.0C325.0,445.7 325.0,459.3 300.0,458.0C275.0,456.7 196.7,432.7 150.0,428.0C103.3,423.3 41.7,433.8 20.0,430.0C-1.7,426.2 -1.7,410.0 20.0,405.0Z" fill="#c6c6c6" filter="url(#b4)"/><path d="M430.0,452.0C441.7,442.3 515.0,448.3 540.0,458.0C565.0,467.7 576.7,496.3 580.0,510.0C583.3,523.7 578.3,539.0 560.0,540.0C541.7,541.0 491.7,530.7 470.0,516.0C448.3,501.3 418.3,461.7 430.0,452.0Z" fill="#8a8a8a" filter="url(#b4)"/><path d="M-20.0,455.0C-5.8,441.0 123.3,449.8 150.0,452.0C176.7,454.2 275.0,475.1 300.0,482.0C325.0,488.9 428.3,528.5 450.0,535.0C471.7,541.5 547.5,551.2 560.0,560.0C572.5,568.8 603.3,633.3 600.0,640.0C596.7,646.7 536.7,644.2 520.0,640.0C503.3,635.8 418.3,596.7 400.0,590.0C381.7,583.3 319.2,565.8 300.0,560.0C280.8,554.2 186.7,520.8 170.0,520.0C153.3,519.2 115.8,541.7 100.0,550.0C84.2,558.3 -10.0,627.9 -20.0,620.0C-30.0,612.1 -34.2,469.0 -20.0,455.0Z" fill="#f3f3f3"/><path d="M-20.0,620.0C-10.0,593.3 84.2,558.3 100.0,550.0C115.8,541.7 153.3,518.3 170.0,520.0C186.7,521.7 276.7,560.0 300.0,570.0C323.3,580.0 430.0,629.2 450.0,640.0C470.0,650.8 527.5,686.7 540.0,700.0C552.5,713.3 593.3,785.8 600.0,800.0C606.7,814.2 671.7,864.2 620.0,870.0C568.3,875.8 33.3,890.8 -20.0,870.0C-73.3,849.2 -30.0,646.7 -20.0,620.0Z" fill="#767676"/><path d="M20.0,640.0C33.3,618.3 75.0,596.7 100.0,590.0C125.0,583.3 158.3,578.3 170.0,600.0C181.7,621.7 195.0,700.0 170.0,720.0C145.0,740.0 45.0,733.3 20.0,720.0C-5.0,706.7 6.7,661.7 20.0,640.0Z" fill="#626262" opacity="0.7" filter="url(#b8)"/><path d="M-20.0,725.0C-5.8,716.7 119.2,761.2 150.0,770.0C180.8,778.8 320.8,821.7 350.0,830.0C379.2,838.3 530.8,866.7 500.0,870.0C469.2,873.3 23.3,882.1 -20.0,870.0C-63.3,857.9 -34.2,733.3 -20.0,725.0Z" fill="#9c9c9c"/><path d="M-20.0,770.0C-5.8,765.0 123.3,801.7 150.0,810.0C176.7,818.3 314.2,865.0 300.0,870.0C285.8,875.0 6.7,878.3 -20.0,870.0C-46.7,861.7 -34.2,775.0 -20.0,770.0Z" fill="#d9d9d9"/><path d="M165.0,518.0C168.3,514.2 210.8,523.3 240.0,532.0C269.2,540.7 308.3,555.3 340.0,570.0C371.7,584.7 410.8,606.7 430.0,620.0C449.2,633.3 463.3,649.2 455.0,650.0C446.7,650.8 405.8,635.0 380.0,625.0C354.2,615.0 326.7,601.7 300.0,590.0C273.3,578.3 242.5,567.0 220.0,555.0C197.5,543.0 161.7,521.8 165.0,518.0Z" fill="#fdfdfd" stroke="#555" stroke-width="5" stroke-linejoin="round" stroke-linecap="round"/><ellipse cx="312" cy="662" rx="132" ry="76" transform="rotate(8 312 662)" fill="#e6e6e6"/><ellipse cx="320" cy="640" rx="92" ry="42" transform="rotate(5 320 640)" fill="#8a8a8a"/><ellipse cx="326" cy="634" rx="56" ry="24" transform="rotate(5 326 634)" fill="#a6a6a6" filter="url(#b4)"/><ellipse cx="402" cy="742" rx="36" ry="34" fill="#ececec" stroke="#aaa" stroke-width="5" stroke-linejoin="round" stroke-linecap="round"/><ellipse cx="402" cy="744" rx="17" ry="17" fill="#b9b9b9"/><path d="M560.0,560.0C560.0,550.8 592.5,531.2 600.0,530.0C607.5,528.8 641.7,544.6 650.0,545.0C658.3,545.4 692.9,530.4 700.0,535.0C707.1,539.6 727.5,583.8 735.0,600.0C742.5,616.2 780.4,707.5 790.0,730.0C799.6,752.5 864.2,858.3 850.0,870.0C835.8,881.7 640.8,875.8 620.0,870.0C599.2,864.2 601.7,819.2 600.0,800.0C598.3,780.8 603.3,660.0 600.0,640.0C596.7,620.0 560.0,569.2 560.0,560.0Z" fill="#f1f1f1"/><path d="M600.0,600.0C610.0,610.0 633.3,656.7 650.0,700.0C666.7,743.3 696.7,833.3 700.0,860.0C703.3,886.7 683.3,883.3 670.0,860.0C656.7,836.7 633.3,756.7 620.0,720.0C606.7,683.3 593.3,660.0 590.0,640.0C586.7,620.0 590.0,590.0 600.0,600.0Z" fill="#d6d6d6" filter="url(#b8)"/><path d="M650.0,548.0C654.3,540.9 692.9,530.7 700.0,535.0C707.1,539.3 725.7,579.6 735.0,600.0C744.3,620.4 807.0,759.8 812.0,780.0C817.0,800.2 800.6,841.2 795.0,842.0C789.4,842.8 752.9,801.8 745.0,790.0C737.1,778.2 708.1,714.2 700.0,700.0C691.9,685.8 652.2,632.7 648.0,620.0C643.8,607.3 645.7,555.1 650.0,548.0Z" fill="#878787"/><path d="M676.0,580.0C683.2,576.7 699.3,590.0 715.0,620.0C730.7,650.0 762.5,730.0 770.0,760.0C777.5,790.0 770.0,806.7 760.0,800.0C750.0,793.3 724.7,746.7 710.0,720.0C695.3,693.3 677.7,663.3 672.0,640.0C666.3,616.7 668.8,583.3 676.0,580.0Z" fill="#747474" filter="url(#b4)"/><path d="M575.0,540.0L600.0,535.0L604.0,580.0L580.0,585.0Z" fill="#8a8a8a" filter="url(#b2)"/><path d="M700.0,535.0C702.9,540.4 727.5,583.8 735.0,600.0C742.5,616.2 780.4,707.5 790.0,730.0C799.6,752.5 845.0,858.3 850.0,870.0" fill="none" stroke="#555" stroke-width="8" stroke-linejoin="round" stroke-linecap="round"/><path d="M730.0,0.0L730.0,200.0" fill="none" stroke="#d8d8d8" stroke-width="8" stroke-linejoin="round" stroke-linecap="round" opacity="0.9"/><path d="M420.0,70.0L780.0,200.0" fill="none" stroke="#d8d8d8" stroke-width="8" stroke-linejoin="round" stroke-linecap="round" opacity="0.9"/><path d="M330.0,222.0L760.0,226.0" fill="none" stroke="#d8d8d8" stroke-width="8" stroke-linejoin="round" stroke-linecap="round" opacity="0.9"/><path d="M470.0,360.0L700.0,270.0" fill="none" stroke="#d8d8d8" stroke-width="8" stroke-linejoin="round" stroke-linecap="round" opacity="0.9"/><path d="M600.0,140.0L1140.0,235.0" fill="none" stroke="#d8d8d8" stroke-width="8" stroke-linejoin="round" stroke-linecap="round" opacity="0.9"/><path d="M880.0,150.0L1090.0,60.0" fill="none" stroke="#d8d8d8" stroke-width="8" stroke-linejoin="round" stroke-linecap="round" opacity="0.9"/><path d="M10.0,20.0C27.9,15.8 214.0,12.5 235.0,20.0C256.0,27.5 257.2,96.2 262.0,110.0C266.8,123.8 284.7,170.8 292.0,185.0C299.3,199.2 337.7,266.2 350.0,280.0C362.3,293.8 430.2,339.6 440.0,350.0C449.8,360.4 469.7,398.2 468.0,405.0C466.3,411.8 427.2,432.0 420.0,432.0C412.8,432.0 385.5,401.8 382.0,405.0C378.5,408.2 378.8,458.8 378.0,470.0C377.2,481.2 375.0,531.5 372.0,540.0C369.0,548.5 347.0,571.6 342.0,572.0C337.0,572.4 315.3,553.5 312.0,545.0C308.7,536.5 303.2,480.4 302.0,470.0C300.8,459.6 306.5,428.2 298.0,420.0C289.5,411.8 210.7,380.3 200.0,372.0C189.3,363.7 178.3,334.3 170.0,320.0C161.7,305.7 112.5,220.8 100.0,200.0C87.5,179.2 27.5,85.0 20.0,70.0C12.5,55.0 -7.9,24.2 10.0,20.0Z" fill="#e9e9e9" stroke="#8a8a8a" stroke-width="7.5" stroke-linejoin="round" stroke-linecap="round"/><path d="M60.0,60.0C68.3,28.3 168.3,36.7 200.0,60.0C231.7,83.3 230.0,156.7 250.0,200.0C270.0,243.3 311.7,286.7 320.0,320.0C328.3,353.3 316.7,395.0 300.0,400.0C283.3,405.0 245.0,375.0 220.0,350.0C195.0,325.0 176.7,298.3 150.0,250.0C123.3,201.7 51.7,91.7 60.0,60.0Z" fill="#f6f6f6" filter="url(#b8)"/><path d="M382.0,405.0C384.3,397.5 396.3,372.5 396.0,360.0C395.7,347.5 382.7,335.0 380.0,330.0" fill="none" stroke="#aaa" stroke-width="5" stroke-linejoin="round" stroke-linecap="round"/><path d="M312.0,545.0C315.0,547.5 323.3,560.0 330.0,560.0C336.7,560.0 348.3,547.5 352.0,545.0" fill="none" stroke="#bbb" stroke-width="5" stroke-linejoin="round" stroke-linecap="round"/><path d="M350.0,575.0C351.7,568.7 371.7,559.5 380.0,562.0C388.3,564.5 401.7,583.7 400.0,590.0C398.3,596.3 378.3,602.5 370.0,600.0C361.7,597.5 348.3,581.3 350.0,575.0Z" fill="#f4f4f4" stroke="#aaa" stroke-width="2" stroke-linejoin="round" stroke-linecap="round"/><path d="M390.0,600.0C392.5,593.0 411.7,585.8 420.0,590.0C428.3,594.2 442.5,618.0 440.0,625.0C437.5,632.0 413.3,636.2 405.0,632.0C396.7,627.8 387.5,607.0 390.0,600.0Z" fill="#f4f4f4" stroke="#aaa" stroke-width="2" stroke-linejoin="round" stroke-linecap="round"/><clipPath id="cpIns"><rect x="597.5" y="85" width="455.0" height="410" rx="52"/></clipPath><g clip-path="url(#cpIns)"><rect x="597.5" y="85" width="455.0" height="410" fill="#fbfbfb"/><path d="M730.5,60.0L730.5,200.0" fill="none" stroke="#dcdcdc" stroke-width="12" stroke-linejoin="round" stroke-linecap="round"/><path d="M982.5,95.0L802.5,190.0" fill="none" stroke="#dcdcdc" stroke-width="12" stroke-linejoin="round" stroke-linecap="round"/><path d="M612.5,140.0L782.5,200.0" fill="none" stroke="#dcdcdc" stroke-width="12" stroke-linejoin="round" stroke-linecap="round"/><path d="M582.5,145.0C591.7,137.1 674.2,170.0 692.5,175.0C710.8,180.0 790.0,204.6 802.5,205.0C815.0,205.4 830.0,180.6 842.5,180.0C855.0,179.4 934.2,194.8 952.5,198.0C970.8,201.2 1053.3,207.0 1062.5,218.0C1071.7,229.0 1071.7,323.2 1062.5,330.0C1053.3,336.8 974.2,305.8 952.5,300.0C930.8,294.2 824.2,260.8 802.5,260.0C780.8,259.2 710.8,289.2 692.5,290.0C674.2,290.8 591.7,282.1 582.5,270.0C573.3,257.9 573.3,152.9 582.5,145.0Z" fill="#b4b4b4"/><path d="M832.5,190.0C840.8,185.4 934.2,202.1 952.5,205.0C970.8,207.9 1044.2,217.1 1052.5,225.0C1060.8,232.9 1059.2,291.2 1052.5,300.0C1045.8,308.8 989.2,333.3 972.5,330.0C955.8,326.7 864.2,271.7 852.5,260.0C840.8,248.3 824.2,194.6 832.5,190.0Z" fill="#d4d4d4"/><path d="M842.5,210.0C864.2,209.7 950.8,223.3 972.5,230.0C994.2,236.7 994.2,249.7 972.5,250.0C950.8,250.3 864.2,238.7 842.5,232.0C820.8,225.3 820.8,210.3 842.5,210.0Z" fill="#9a9a9a" filter="url(#b2)"/><path d="M682.5,250.0C700.0,238.3 780.0,209.2 802.5,205.0C825.0,200.8 835.0,213.3 817.5,225.0C800.0,236.7 720.0,270.8 697.5,275.0C675.0,279.2 665.0,261.7 682.5,250.0Z" fill="#6e6e6e"/><path d="M582.5,160.0C597.5,143.3 654.2,165.0 672.5,180.0C690.8,195.0 707.5,233.3 692.5,250.0C677.5,266.7 600.8,295.0 582.5,280.0C564.2,265.0 567.5,176.7 582.5,160.0Z" fill="#9a9a9a" filter="url(#b4)"/><path d="M582.5,270.0C591.7,251.7 674.2,284.2 692.5,290.0C710.8,295.8 785.8,329.2 802.5,340.0C819.2,350.8 880.0,405.8 892.5,420.0C905.0,434.2 978.3,502.5 952.5,510.0C926.7,517.5 613.3,530.0 582.5,510.0C551.7,490.0 573.3,288.3 582.5,270.0Z" fill="#f3f3f3"/><path d="M752.5,285.0C755.0,280.8 835.8,295.4 852.5,300.0C869.2,304.6 935.0,337.5 952.5,340.0C970.0,342.5 1053.3,315.8 1062.5,330.0C1071.7,344.2 1071.7,495.0 1062.5,510.0C1053.3,525.0 966.7,517.5 952.5,510.0C938.3,502.5 903.3,433.3 892.5,420.0C881.7,406.7 834.2,361.2 822.5,350.0C810.8,338.8 750.0,289.2 752.5,285.0Z" fill="#a2a2a2"/><path d="M772.5,300.0C787.5,302.5 845.8,326.7 882.5,350.0C919.2,373.3 967.5,415.0 992.5,440.0C1017.5,465.0 1035.8,489.2 1032.5,500.0C1029.2,510.8 997.5,520.0 972.5,505.0C947.5,490.0 912.5,438.3 882.5,410.0C852.5,381.7 810.8,353.3 792.5,335.0C774.2,316.7 757.5,297.5 772.5,300.0Z" fill="#777" filter="url(#b4)"/><path d="M972.5,260.0C982.5,250.0 1038.3,233.3 1052.5,260.0C1066.7,286.7 1064.2,396.7 1057.5,420.0C1050.8,443.3 1023.3,416.7 1012.5,400.0C1001.7,383.3 999.2,343.3 992.5,320.0C985.8,296.7 962.5,270.0 972.5,260.0Z" fill="#e0e0e0" filter="url(#b4)"/><path d="M1012.5,350.0C1018.3,336.7 1050.0,326.7 1057.5,340.0C1065.0,353.3 1063.3,416.7 1057.5,430.0C1051.7,443.3 1030.0,433.3 1022.5,420.0C1015.0,406.7 1006.7,363.3 1012.5,350.0Z" fill="#6a6a6a" filter="url(#b4)"/><path d="M592.5,370.0C607.5,373.3 652.5,378.3 682.5,390.0C712.5,401.7 748.3,421.7 772.5,440.0C796.7,458.3 818.3,490.0 827.5,500.0" fill="none" stroke="#555" stroke-width="7" stroke-linejoin="round" stroke-linecap="round"/><path d="M592.5,450.0C605.8,441.7 645.8,442.5 672.5,450.0C699.2,457.5 765.8,486.7 752.5,495.0C739.2,503.3 619.2,507.5 592.5,500.0C565.8,492.5 579.2,458.3 592.5,450.0Z" fill="#8a8a8a"/><path d="M582.5,145.0C591.7,147.5 674.2,170.0 692.5,175.0C710.8,180.0 790.0,204.6 802.5,205.0C815.0,205.4 830.0,180.6 842.5,180.0C855.0,179.4 934.2,194.8 952.5,198.0C970.8,201.2 1053.3,216.3 1062.5,218.0" fill="none" stroke="#555" stroke-width="7" stroke-linejoin="round" stroke-linecap="round"/></g><rect x="597.5" y="85" width="455.0" height="410" rx="52" fill="none" stroke="#777" stroke-width="5"/></g></g><rect x="297.6" y="707.6" width="133.8" height="104.6" rx="5" fill="none" stroke="#707173" stroke-width="1.1"/>
<!-- p_54_p34 -->
<g clip-path="url(#cp33)"><g transform="translate(440,706) scale(0.12308)" ><path d="M100.0,212.0C105.8,216.7 124.2,230.7 135.0,240.0C145.8,249.3 160.0,263.3 165.0,268.0" fill="none" stroke="#8a8a8a" stroke-width="30" stroke-linejoin="round" stroke-linecap="round"/><path d="M160.0,262.0C165.8,268.3 182.5,279.5 195.0,300.0C207.5,320.5 223.8,362.3 235.0,385.0C246.2,407.7 257.5,427.5 262.0,436.0" fill="none" stroke="#5e5e5e" stroke-width="44" stroke-linejoin="round" stroke-linecap="round"/><path d="M170.0,296.0L216.0,280.0" fill="none" stroke="#c4c4c4" stroke-width="8" stroke-linejoin="round" stroke-linecap="round"/><path d="M182.0,320.0L228.0,304.0" fill="none" stroke="#c4c4c4" stroke-width="8" stroke-linejoin="round" stroke-linecap="round"/><path d="M194.0,344.0L240.0,328.0" fill="none" stroke="#c4c4c4" stroke-width="8" stroke-linejoin="round" stroke-linecap="round"/><path d="M206.0,368.0L252.0,352.0" fill="none" stroke="#c4c4c4" stroke-width="8" stroke-linejoin="round" stroke-linecap="round"/><path d="M218.0,392.0L264.0,376.0" fill="none" stroke="#c4c4c4" stroke-width="8" stroke-linejoin="round" stroke-linecap="round"/><path d="M230.0,416.0L276.0,400.0" fill="none" stroke="#c4c4c4" stroke-width="8" stroke-linejoin="round" stroke-linecap="round"/><path d="M190.0,440.0L275.0,418.0L290.0,448.0L205.0,476.0Z" fill="#8a8a8a"/><path d="M10.0,870.0C-70.4,857.5 31.7,742.5 40.0,720.0C48.3,697.5 101.7,618.3 110.0,600.0C118.3,581.7 132.5,513.2 140.0,500.0C147.5,486.8 188.3,448.2 200.0,442.0C211.7,435.8 263.3,425.3 280.0,426.0C296.7,426.7 374.6,444.7 400.0,450.0C425.4,455.3 565.0,486.0 585.0,490.0C605.0,494.0 622.9,496.2 640.0,498.0C657.1,499.8 777.0,505.8 790.0,512.0C803.0,518.2 788.1,564.7 796.0,572.0C803.9,579.3 874.2,590.8 885.0,600.0C895.8,609.2 915.0,659.5 925.0,682.0C935.0,704.5 1081.2,854.3 1005.0,870.0C928.8,885.7 90.4,882.5 10.0,870.0Z" fill="#f2f2f2" stroke="#8c8c8c" stroke-width="7" stroke-linejoin="round" stroke-linecap="round"/><path d="M185.0,462.0C192.1,456.3 262.1,440.3 280.0,440.0C297.9,439.7 374.6,453.3 400.0,458.0C425.4,462.7 565.0,492.1 585.0,496.0C605.0,499.9 623.8,503.0 640.0,505.0C656.2,507.0 767.5,513.8 780.0,520.0C792.5,526.2 796.7,574.6 790.0,580.0C783.3,585.4 717.1,586.7 700.0,585.0C682.9,583.3 610.0,565.8 585.0,560.0C560.0,554.2 427.1,520.0 400.0,515.0C372.9,510.0 277.1,500.6 260.0,500.0C242.9,499.4 201.2,511.2 195.0,508.0C188.8,504.8 177.9,467.7 185.0,462.0Z" fill="#9c9c9c"/><path d="M220.0,462.0C250.0,461.0 350.0,468.8 400.0,476.0C450.0,483.2 500.8,496.8 520.0,505.0C539.2,513.2 535.0,526.2 515.0,525.0C495.0,523.8 449.2,505.2 400.0,498.0C350.8,490.8 250.0,488.0 220.0,482.0C190.0,476.0 190.0,463.0 220.0,462.0Z" fill="#d0d0d0" filter="url(#b4)"/><path d="M560.0,510.0C579.2,505.8 663.3,515.8 700.0,520.0C736.7,524.2 766.7,526.3 780.0,535.0C793.3,543.7 793.3,566.2 780.0,572.0C766.7,577.8 732.5,574.5 700.0,570.0C667.5,565.5 608.3,555.0 585.0,545.0C561.7,535.0 540.8,514.2 560.0,510.0Z" fill="#7a7a7a" filter="url(#b4)"/><path d="M60.0,740.0C75.0,700.0 101.7,653.3 120.0,620.0C138.3,586.7 156.7,543.3 170.0,540.0C183.3,536.7 203.3,570.0 200.0,600.0C196.7,630.0 168.3,676.7 150.0,720.0C131.7,763.3 110.0,836.7 90.0,860.0C70.0,883.3 35.0,880.0 30.0,860.0C25.0,840.0 45.0,780.0 60.0,740.0Z" fill="#e2e2e2" filter="url(#b8)"/><path d="M80.0,870.0C30.8,857.7 155.0,741.2 170.0,722.0C185.0,702.8 245.0,651.2 260.0,640.0C275.0,628.8 334.2,588.0 350.0,588.0C365.8,588.0 430.4,631.5 450.0,640.0C469.6,648.5 562.5,680.0 585.0,690.0C607.5,700.0 705.4,745.0 720.0,760.0C734.6,775.0 813.3,860.8 760.0,870.0C706.7,879.2 129.2,882.3 80.0,870.0Z" fill="#767676"/><path d="M140.0,800.0C143.3,773.3 193.3,725.0 220.0,700.0C246.7,675.0 283.3,640.0 300.0,650.0C316.7,660.0 336.7,725.0 320.0,760.0C303.3,795.0 230.0,853.3 200.0,860.0C170.0,866.7 136.7,826.7 140.0,800.0Z" fill="#656565" opacity="0.7" filter="url(#b8)"/><path d="M365.0,585.0C368.3,581.7 410.8,588.3 440.0,595.0C469.2,601.7 506.7,612.5 540.0,625.0C573.3,637.5 615.0,654.2 640.0,670.0C665.0,685.8 696.7,716.7 690.0,720.0C683.3,723.3 631.7,701.7 600.0,690.0C568.3,678.3 530.0,662.5 500.0,650.0C470.0,637.5 442.5,625.8 420.0,615.0C397.5,604.2 361.7,588.3 365.0,585.0Z" fill="#fdfdfd" stroke="#555" stroke-width="5" stroke-linejoin="round" stroke-linecap="round"/><ellipse cx="505" cy="735" rx="135" ry="78" transform="rotate(8 505 735)" fill="#e6e6e6"/><ellipse cx="512" cy="712" rx="92" ry="44" transform="rotate(5 512 712)" fill="#8a8a8a"/><ellipse cx="518" cy="706" rx="56" ry="25" transform="rotate(5 518 706)" fill="#a6a6a6" filter="url(#b4)"/><ellipse cx="585" cy="820" rx="36" ry="34" fill="#ececec" stroke="#aaa" stroke-width="5" stroke-linejoin="round" stroke-linecap="round"/><ellipse cx="585" cy="822" rx="17" ry="17" fill="#b9b9b9"/><path d="M690.0,600.0C697.5,593.3 773.8,580.0 790.0,580.0C806.2,580.0 873.8,591.5 885.0,600.0C896.2,608.5 915.0,659.5 925.0,682.0C935.0,704.5 1018.8,854.3 1005.0,870.0C991.2,885.7 782.1,879.2 760.0,870.0C737.9,860.8 745.0,777.5 740.0,760.0C735.0,742.5 704.2,673.3 700.0,660.0C695.8,646.7 682.5,606.7 690.0,600.0Z" fill="#f1f1f1"/><path d="M700.0,640.0C711.7,646.7 740.0,683.3 760.0,720.0C780.0,756.7 816.7,836.7 820.0,860.0C823.3,883.3 795.0,880.0 780.0,860.0C765.0,840.0 745.0,770.0 730.0,740.0C715.0,710.0 695.0,696.7 690.0,680.0C685.0,663.3 688.3,633.3 700.0,640.0Z" fill="#d6d6d6" filter="url(#b8)"/><path d="M842.0,622.0C846.6,615.3 878.1,595.0 885.0,600.0C891.9,605.0 915.0,659.5 925.0,682.0C935.0,704.5 1010.4,854.3 1005.0,870.0C999.6,885.7 874.2,879.2 860.0,870.0C845.8,860.8 837.5,775.8 835.0,760.0C832.5,744.2 829.4,691.5 830.0,680.0C830.6,668.5 837.4,628.7 842.0,622.0Z" fill="#7e7e7e"/><path d="M860.0,660.0C865.0,650.0 883.3,666.7 900.0,700.0C916.7,733.3 960.0,833.3 960.0,860.0C960.0,886.7 915.0,876.7 900.0,860.0C885.0,843.3 876.7,793.3 870.0,760.0C863.3,726.7 855.0,670.0 860.0,660.0Z" fill="#6c6c6c" filter="url(#b4)"/><path d="M640.0,505.0C651.7,501.7 777.0,514.4 790.0,520.0C803.0,525.6 798.5,562.0 796.0,572.0C793.5,582.0 768.0,637.7 760.0,640.0C752.0,642.3 709.2,606.7 700.0,600.0C690.8,593.3 655.0,567.9 650.0,560.0C645.0,552.1 628.3,508.3 640.0,505.0Z" fill="#a8a8a8"/><path d="M660.0,520.0C670.0,515.8 741.7,526.7 760.0,535.0C778.3,543.3 780.0,565.8 770.0,570.0C760.0,574.2 718.3,568.3 700.0,560.0C681.7,551.7 650.0,524.2 660.0,520.0Z" fill="#7c7c7c" filter="url(#b2)"/><path d="M760.0,590.0L795.0,585.0L800.0,640.0L770.0,645.0Z" fill="#777" filter="url(#b2)"/><path d="M885.0,600.0C888.3,606.8 915.0,659.5 925.0,682.0C935.0,704.5 998.3,854.3 1005.0,870.0" fill="none" stroke="#555" stroke-width="8" stroke-linejoin="round" stroke-linecap="round"/><path d="M500.0,330.0L520.0,400.0" fill="none" stroke="#b0b0b0" stroke-width="13" stroke-linejoin="round" stroke-linecap="round" stroke-dasharray="26 28"/><path d="M548.0,300.0L560.0,390.0" fill="none" stroke="#b0b0b0" stroke-width="13" stroke-linejoin="round" stroke-linecap="round" stroke-dasharray="26 28"/><path d="M590.0,320.0L590.0,440.0" fill="none" stroke="#b0b0b0" stroke-width="13" stroke-linejoin="round" stroke-linecap="round" stroke-dasharray="26 28"/><path d="M640.0,300.0L630.0,420.0" fill="none" stroke="#b0b0b0" stroke-width="13" stroke-linejoin="round" stroke-linecap="round" stroke-dasharray="26 28"/><path d="M700.0,330.0L670.0,440.0" fill="none" stroke="#b0b0b0" stroke-width="13" stroke-linejoin="round" stroke-linecap="round" stroke-dasharray="26 28"/><path d="M750.0,400.0L700.0,460.0" fill="none" stroke="#b0b0b0" stroke-width="13" stroke-linejoin="round" stroke-linecap="round" stroke-dasharray="26 28"/><path d="M560.0,570.0L450.0,640.0" fill="none" stroke="#b0b0b0" stroke-width="13" stroke-linejoin="round" stroke-linecap="round" stroke-dasharray="26 28"/><path d="M600.0,580.0L520.0,690.0" fill="none" stroke="#b0b0b0" stroke-width="13" stroke-linejoin="round" stroke-linecap="round" stroke-dasharray="26 28"/><path d="M640.0,590.0L640.0,660.0" fill="none" stroke="#b0b0b0" stroke-width="13" stroke-linejoin="round" stroke-linecap="round" stroke-dasharray="26 28"/><path d="M520.0,540.0L560.0,590.0" fill="none" stroke="#b0b0b0" stroke-width="13" stroke-linejoin="round" stroke-linecap="round" stroke-dasharray="26 28"/><path d="M560.0,570.0L450.0,640.0" fill="none" stroke="#f4f4f4" stroke-width="7" stroke-linejoin="round" stroke-linecap="round"/><path d="M600.0,580.0L520.0,690.0" fill="none" stroke="#f4f4f4" stroke-width="7" stroke-linejoin="round" stroke-linecap="round"/><path d="M640.0,590.0L640.0,660.0" fill="none" stroke="#f4f4f4" stroke-width="7" stroke-linejoin="round" stroke-linecap="round"/><path d="M110.0,56.0C117.5,60.2 184.2,66.3 200.0,70.0C215.8,73.7 287.5,89.2 300.0,100.0C312.5,110.8 342.5,180.8 350.0,200.0C357.5,219.2 385.7,313.3 390.0,330.0C394.3,346.7 397.8,390.7 402.0,400.0C406.2,409.3 434.2,442.0 440.0,442.0C445.8,442.0 471.0,413.3 472.0,400.0C473.0,386.7 449.7,296.0 452.0,282.0C454.3,268.0 488.9,237.0 500.0,232.0C511.1,227.0 572.3,218.0 585.0,222.0C597.7,226.0 638.1,263.5 652.0,280.0C665.9,296.5 738.7,404.2 752.0,420.0C765.3,435.8 804.5,470.8 812.0,470.0C819.5,469.2 844.5,425.8 842.0,410.0C839.5,394.2 793.7,299.2 782.0,280.0C770.3,260.8 721.2,195.8 702.0,180.0C682.8,164.2 572.2,103.3 552.0,90.0C531.8,76.7 496.8,25.8 460.0,20.0C423.2,14.2 139.2,17.0 110.0,20.0C80.8,23.0 102.5,51.8 110.0,56.0Z" fill="#ececec" stroke="#8a8a8a" stroke-width="7.5" stroke-linejoin="round" stroke-linecap="round"/><path d="M400.0,60.0C413.3,51.7 466.7,83.3 500.0,100.0C533.3,116.7 566.7,133.3 600.0,160.0C633.3,186.7 700.0,246.7 700.0,260.0C700.0,273.3 633.3,250.0 600.0,240.0C566.7,230.0 530.0,215.0 500.0,200.0C470.0,185.0 436.7,173.3 420.0,150.0C403.3,126.7 386.7,68.3 400.0,60.0Z" fill="#f8f8f8" filter="url(#b8)"/><path d="M452.0,282.0C455.0,290.0 462.0,310.3 470.0,330.0C478.0,349.7 488.3,381.7 500.0,400.0C511.7,418.3 530.0,440.0 540.0,440.0C550.0,440.0 556.7,406.7 560.0,400.0" fill="none" stroke="#b4b4b4" stroke-width="5" stroke-linejoin="round" stroke-linecap="round"/><path d="M585.0,232.0C587.5,243.3 590.8,275.3 600.0,300.0C609.2,324.7 633.3,366.7 640.0,380.0" fill="none" stroke="#b4b4b4" stroke-width="5" stroke-linejoin="round" stroke-linecap="round"/><path d="M652.0,290.0C660.0,301.7 685.3,335.0 700.0,360.0C714.7,385.0 728.3,421.7 740.0,440.0C751.7,458.3 765.0,465.0 770.0,470.0" fill="none" stroke="#b4b4b4" stroke-width="5" stroke-linejoin="round" stroke-linecap="round"/><path d="M720.0,330.0C726.7,341.7 748.3,378.3 760.0,400.0C771.7,421.7 785.0,450.0 790.0,460.0" fill="none" stroke="#b4b4b4" stroke-width="5" stroke-linejoin="round" stroke-linecap="round"/><ellipse cx="425" cy="330" rx="30" ry="24" fill="#f2f2f2" stroke="#aaa" stroke-width="5" stroke-linejoin="round" stroke-linecap="round"/></g></g><rect x="441.2" y="707.6" width="133.6" height="104.6" rx="5" fill="none" stroke="#707173" stroke-width="1.1"/>
</svg>
</body>
</html>
